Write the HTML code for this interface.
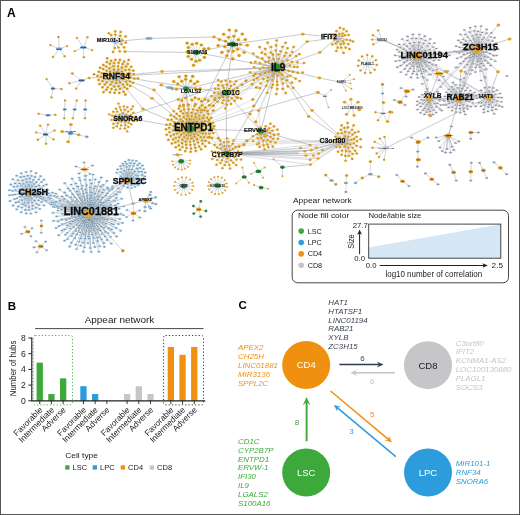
<!DOCTYPE html>
<html><head><meta charset="utf-8"><title>Figure</title>
<style>
html,body{margin:0;padding:0;background:#fff;}
body{width:520px;height:515px;overflow:hidden;position:relative;font-family:"Liberation Sans",sans-serif;}
svg{position:absolute;left:0;top:0;display:block;will-change:transform;opacity:0.999;}
#frame{position:absolute;left:0;top:0;width:518px;height:513px;border:1px solid #555;pointer-events:none;}
</style></head><body>
<svg width="520" height="515" viewBox="0 0 520 515" font-family="Liberation Sans, sans-serif">
<rect x="0" y="0" width="520" height="515" fill="#fff"/>
<g id="network">
<g fill="none" stroke="#79838D" stroke-linecap="round">
<path d="M115.2 41.6L149 38.4M149 38.4L214 37M214 37L232.7 44.2M125 51.6L196.4 52.5M196.4 52.5L232.7 44.2M196.4 52.5L276.7 67.6M116.1 76.2L162 71.5M162 71.5L276.7 67.6M123 117.4L276.7 67.6M116.1 76.2L276.7 67.6M116.1 76.2L154 90M154 90L189.8 128.8M116.1 76.2L152 98.3M152 98.3L189.8 128.8M161.2 85L169.5 87.6M169.5 87.6L186 88.8M116.1 76.2L226.2 92.8M123 117.4L189.8 128.8M116.1 76.2L143 109M143 109L189.8 128.8M232.7 44.2L189.8 128.8M232.7 44.2L226.2 92.8M232.7 44.2L276.7 67.6M232.7 44.2L302.8 34.2M302.8 34.2L337.4 37.6M276.7 67.6L189.8 128.8M276.7 67.6L226.2 92.8M276.7 67.6L226.6 153.6M276.7 67.6L260.9 131M276.7 67.6L186 88.8M276.7 67.6L307.1 41.7M307.1 41.7L337.4 37.6M276.7 67.6L319.9 52.4M319.9 52.4L337.4 37.6M276.7 67.6L319.3 78M319.3 78L341.3 82.3M276.7 67.6L308.7 116.4M308.7 116.4L345 141M276.7 67.6L312 110.4M312 110.4L345 141M226.2 92.8L189.8 128.8M186 88.8L189.8 128.8M226.2 92.8L260.9 131M189.8 128.8L226.6 153.6M189.8 128.8L260.9 131M226.2 92.8L226.6 153.6M324.8 95.8L317.8 92.4M317.8 92.4L189.8 128.8M260.9 131L310.1 144.9M282.4 167.2L310.5 164.6M416.7 56.2L476.8 49.2M416.7 56.2L459 98.6M416.7 56.2L429.3 98.2M476.8 49.2L459 98.6M476.8 49.2L488.8 96.9M459 98.6L429.3 98.2M459 98.6L488.8 96.9M476.8 49.2L429.3 98.2M416.7 56.2L488.8 96.9M438.7 73.5L416.7 56.2M438.7 73.5L459 98.6M438.7 73.5L429.3 98.2M461 70.9L476.8 49.2M461 70.9L459 98.6M446.5 71.7L438.7 73.5M498 71.8L476.8 49.2M498 71.8L488.8 96.9M488.8 96.9L386.3 147.7M459 98.6L448.3 135.8M416.7 56.2L385 40.6M385 40.6L381.9 40.2M429.3 98.2L430.4 115.8M476.8 49.2L498.4 25M476.8 49.2L509.6 39M89.1 78L116.1 76.2M133.1 203.6L127.1 180.9M133.1 203.6L145.7 200.5M133.1 203.6L88.6 213.6M88.6 213.6L127.1 180.9M29.5 192.6L88.6 213.6M381.9 40.2L400 47" stroke-width="0.5" opacity="0.85"/>
<path d="M226.6 153.6L310.1 144.9M226.6 153.6L316.4 147.7M226.6 153.6L304.8 151.3M226.6 153.6L311.2 150.2M226.6 153.6L318.6 153.4M226.6 153.6L305.9 155.5M226.6 153.6L313.3 155.5M226.6 153.6L310.1 159.7M226.6 153.6L310.5 164.6M226.6 153.6L322.5 150M226.6 153.6L300.5 148M226.6 153.6L318 158.5" stroke-width="0.5" opacity="0.55"/>
<path d="M310.1 144.9L345 141M316.4 147.7L345 141M304.8 151.3L345 141M311.2 150.2L345 141M318.6 153.4L345 141M305.9 155.5L345 141M313.3 155.5L345 141M310.1 159.7L345 141M310.5 164.6L345 141M322.5 150L345 141M300.5 148L345 141M318 158.5L345 141" stroke-width="0.4" opacity="0.7"/>
<path d="M214 141.5L345 141M216 144L345 141M219 146.5L345 141M212 139L345 141" stroke-width="0.3" opacity="0.7"/>
<path d="M173 154.7L182 154.7" stroke-width="1.6" opacity="0.5"/>
<path d="M243 154.2L298 152.8" stroke-width="2.2" opacity="0.3"/>
<path d="M416.7 56.2L446 53.4M446 53.4L476.8 49.2M416.7 56.2L454.4 51.5M454.4 51.5L476.8 49.2M416.7 56.2L447 53.6M447 53.6L476.8 49.2M416.7 56.2L441.1 53.5M441.1 53.5L476.8 49.2M416.7 56.2L449.4 55.3M449.4 55.3L476.8 49.2M416.7 56.2L439.2 51.6M439.2 51.6L476.8 49.2M416.7 56.2L430.5 74.4M430.5 74.4L459 98.6M416.7 56.2L443.5 76.6M443.5 76.6L459 98.6M416.7 56.2L440.7 86.8M440.7 86.8L459 98.6M416.7 56.2L439 80.2M439 80.2L459 98.6M416.7 56.2L436.9 69.6M436.9 69.6L459 98.6M416.7 56.2L441.3 74.7M441.3 74.7L459 98.6M476.8 49.2L472 70.2M472 70.2L459 98.6M476.8 49.2L470.7 67.1M470.7 67.1L459 98.6M476.8 49.2L465 71.9M465 71.9L459 98.6M476.8 49.2L466.5 73.7M466.5 73.7L459 98.6M476.8 49.2L466.4 73.3M466.4 73.3L459 98.6M476.8 49.2L470.2 74M470.2 74L459 98.6M476.8 49.2L460.6 79.6M460.6 79.6L459 98.6M476.8 49.2L464.1 78.2M464.1 78.2L459 98.6M476.8 49.2L484.8 69.7M484.8 69.7L488.8 96.9M476.8 49.2L486.2 69M486.2 69L488.8 96.9M476.8 49.2L484.7 76.6M484.7 76.6L488.8 96.9M476.8 49.2L485.1 77.7M485.1 77.7L488.8 96.9M476.8 49.2L481.1 80.5M481.1 80.5L488.8 96.9M459 98.6L448.6 101.4M448.6 101.4L429.3 98.2M459 98.6L440.5 98.7M440.5 98.7L429.3 98.2M459 98.6L439.9 99.4M439.9 99.4L429.3 98.2M459 98.6L470.2 99.3M470.2 99.3L488.8 96.9M459 98.6L476.3 95.3M476.3 95.3L488.8 96.9M459 98.6L470.1 96.3M470.1 96.3L488.8 96.9M416.7 56.2L422.3 83.8M422.3 83.8L429.3 98.2M416.7 56.2L424 71.7M424 71.7L429.3 98.2M416.7 56.2L425.7 70.9M425.7 70.9L429.3 98.2M416.7 56.2L427.2 80M427.2 80L429.3 98.2M416.7 56.2L423.7 77.8M423.7 77.8L429.3 98.2M476.8 49.2L455.8 67.5M455.8 67.5L429.3 98.2M476.8 49.2L457.3 67.3M457.3 67.3L429.3 98.2M416.7 56.2L444.8 71.2M444.8 71.2L488.8 96.9M416.7 56.2L447.7 71M447.7 71L488.8 96.9" stroke-width="0.25" opacity="0.6"/>
<path d="M189.8 128.8L195.5 104.2M186 88.8L195.5 104.2M189.8 128.8L183.5 105M186 88.8L183.5 105M189.8 128.8L181.8 100.5M186 88.8L181.8 100.5M189.8 128.8L179.8 105.9M186 88.8L179.8 105.9M189.8 128.8L191.9 100M186 88.8L191.9 100M189.8 128.8L188.3 104.8M186 88.8L188.3 104.8M189.8 128.8L185.6 97.9M186 88.8L185.6 97.9M189.8 128.8L178.3 99.4M186 88.8L178.3 99.4M189.8 128.8L195.1 97.8M186 88.8L195.1 97.8M189.8 128.8L202 105.4M226.2 92.8L202 105.4M189.8 128.8L209.5 105.3M226.2 92.8L209.5 105.3M189.8 128.8L213.2 105.8M226.2 92.8L213.2 105.8M189.8 128.8L213.2 110.6M226.2 92.8L213.2 110.6M189.8 128.8L201.7 109.9M226.2 92.8L201.7 109.9M189.8 128.8L208.3 100.8M226.2 92.8L208.3 100.8M189.8 128.8L214.7 99.8M226.2 92.8L214.7 99.8M189.8 128.8L201.5 101.2M226.2 92.8L201.5 101.2M189.8 128.8L205.3 107.6M226.2 92.8L205.3 107.6M189.8 128.8L204.8 99.4M226.2 92.8L204.8 99.4M189.8 128.8L207.4 111.1M226.2 92.8L207.4 111.1M189.8 128.8L198.7 98.9M226.2 92.8L198.7 98.9M276.7 67.6L246 80.8M226.2 92.8L246 80.8M276.7 67.6L253.7 75.6M226.2 92.8L253.7 75.6M276.7 67.6L241.9 84.8M226.2 92.8L241.9 84.8M276.7 67.6L252.1 84.1M226.2 92.8L252.1 84.1M276.7 67.6L256.4 87.4M226.2 92.8L256.4 87.4M276.7 67.6L237.6 97.9M189.8 128.8L237.6 97.9M276.7 67.6L253.8 106M189.8 128.8L253.8 106M276.7 67.6L252.9 99.4M189.8 128.8L252.9 99.4M276.7 67.6L258.6 110.6M260.9 131L258.6 110.6M276.7 67.6L255.8 121.8M260.9 131L255.8 121.8M276.7 67.6L249.9 113.9M260.9 131L249.9 113.9M189.8 128.8L218.4 138.3M226.6 153.6L218.4 138.3M189.8 128.8L214 126.1M226.6 153.6L214 126.1M189.8 128.8L209.4 137.3M226.6 153.6L209.4 137.3M189.8 128.8L209.1 119.8M226.6 153.6L209.1 119.8M260.9 131L243.9 144.8M226.6 153.6L243.9 144.8M260.9 131L246.9 140.8M226.6 153.6L246.9 140.8M260.9 131L239 146.6M226.6 153.6L239 146.6M29.5 192.6L55.9 193.6M88.6 213.6L55.9 193.6M29.5 192.6L53.6 204.1M88.6 213.6L53.6 204.1M29.5 192.6L51.3 204.4M88.6 213.6L51.3 204.4M29.5 192.6L51.4 202.6M88.6 213.6L51.4 202.6M29.5 192.6L48.6 197.4M88.6 213.6L48.6 197.4M29.5 192.6L53.7 202.4M88.6 213.6L53.7 202.4M29.5 192.6L52.6 192.6M88.6 213.6L52.6 192.6M29.5 192.6L53.4 206.7M88.6 213.6L53.4 206.7M29.5 192.6L50.5 195.5M88.6 213.6L50.5 195.5M29.5 192.6L54.3 195.9M88.6 213.6L54.3 195.9M29.5 192.6L48.6 193.3M88.6 213.6L48.6 193.3M29.5 192.6L54.4 207M88.6 213.6L54.4 207M29.5 192.6L56 202M88.6 213.6L56 202M29.5 192.6L57.1 206.4M88.6 213.6L57.1 206.4M29.5 192.6L50.5 198.5M88.6 213.6L50.5 198.5M29.5 192.6L58.2 208M88.6 213.6L58.2 208M127.1 180.9L116.3 194.2M88.6 213.6L116.3 194.2M127.1 180.9L112.5 187.2M88.6 213.6L112.5 187.2M127.1 180.9L112.3 189M88.6 213.6L112.3 189M127.1 180.9L116.2 194.5M88.6 213.6L116.2 194.5M127.1 180.9L116.2 197.8M88.6 213.6L116.2 197.8M127.1 180.9L108 188.7M88.6 213.6L108 188.7M127.1 180.9L109.3 190.8M88.6 213.6L109.3 190.8M127.1 180.9L119.9 192.1M88.6 213.6L119.9 192.1M127.1 180.9L118.4 188.4M88.6 213.6L118.4 188.4" stroke-width="0.3" opacity="0.75"/>
<path d="M116.1 76.2L119.9 78.2M116.1 76.2L116.6 79.9M116.1 76.2L113 79.1M116.1 76.2L111.6 76.1M116.1 76.2L113.6 72.6M116.1 76.2L117.3 72.1M116.1 76.2L120.3 74.9M116.1 76.2L116.1 83.1M116.1 76.2L112 82M116.1 76.2L109.2 79.2M116.1 76.2L108.2 75.1M116.1 76.2L110.2 71.4M116.1 76.2L114 69.8M116.1 76.2L118.4 69.4M116.1 76.2L121.9 71.4M116.1 76.2L123.8 74.9M116.1 76.2L123.6 78.9M116.1 76.2L120.2 82.3M116.1 76.2L109.5 68.3M116.1 76.2L113.5 66.2M116.1 76.2L118 66.3M116.1 76.2L121.9 67.6M116.1 76.2L125.4 70M116.1 76.2L127.3 73.9M116.1 76.2L127.6 78M116.1 76.2L126.1 81.7M116.1 76.2L123 84.5M116.1 76.2L118.6 86.2M116.1 76.2L114.3 86.5M116.1 76.2L110.4 84.6M116.1 76.2L106.6 82.4M116.1 76.2L105.6 78.7M116.1 76.2L105.1 74.7M116.1 76.2L106.7 70.7M116.1 76.2L127.2 84.4M116.1 76.2L124.4 87.3M116.1 76.2L120.1 88.7M116.1 76.2L115.9 89.8M116.1 76.2L111.5 89.1M116.1 76.2L107.7 87.4M116.1 76.2L104.7 84.5M116.1 76.2L102.4 81.1M116.1 76.2L101.1 77.1M116.1 76.2L101.7 73.3M116.1 76.2L103.2 69.1M116.1 76.2L106.2 66.5M116.1 76.2L109.8 63.8M116.1 76.2L114 63.1M116.1 76.2L118.5 62.8M116.1 76.2L122.7 63.9M116.1 76.2L126.1 66.4M116.1 76.2L129.3 69.7M116.1 76.2L130 73.5M116.1 76.2L130.4 77.3M116.1 76.2L130.1 81.5M116.1 76.2L110 92.3M116.1 76.2L106.3 89.7M116.1 76.2L102.5 87.2M116.1 76.2L99.6 83.9M116.1 76.2L98.6 79.9M116.1 76.2L97.6 75.9M116.1 76.2L98.8 71.8M116.1 76.2L100.1 67.8M116.1 76.2L103.3 64.9M116.1 76.2L106.8 62.1M116.1 76.2L111.2 60.8M116.1 76.2L115.4 59.7M116.1 76.2L119.9 59.9M116.1 76.2L124.1 61.5M116.1 76.2L127.8 63.9M116.1 76.2L131.2 66.8M116.1 76.2L133.3 70.5M116.1 76.2L133.8 74.3M116.1 76.2L134.4 78.5M116.1 76.2L133 82.7M116.1 76.2L130.2 85.9M116.1 76.2L127.2 88.8M116.1 76.2L123.6 91.7M116.1 76.2L119.3 92.9M116.1 76.2L114.5 92.7M116.1 76.2L137.9 78.4M116.1 76.2L125.3 94.6M116.1 76.2L103.5 92.1M116.1 76.2L94 74.2M116.1 76.2L107.2 58.2M116.1 76.2L128.7 60M115.2 41.6L111.2 35M115.2 41.6L115.4 34.8M115.2 41.6L120.3 35.9M115.2 41.6L122.3 40.4M115.2 41.6L121.5 44.1M115.2 41.6L118.5 47.5M115.2 41.6L114.8 48.1M115.2 41.6L108.8 33.2M115.2 41.6L115.2 31.4M115.2 41.6L120.7 31.9M115.2 41.6L125.7 36.4M115.2 41.6L125.8 42.6M115.2 41.6L124.1 47.4M115.2 41.6L119.8 51.4M115.2 41.6L113.1 51.9M123 117.4L125.3 121.9M123 117.4L121.2 121.4M123 117.4L118.7 118.5M123 117.4L119.7 114.8M123 117.4L123 113.2M123 117.4L126.3 114.7M123 117.4L127.3 118.5M123 117.4L130.5 119.5M123 117.4L128.7 122.8M123 117.4L125.3 125.1M123 117.4L121.1 125.4M123 117.4L117.6 123.2M123 117.4L115.6 119.8M123 117.4L115.4 115.5M123 117.4L117 111.6M123 117.4L120.9 109.9M123 117.4L125 109.7M123 117.4L128.2 111.5M123 117.4L130.4 115.2M123 117.4L133.7 120.9M123 117.4L131.3 124.3M123 117.4L128.4 127M123 117.4L124.7 128.5M123 117.4L120.2 128.6M123 117.4L116.9 126.4M123 117.4L113.4 123.8M123 117.4L111.6 119.9M123 117.4L112.1 115.6M123 117.4L113.2 111.8M123 117.4L116 108.7M123 117.4L119.8 107.1M123 117.4L123.8 106.5M123 117.4L127.4 107.2M123 117.4L131.3 109.2M123 117.4L133.3 112.8M123 117.4L134 117.2M123 117.4L127.2 131.4M123 117.4L113.3 127.8M123 117.4L109.3 114.4M123 117.4L118.5 103.6M123 117.4L133 106.4M123 117.4L136.7 120.6M28.5 192.6L29.5 196.5M28.5 192.6L26.5 197M28.5 192.6L24.3 194M28.5 192.6L25.4 190.9M28.5 192.6L27.4 188.4M28.5 192.6L30.4 188.1M28.5 192.6L32 191.2M28.5 192.6L31.7 194.6M28.5 192.6L34.3 196.1M28.5 192.6L31.7 198.6M28.5 192.6L28.7 200.1M28.5 192.6L25.2 198.8M28.5 192.6L22.1 196.2M28.5 192.6L21.7 192.3M28.5 192.6L22.7 188.7M28.5 192.6L25.5 186.2M28.5 192.6L29 185M28.5 192.6L32 186.1M28.5 192.6L34.2 189.4M28.5 192.6L35.9 192.6M28.5 192.6L19.2 193.3M28.5 192.6L19.8 189.8M28.5 192.6L21.1 185.8M28.5 192.6L23.4 183.9M28.5 192.6L26.9 182.1M28.5 192.6L30.3 182.2M28.5 192.6L33.9 183.9M28.5 192.6L35.9 186.5M28.5 192.6L37.3 190.2M28.5 192.6L38 193.9M28.5 192.6L36.9 197.1M28.5 192.6L34.5 200.5M28.5 192.6L32.1 202.6M28.5 192.6L28.2 202.8M28.5 192.6L24.2 202.9M28.5 192.6L21.9 200.2M28.5 192.6L19.9 196.7M28.5 192.6L29 206.9M28.5 192.6L25.5 205.5M28.5 192.6L22.6 204.2M28.5 192.6L18.6 201.9M28.5 192.6L16.6 198.4M28.5 192.6L15.2 194.4M28.5 192.6L15.4 189.9M28.5 192.6L17.3 186.1M28.5 192.6L19.5 183.4M28.5 192.6L22.5 180.4M28.5 192.6L26.1 179.1M28.5 192.6L29.5 178.3M28.5 192.6L33.3 179.9M28.5 192.6L36.2 182.2M28.5 192.6L39 185.5M28.5 192.6L41.3 188.4M28.5 192.6L40.9 193M28.5 192.6L40.4 196.5M28.5 192.6L38.5 200.3M28.5 192.6L36.8 203.8M28.5 192.6L32.7 205.7M28.5 192.6L18.3 206.5M28.5 192.6L16 202.5M28.5 192.6L14.5 199M28.5 192.6L12.4 195M28.5 192.6L12.5 190.8M28.5 192.6L13.8 186.8M28.5 192.6L15.1 183.4M28.5 192.6L17.9 180.2M28.5 192.6L20.6 177M28.5 192.6L24.1 176.4M28.5 192.6L27.9 175.7M28.5 192.6L31.6 175.9M28.5 192.6L35 177M28.5 192.6L38.8 179.3M28.5 192.6L41.6 182M28.5 192.6L43.5 185.8M28.5 192.6L44.8 190.1M28.5 192.6L44.2 193.8M28.5 192.6L43.5 197.8M28.5 192.6L41.7 201.9M28.5 192.6L39.1 204.9M28.5 192.6L36.2 207.7M28.5 192.6L32.5 208.8M28.5 192.6L28.8 209.9M28.5 192.6L25.2 210M28.5 192.6L21.7 207.6M28.5 192.6L45.9 200.6M28.5 192.6L43.9 205.3M28.5 192.6L39.7 208.9M28.5 192.6L36.1 212.3M28.5 192.6L30.8 213.6M28.5 192.6L26.2 213.4M28.5 192.6L21.3 212.2M28.5 192.6L16.7 209.3M28.5 192.6L13 205.5M28.5 192.6L10.1 201M28.5 192.6L9.6 195.2M28.5 192.6L9.4 190.2M28.5 192.6L10.8 184.5M28.5 192.6L12.8 179.3M28.5 192.6L16.7 175.7M28.5 192.6L21.3 173.3M28.5 192.6L26.1 171.9M28.5 192.6L31 171.1M28.5 192.6L36 173M28.5 192.6L40.6 176.2M28.5 192.6L43.9 179.7M28.5 192.6L46.4 184.5M28.5 192.6L47.6 190M28.5 192.6L47.2 195.2M127.1 180.9L130.7 175.9M127.1 180.9L129.6 172.9M127.1 180.9L132.6 173.2M127.1 180.9L131.9 169.4M127.1 180.9L134.6 171.5M127.1 180.9L136.1 175M127.1 180.9L134 178.2M127.1 180.9L130.1 178.2M127.1 180.9L127.3 176M127.1 180.9L126.7 172.9M127.1 180.9L128.8 169.4M127.1 180.9L123.2 174.1M127.1 180.9L124.3 170.7M127.1 180.9L126.6 166.9M127.1 180.9L129.7 165.8M127.1 180.9L133.6 165.8M127.1 180.9L137.2 168.7M127.1 180.9L138.9 171.7M127.1 180.9L137.9 175.8M127.1 180.9L136.2 178.4M127.1 180.9L133.4 180.2M127.1 180.9L130.2 181M127.1 180.9L123.4 177.5M127.1 180.9L140.4 178.9M127.1 180.9L137.9 181.5M127.1 180.9L134.9 183.9M127.1 180.9L131.4 185.1M127.1 180.9L127.6 184.1M127.1 180.9L124.5 182.3M127.1 180.9L121.7 179.3M127.1 180.9L120.8 176.2M127.1 180.9L120.5 172.2M127.1 180.9L121.3 168.8M127.1 180.9L123.6 165.6M127.1 180.9L126.7 164M127.1 180.9L130.5 163M127.1 180.9L134.1 163.4M127.1 180.9L137.8 165M127.1 180.9L140 168M127.1 180.9L141.7 171.7M127.1 180.9L142.2 175M127.1 180.9L116.7 172.8M127.1 180.9L117.7 169.4M127.1 180.9L120.5 166.2M127.1 180.9L122.8 163.7M127.1 180.9L125.4 161.7M127.1 180.9L128.9 160M127.1 180.9L132.5 160.4M127.1 180.9L136.3 160.9M127.1 180.9L139.4 163.3M127.1 180.9L142.3 165.5M127.1 180.9L143.5 169.1M127.1 180.9L145.1 172.5M127.1 180.9L144.8 176.4M127.1 180.9L143.5 179.9M127.1 180.9L140.9 183.2M127.1 180.9L138.1 185.1M127.1 180.9L135 186.7M127.1 180.9L131.5 188.1M127.1 180.9L127.6 187.5M127.1 180.9L123.7 186M127.1 180.9L121.2 183.3M145.7 200.5L150 194.9M145.7 200.5L151.5 198.3M145.7 200.5L152.6 203.2M145.7 200.5L149.5 206.9M145.7 200.5L145 207.1M145.7 200.5L150.8 192M145.7 200.5L155.5 197.4M145.7 200.5L155.8 204.1M145.7 200.5L150.7 208.5M145.7 200.5L144.8 211.2M189.8 128.8L187.8 132.5M189.8 128.8L185.4 129.7M189.8 128.8L186.4 125.9M189.8 128.8L190 124.5M189.8 128.8L193.5 126.3M189.8 128.8L193.9 129.8M189.8 128.8L191.3 132.5M189.8 128.8L195.9 131.6M189.8 128.8L194.2 134.7M189.8 128.8L190.3 135.6M189.8 128.8L186.4 135.3M189.8 128.8L183.9 132.9M189.8 128.8L182.7 129.6M189.8 128.8L183.5 126.2M189.8 128.8L185.5 123.2M189.8 128.8L189.1 122.3M189.8 128.8L192.9 122.8M189.8 128.8L195.7 125M189.8 128.8L197.1 128.2M189.8 128.8L198.1 135.1M189.8 128.8L194.6 136.9M189.8 128.8L191.5 138.5M189.8 128.8L187.7 138.6M189.8 128.8L184.3 137.1M189.8 128.8L181.1 134.7M189.8 128.8L179.9 131.2M189.8 128.8L179.7 127.7M189.8 128.8L180.5 124.4M189.8 128.8L182.8 121.2M189.8 128.8L186.6 119.4M189.8 128.8L189.9 119.2M189.8 128.8L193.7 119.6M189.8 128.8L197 121.6M189.8 128.8L199.3 124.5M189.8 128.8L200 128M189.8 128.8L199.7 131.7M189.8 128.8L191.7 116.1M189.8 128.8L195.5 117.3M189.8 128.8L199.4 118.9M189.8 128.8L201.7 122.1M189.8 128.8L203.4 125.9M189.8 128.8L203.4 129.8M189.8 128.8L202.4 133.4M189.8 128.8L200.7 137.2M189.8 128.8L197.3 139.3M189.8 128.8L193.9 140.9M189.8 128.8L190.1 141.6M189.8 128.8L185.6 141.6M189.8 128.8L182.3 139.8M189.8 128.8L179.3 137.2M189.8 128.8L177.1 133.6M189.8 128.8L176.2 129.9M189.8 128.8L176 126M189.8 128.8L178.2 122.6M189.8 128.8L180.7 119.5M189.8 128.8L183.7 117.2M189.8 128.8L187.7 115.5M189.8 128.8L195.4 113.7M189.8 128.8L199.4 115.7M189.8 128.8L202.8 118M189.8 128.8L204.9 121.3M189.8 128.8L206.6 125.5M189.8 128.8L206.5 129.3M189.8 128.8L205.8 133.4M189.8 128.8L204.2 137.1M189.8 128.8L202.1 140.4M189.8 128.8L198 142.4M189.8 128.8L194.6 144.5M189.8 128.8L190.3 144.8M189.8 128.8L186.1 144.7M189.8 128.8L182 143.3M189.8 128.8L178.2 141.1M189.8 128.8L175.8 137.9M189.8 128.8L173.8 134.5M189.8 128.8L173 130.3M189.8 128.8L173.6 126.1M189.8 128.8L174.3 122.4M189.8 128.8L176.3 118.4M189.8 128.8L179.7 115.9M189.8 128.8L183.2 113.4M189.8 128.8L187.1 112.9M189.8 128.8L191.6 112.8M189.8 128.8L200.9 112.1M189.8 128.8L203.8 115.4M189.8 128.8L207.1 117.8M189.8 128.8L208.3 121.9M189.8 128.8L209.6 125.8M189.8 128.8L210.2 129.7M189.8 128.8L209.4 133.7M189.8 128.8L207.8 137.5M189.8 128.8L205.3 140.9M189.8 128.8L202.6 143.8M189.8 128.8L199.2 146.5M189.8 128.8L195.3 147.7M189.8 128.8L191 148.5M189.8 128.8L186.6 148.1M189.8 128.8L182.5 147.1M189.8 128.8L178.9 145.5M189.8 128.8L175.4 142.4M189.8 128.8L173.2 139.4M189.8 128.8L170.8 136M189.8 128.8L169.5 132.1M189.8 128.8L169.2 127.8M189.8 128.8L170.2 124M189.8 128.8L171.5 119.6M189.8 128.8L174.3 116.7M189.8 128.8L176.8 113.8M189.8 128.8L180.7 111.2M189.8 128.8L184.1 109.4M189.8 128.8L188.7 109.1M189.8 128.8L193.1 109.4M189.8 128.8L197.2 110.3M189.8 128.8L201.1 149.3M189.8 128.8L195.8 150.9M189.8 128.8L190.6 151.8M189.8 128.8L185.2 151.1M189.8 128.8L180 149.8M189.8 128.8L175.8 147.2M189.8 128.8L171.9 143.5M189.8 128.8L168.4 139.7M189.8 128.8L166.7 134.7M189.8 128.8L166 129.3M189.8 128.8L166.5 124.7M189.8 128.8L167.9 119.7M189.8 128.8L170.8 115.2M189.8 128.8L173.8 111.1M189.8 128.8L178.9 108.4M189.8 128.8L183.5 106.4M189.8 128.8L188.9 105.3M189.8 128.8L194.5 105.7M189.8 128.8L199.3 107.8M189.8 128.8L204.4 110.3M189.8 128.8L208.2 113.7M189.8 128.8L211.2 117.8M189.8 128.8L212.9 122.9M189.8 128.8L213.2 128.3M189.8 128.8L213.2 133M189.8 128.8L212 138M189.8 128.8L209.1 142.7M189.8 128.8L205.3 146.2M276.7 67.6L276.4 62.9M276.7 67.6L279.7 64.7M276.7 67.6L282.2 68.2M276.7 67.6L279.3 72.4M276.7 67.6L275.1 71.3M276.7 67.6L273.3 69M276.7 67.6L272.5 65.9M276.7 67.6L268.5 61.4M276.7 67.6L273.4 59.2M276.7 67.6L278.6 59.1M276.7 67.6L282.6 61.6M276.7 67.6L284.8 65.8M276.7 67.6L284.8 70.1M276.7 67.6L281.9 74.7M276.7 67.6L277.7 75.7M276.7 67.6L272.6 75.7M276.7 67.6L269.4 71.8M276.7 67.6L268.3 67.5M276.7 67.6L288.7 71.1M276.7 67.6L287.5 76.5M276.7 67.6L282.3 79M276.7 67.6L277.1 81.6M276.7 67.6L272.3 80M276.7 67.6L267.9 77.4M276.7 67.6L264.9 72.9M276.7 67.6L263.3 67.5M276.7 67.6L265.6 62.1M276.7 67.6L269.2 57.6M276.7 67.6L273 54.7M276.7 67.6L278.4 54.5M276.7 67.6L284.6 55.9M276.7 67.6L287.6 60.3M276.7 67.6L289.8 65.5M276.7 67.6L267.4 80.9M276.7 67.6L263.4 79M276.7 67.6L260 74.3M276.7 67.6L259.9 69M276.7 67.6L259.8 63.1M276.7 67.6L262.2 58.4M276.7 67.6L265.3 54.2M276.7 67.6L270.8 52.6M276.7 67.6L275.7 50.5M276.7 67.6L280.6 51.3M276.7 67.6L286.2 52.8M276.7 67.6L290.1 55.6M276.7 67.6L291.9 61.8M276.7 67.6L294.3 66.8M276.7 67.6L292.8 71.9M276.7 67.6L290.3 75.8M276.7 67.6L286.9 80.4M276.7 67.6L283 83.4M276.7 67.6L277.4 84.8M276.7 67.6L272.8 84.8M276.7 67.6L257.4 57.1M276.7 67.6L261.8 52.7M276.7 67.6L265.2 48.9M276.7 67.6L271.1 47M276.7 67.6L276 45.4M276.7 67.6L282.4 46.9M276.7 67.6L287.5 48.2M276.7 67.6L292.3 52M276.7 67.6L296.1 56.1M276.7 67.6L297.5 62.3M276.7 67.6L297.5 67M276.7 67.6L297.7 72.8M276.7 67.6L295.6 78.6M276.7 67.6L291.9 82.7M276.7 67.6L287.8 86.4M276.7 67.6L282.7 88.9M276.7 67.6L277.3 89M276.7 67.6L271.6 87.6M276.7 67.6L266.1 86M276.7 67.6L260.7 83.3M276.7 67.6L257.1 78.4M276.7 67.6L255.4 73.9M276.7 67.6L254.1 67.3M276.7 67.6L255.4 61.9M276.7 67.6L299.3 54.2M276.7 67.6L304 63M276.7 67.6L302.7 72.6M276.7 67.6L299.6 81.1M276.7 67.6L293.3 87.9M276.7 67.6L285.7 93.1M276.7 67.6L276.3 94M276.7 67.6L267.3 92.8M276.7 67.6L259.7 88.1M276.7 67.6L253.9 80.1M276.7 67.6L250.1 72.4M276.7 67.6L250.8 62.7M276.7 67.6L253.2 53.5M276.7 67.6L259.6 47.2M276.7 67.6L267.6 42.7M276.7 67.6L276.6 40.5M276.7 67.6L285.6 42.8M276.7 67.6L293.7 47M226.2 92.8L229.3 88.8M226.2 92.8L230.9 93M226.2 92.8L227.8 97.2M226.2 92.8L223 97.1M226.2 92.8L221.7 92.6M226.2 92.8L223.6 87.8M226.2 92.8L227 84.7M226.2 92.8L230.9 85.9M226.2 92.8L233.7 90M226.2 92.8L233.9 94.6M226.2 92.8L231.8 98.2M226.2 92.8L228.2 100.5M226.2 92.8L223.6 100.2M226.2 92.8L219.4 97.7M226.2 92.8L218.4 93.4M226.2 92.8L218.6 88.7M226.2 92.8L222.6 85.6M226.2 92.8L215.2 88.7M226.2 92.8L218.2 85M226.2 92.8L221.4 81.6M226.2 92.8L225.8 80.8M226.2 92.8L230.2 81.4M226.2 92.8L234.3 84.3M226.2 92.8L237.4 88M226.2 92.8L238.3 92.1M226.2 92.8L236.6 97.2M226.2 92.8L234.7 100.8M226.2 92.8L231 104M226.2 92.8L226.9 104.8M226.2 92.8L222.3 103M226.2 92.8L217.3 101.8M226.2 92.8L215 98.1M226.2 92.8L214.3 92.9M226.2 92.8L211.5 96M226.2 92.8L218.1 80M226.2 92.8L236 81.3M226.2 92.8L241 98.7M226.2 92.8L225.4 108.5M186 88.8L176.4 89.2M186 88.8L177.8 84M186 88.8L181.8 81.2M186 88.8L185.7 79.2M186 88.8L190.7 81.1M186 88.8L194.5 83.8M186 88.8L195.3 88.8M186 88.8L172.2 88.7M186 88.8L173.8 81.5M186 88.8L179.1 76.7M186 88.8L185.9 76.1M186 88.8L192.7 76.4M186 88.8L197.5 81.7M186 88.8L200.1 88.7M196.4 52.5L199.7 60.2M196.4 52.5L196.1 61.3M196.4 52.5L191.5 59.3M196.4 52.5L188.2 56.5M196.4 52.5L187.4 51.9M196.4 52.5L188.3 47.6M196.4 52.5L192.2 44.3M196.4 52.5L196.7 43.3M196.4 52.5L201.4 45M196.4 52.5L204.1 48.9M196.4 52.5L205.4 53.4M196.4 52.5L204.4 57.4M196.4 52.5L193.5 65.3M196.4 52.5L187.1 43.1M196.4 52.5L208.7 48.6M232.7 44.2L233.2 51.2M232.7 44.2L228.3 51.1M232.7 44.2L224.9 46.8M232.7 44.2L225.5 41.2M232.7 44.2L228.6 37.3M232.7 44.2L233.9 36.2M232.7 44.2L238.4 39.7M232.7 44.2L240.4 44.5M232.7 44.2L237.6 49.3M232.7 44.2L219.4 39.6M232.7 44.2L223.6 34.2M232.7 44.2L229.3 30.1M232.7 44.2L236 30.7M232.7 44.2L242.3 34M232.7 44.2L245.3 39.6M232.7 44.2L247.2 45.3M232.7 44.2L244.1 52.5M232.7 44.2L239.1 55.6M232.7 44.2L232.8 58.9M232.7 44.2L226.9 55.8M232.7 44.2L221.9 52.4M232.7 44.2L218.1 45.6M226.6 153.6L225.2 149.3M226.6 153.6L229.6 150.4M226.6 153.6L230.6 154.9M226.6 153.6L227.6 158.3M226.6 153.6L223.6 156.4M226.6 153.6L222.3 152.4M226.6 153.6L219.4 157M226.6 153.6L218.5 152.1M226.6 153.6L220.8 148.4M226.6 153.6L224.4 146M226.6 153.6L228.7 145.9M226.6 153.6L232.7 148.8M226.6 153.6L234.1 152.5M226.6 153.6L234.2 157.1M226.6 153.6L230.9 160.4M226.6 153.6L226.4 161.9M226.6 153.6L222 160.3M226.6 153.6L215 151.8M226.6 153.6L217.2 147.6M226.6 153.6L220.2 144.6M226.6 153.6L224 142.2M226.6 153.6L228.5 141.7M226.6 153.6L232.9 143.8M226.6 153.6L235.4 147.1M226.6 153.6L238 151.2M226.6 153.6L238.1 155.5M226.6 153.6L236.5 159.8M226.6 153.6L233.4 162.8M226.6 153.6L229.3 164.9M226.6 153.6L224.9 165M226.6 153.6L220.5 163.1M226.6 153.6L217.3 160.1M226.6 153.6L215.5 156.5M226.6 153.6L220.2 140.5M226.6 153.6L227 138.3M226.6 153.6L233.6 140.6M226.6 153.6L239 145.7M226.6 153.6L241.8 152.3M226.6 153.6L241.1 159.6M226.6 153.6L236.1 165.1M226.6 153.6L230.1 168.5M226.6 153.6L222.4 168.2M226.6 153.6L216.5 164.8M226.6 153.6L212.2 159M226.6 153.6L211.9 151.4M226.6 153.6L214.6 144.9M260.9 131L266.7 135.7M260.9 131L264.6 136.5M260.9 131L264.7 134.5M260.9 131L267.4 130.4M260.9 131L269.9 132.7M260.9 131L270.5 137M260.9 131L267.7 140.2M260.9 131L263.1 140.6M260.9 131L261.1 138.1M260.9 131L260 134.1M260.9 131L265.6 126.3M260.9 131L269.2 128.2M260.9 131L272.4 130.7M260.9 131L274 134.9M260.9 131L273.2 138.8M260.9 131L270.8 141.8M260.9 131L267.4 144.6M260.9 131L263.6 145.4M260.9 131L258.7 143.2M260.9 131L257.6 138.3M260.9 131L257.4 134.3M260.9 131L257.6 129.9M260.9 131L260.4 127.6M260.9 131L270.5 123.7M260.9 131L273.9 126.4M260.9 131L277.5 129.6M260.9 131L278.4 134.2M260.9 131L278 138.8M260.9 131L275.5 142.6M260.9 131L272.8 146.6M260.9 131L268.3 147.1M260.9 131L264.5 149.4M260.9 131L259.6 146.9M260.9 131L257.1 144.2M260.9 131L253.1 141M260.9 131L252.9 136.3M337.4 37.6L342.4 36.3M337.4 37.6L343.1 41.3M337.4 37.6L345 35.3M337.4 37.6L346.6 39.7M337.4 37.6L343.8 43.5M337.4 37.6L340.8 44.3M337.4 37.6L337.4 41.8M337.4 37.6L339.3 34.1M337.4 37.6L342.6 33.5M337.4 37.6L340 27.8M337.4 37.6L343.6 29.1M337.4 37.6L346.6 31.3M337.4 37.6L348.5 34.9M337.4 37.6L350.2 40.4M337.4 37.6L348.3 44.1M337.4 37.6L345.6 47.7M337.4 37.6L341.2 47.6M337.4 37.6L337.9 47.8M337.4 37.6L335.7 43.5M337.4 37.6L334.5 39.7M337.4 37.6L334.5 34.4M337.4 37.6L336.5 31.1M337.4 37.6L353 41.5M337.4 37.6L349.5 49.1M337.4 37.6L343.5 52.9M337.4 37.6L336.3 51M337.4 37.6L332.4 44.5M337.4 37.6L331.4 36.5M345 141L347.4 139.5M345 141L347.2 143.4M345 141L342.1 139.3M345 141L344.9 136.4M345 141L348.3 136.7M345 141L351.5 139.7M345 141L350.3 144.4M345 141L348.4 147.7M345 141L344.6 146.6M345 141L342.1 144.1M345 141L346.2 151.1M345 141L342 150.8M345 141L339.9 146.9M345 141L338 142M345 141L339.1 137.7M345 141L341.6 133.2M345 141L345 131.9M345 141L349.2 132.6M345 141L352.4 134.6M345 141L354 138.9M345 141L353.8 143.2M345 141L352.7 147.8M345 141L349.7 151.6M345 141L345.4 155.9M345 141L341.6 154.8M345 141L338 151.8M345 141L336.4 147M345 141L335.9 142.5M345 141L335.6 136.8M345 141L338 133.4M345 141L340.8 129.8M345 141L344.5 127.9M345 141L348 127.4M345 141L352.1 129.8M345 141L354.8 132.6M345 141L356.6 136.8M345 141L357 141.2M345 141L356.5 145.8M345 141L355.1 150.7M345 141L352.6 154M345 141L348.7 155.8M345 141L341.6 125.4M345 141L347.6 122.9M345 141L353.6 125.4M345 141L358.4 131.6M345 141L360.7 139.3M345 141L360.7 147.1M345 141L356.7 153.5M345 141L352.2 158.9M345 141L345.6 160.7M81.6 80.4L72.4 73.5M81.6 80.4L89.1 78M70.5 133.2L86.8 136.7M382.5 84.4L383 113.3M400 102.6L407 91.2M390.2 112L387.6 121.5M325.7 175L335.8 184.3M346.6 175.5L345.9 191.9M355.5 183L362.3 178M362.3 178L370.4 174.2M370.4 174.2L378.7 176.7M370.4 174.2L370.4 161.6" stroke-width="0.35" opacity="0.8"/>
<path d="M88.6 213.6L90.1 217.4M88.6 213.6L87 217.5M88.6 213.6L85.3 215.6M88.6 213.6L84.2 212.5M88.6 213.6L85.9 208.5M88.6 213.6L90.3 209M88.6 213.6L92.6 211.6M88.6 213.6L92.2 215.3M88.6 213.6L92.9 206.6M88.6 213.6L95.3 210M88.6 213.6L95.8 213.3M88.6 213.6L94.9 216.8M88.6 213.6L92.4 219.6M88.6 213.6L89.3 222.3M88.6 213.6L86.4 220.6M88.6 213.6L83.4 218.9M88.6 213.6L81 215.2M88.6 213.6L82.3 212.5M88.6 213.6L83.5 208.6M88.6 213.6L85.9 206.3M88.6 213.6L89.6 206.7M88.6 213.6L86.7 224.3M88.6 213.6L82.5 223.7M88.6 213.6L80.7 219.6M88.6 213.6L79 216.6M88.6 213.6L79 211.9M88.6 213.6L79.5 208.7M88.6 213.6L82.6 205.6M88.6 213.6L85.4 203.7M88.6 213.6L88.4 202.7M88.6 213.6L92.5 202.4M88.6 213.6L95.2 206.7M88.6 213.6L97.6 209.2M88.6 213.6L98.8 212.8M88.6 213.6L97.5 216.8M88.6 213.6L96.4 221M88.6 213.6L94.5 223.5M88.6 213.6L90.5 224.6M88.6 213.6L100.6 215.4M88.6 213.6L100.4 219.7M88.6 213.6L97.6 223.2M88.6 213.6L94.8 226.9M88.6 213.6L91.7 228.4M88.6 213.6L87.7 228M88.6 213.6L83.9 226.8M88.6 213.6L79.6 225.5M88.6 213.6L78.4 220.6M88.6 213.6L75.5 217.5M88.6 213.6L75.8 213.7M88.6 213.6L76.5 209.1M88.6 213.6L78.6 205.4M88.6 213.6L80.8 203.1M88.6 213.6L84.5 200.8M88.6 213.6L87.5 198.6M88.6 213.6L91.5 200.3M88.6 213.6L95 202.1M88.6 213.6L98.2 204.8M88.6 213.6L100.5 207.7M88.6 213.6L101.7 212.2M88.6 213.6L72.7 221.4M88.6 213.6L71.8 216.9M88.6 213.6L72.3 212.6M88.6 213.6L73.2 209.3M88.6 213.6L75 204.8M88.6 213.6L76.3 201.1M88.6 213.6L79.9 198M88.6 213.6L83.5 196.2M88.6 213.6L87.5 195.1M88.6 213.6L91.3 195.6M88.6 213.6L95 197.8M88.6 213.6L98 199.5M88.6 213.6L101.4 202.5M88.6 213.6L103.8 205.6M88.6 213.6L105.8 209.7M88.6 213.6L106 214.3M88.6 213.6L104.6 219.4M88.6 213.6L102.5 222.9M88.6 213.6L101.1 226.6M88.6 213.6L97.6 229.7M88.6 213.6L93.9 230M88.6 213.6L90.2 230.9M88.6 213.6L86.3 230.9M88.6 213.6L82.4 229.1M88.6 213.6L78.9 227.9M88.6 213.6L76.5 224.9M88.6 213.6L91.6 192.4M88.6 213.6L95 193.5M88.6 213.6L98.6 196.5M88.6 213.6L102.6 197.5M88.6 213.6L105.5 202.1M88.6 213.6L107.4 206.3M88.6 213.6L108 211.1M88.6 213.6L108.5 215.5M88.6 213.6L107 219.6M88.6 213.6L105.8 223.7M88.6 213.6L103.8 227.7M88.6 213.6L100.1 230.5M88.6 213.6L95.9 233.2M88.6 213.6L92.3 234.6M88.6 213.6L88.3 236.3M88.6 213.6L83.7 234.2M88.6 213.6L80.2 232.3M88.6 213.6L75.8 230.9M88.6 213.6L73.6 227M88.6 213.6L70.2 223.5M88.6 213.6L70.1 218.6M88.6 213.6L68.3 214.3M88.6 213.6L68.2 209.7M88.6 213.6L70.1 204.6M88.6 213.6L72.3 201.1M88.6 213.6L74.5 197.2M88.6 213.6L78.3 194.5M88.6 213.6L83.3 193.4M88.6 213.6L86.7 192.6M88.6 213.6L102.6 192.4M88.6 213.6L105.9 195.6M88.6 213.6L108.6 200.4M88.6 213.6L110.7 205M88.6 213.6L111.1 209.2M88.6 213.6L111.9 213.7M88.6 213.6L112.1 219.3M88.6 213.6L111.6 223.6M88.6 213.6L108.9 228.2M88.6 213.6L105.6 232M88.6 213.6L102.1 234.1M88.6 213.6L98.2 237.6M88.6 213.6L93.6 238M88.6 213.6L89.1 238.5M88.6 213.6L85.2 238.7M88.6 213.6L80.7 238.4M88.6 213.6L76.9 234.4M88.6 213.6L73.1 233.6M88.6 213.6L70.4 228.6M88.6 213.6L67.1 225.4M88.6 213.6L66.3 220M88.6 213.6L64.6 215.3M88.6 213.6L65 211.2M88.6 213.6L66.4 205.8M88.6 213.6L68.2 202M88.6 213.6L70.7 197.2M88.6 213.6L72.6 194.2M88.6 213.6L76.9 191.5M88.6 213.6L81.5 188.7M88.6 213.6L85.3 189.6M88.6 213.6L90.2 187.3M88.6 213.6L93.9 188.4M88.6 213.6L99 191M88.6 213.6L103.8 189.6M88.6 213.6L107.2 193.4M88.6 213.6L110.6 196.8M88.6 213.6L114.3 200.6M88.6 213.6L115.3 205.4M88.6 213.6L115.7 210.2M88.6 213.6L115.6 215.4M88.6 213.6L114.9 220.3M88.6 213.6L113.4 224.4M88.6 213.6L111.7 229.5M88.6 213.6L108 233.1M88.6 213.6L105.1 236.4M88.6 213.6L101.6 239.6M88.6 213.6L97.7 241M88.6 213.6L93.2 242.9M88.6 213.6L87.9 243.2M88.6 213.6L83.5 242.7M88.6 213.6L79 241.6M88.6 213.6L74.8 238.2M88.6 213.6L71.6 235.9M88.6 213.6L67.2 232.9M88.6 213.6L64.4 229.3M88.6 213.6L62.3 224.1M88.6 213.6L61.6 219.5M88.6 213.6L62.3 213.8M88.6 213.6L61.4 209.7M88.6 213.6L61.9 204.8M88.6 213.6L64.2 199M88.6 213.6L66.5 195.5M88.6 213.6L70 190.7M88.6 213.6L73.4 188.6M88.6 213.6L77.9 186.5M88.6 213.6L82.2 185.8M88.6 213.6L86.4 185.2M88.6 213.6L91.5 183.4M88.6 213.6L95.6 186.3M88.6 213.6L100.8 186.5M88.6 213.6L62 230.5M88.6 213.6L59 226M88.6 213.6L58.1 221.4M88.6 213.6L56.7 216.4M88.6 213.6L57.9 210.6M88.6 213.6L57.4 205.8M88.6 213.6L59.9 200.7M88.6 213.6L62.1 196.4M88.6 213.6L64.7 192.5M88.6 213.6L68.1 188.5M88.6 213.6L71 184.6M88.6 213.6L75.8 183.4M88.6 213.6L80.1 180.3M88.6 213.6L84.9 179.6M88.6 213.6L90 179.9M88.6 213.6L95.2 179.4M88.6 213.6L98.9 182M88.6 213.6L103 184.9M88.6 213.6L107.3 187.4M88.6 213.6L111 189.7M88.6 213.6L115.1 194M88.6 213.6L116.3 198.6M88.6 213.6L118 203.7M88.6 213.6L119.1 208.7M88.6 213.6L121 213.8M88.6 213.6L119.8 219M88.6 213.6L118.4 224M88.6 213.6L116 228M88.6 213.6L113.9 232.9M88.6 213.6L110.4 236.8M88.6 213.6L107.1 240M88.6 213.6L103.9 243M88.6 213.6L99.7 246.2M88.6 213.6L94.8 247M88.6 213.6L90.2 248M88.6 213.6L84.5 247.3M88.6 213.6L80.7 245.7M88.6 213.6L75.7 244.7M88.6 213.6L71.2 242.8M88.6 213.6L67.7 239.1M88.6 213.6L65.4 234.8M88.6 213.6L120.6 230.7M88.6 213.6L116.6 236.5M88.6 213.6L111.4 243.6M88.6 213.6L104.4 246.8M88.6 213.6L98.9 251.7M88.6 213.6L91.2 251.9M88.6 213.6L83.4 251.7M88.6 213.6L76.7 249.1M88.6 213.6L69.7 246.5M88.6 213.6L64.6 240.7M88.6 213.6L58.7 235.2M88.6 213.6L56 228.1M88.6 213.6L53.5 221M88.6 213.6L52.9 212.8M88.6 213.6L55 204.7M88.6 213.6L56.6 196.9M88.6 213.6L59.6 189.6M88.6 213.6L64.8 183.2M88.6 213.6L72.1 178.7M88.6 213.6L79.3 177.8M88.6 213.6L86.1 175.6M88.6 213.6L93 174.6M88.6 213.6L101.3 177.4M88.6 213.6L107 181M88.6 213.6L112.8 186.3M88.6 213.6L118 191.8M88.6 213.6L121.6 198.7M88.6 213.6L123.7 206.3M88.6 213.6L123.5 215.1M88.6 213.6L122.4 222.9" stroke-width="0.42" opacity="0.95"/>
<path d="M416.7 56.2L419.7 53.5M416.7 56.2L421.3 56.7M416.7 56.2L418.4 60.8M416.7 56.2L414.7 60.7M416.7 56.2L412.4 57.1M416.7 56.2L413.7 53.4M416.7 56.2L416.6 52M416.7 56.2L418.5 49.3M416.7 56.2L422.1 51.2M416.7 56.2L424.1 55M416.7 56.2L423.3 58.8M416.7 56.2L420.6 62M416.7 56.2L416.7 63.8M416.7 56.2L413.1 62.7M416.7 56.2L410.8 59.3M416.7 56.2L409.4 55.5M416.7 56.2L411.2 51.3M416.7 56.2L414.1 49M416.7 56.2L406.9 60.2M416.7 56.2L405.9 56.2M416.7 56.2L406.4 51.8M416.7 56.2L409.8 48.8M416.7 56.2L413.4 45.9M416.7 56.2L418.5 45.1M416.7 56.2L421.7 47.1M416.7 56.2L425.4 50.7M416.7 56.2L427.8 54.3M416.7 56.2L427.9 58.7M416.7 56.2L425 62.4M416.7 56.2L422 66M416.7 56.2L417.7 66.7M416.7 56.2L412.7 66.2M416.7 56.2L409.6 63.8M416.7 56.2L418.8 70.8M416.7 56.2L414 71.4M416.7 56.2L410.1 68.5M416.7 56.2L407 65.4M416.7 56.2L404.1 62.2M416.7 56.2L402.8 58.4M416.7 56.2L402.4 53.9M416.7 56.2L403.6 49.2M416.7 56.2L406.9 46.2M416.7 56.2L410 43.3M416.7 56.2L414.4 42.6M416.7 56.2L419.1 42.4M416.7 56.2L423.6 43.3M416.7 56.2L427.4 46M416.7 56.2L429.4 49.6M416.7 56.2L431.4 54.3M416.7 56.2L430.5 58.5M416.7 56.2L429.4 62.4M416.7 56.2L426.6 66.1M416.7 56.2L422.9 69.2M416.7 56.2L416.9 74.4M416.7 56.2L412.6 73.6M416.7 56.2L408.2 71.2M416.7 56.2L404.7 68.9M416.7 56.2L400.7 65.7M416.7 56.2L399.7 60.6M416.7 56.2L399.7 56.8M416.7 56.2L399.1 52M416.7 56.2L400.4 47.5M416.7 56.2L404 44.3M416.7 56.2L407.1 40.5M416.7 56.2L411.8 38.5M416.7 56.2L416.1 38.4M416.7 56.2L421.2 38.7M416.7 56.2L425.6 40.5M416.7 56.2L429.4 43.4M416.7 56.2L433 47M416.7 56.2L434.5 51.3M416.7 56.2L434 56.1M416.7 56.2L433.9 60.6M416.7 56.2L432.4 64.8M416.7 56.2L429.5 68.9M416.7 56.2L425.6 71.4M416.7 56.2L421.7 73.6M416.7 56.2L419.4 34.5M416.7 56.2L424.8 36.2M416.7 56.2L430.1 39.1M416.7 56.2L434.3 43M416.7 56.2L436.2 48.6M416.7 56.2L438.7 54.4M416.7 56.2L439 60M416.7 56.2L436 65.1M416.7 56.2L433.2 70.6M416.7 56.2L429 74.6M416.7 56.2L422.8 76.9M416.7 56.2L417.5 77.8M416.7 56.2L411 77.4M416.7 56.2L406.2 74.6M416.7 56.2L400.9 72.1M416.7 56.2L397.4 67.2M416.7 56.2L395.7 61.1M416.7 56.2L395.2 55.4M416.7 56.2L397 49.6M416.7 56.2L399.1 44.4M416.7 56.2L402.2 39.1M416.7 56.2L407.5 36.3M416.7 56.2L412.9 34.4M476.8 49.2L479.3 51.9M476.8 49.2L476.9 53.5M476.8 49.2L473.1 52.1M476.8 49.2L473.4 47.8M476.8 49.2L475.2 44.3M476.8 49.2L478.7 45M476.8 49.2L480.5 48.4M476.8 49.2L480.2 55.8M476.8 49.2L476.9 56.6M476.8 49.2L472.9 56.4M476.8 49.2L470.2 52.9M476.8 49.2L470 47.7M476.8 49.2L471.5 44.3M476.8 49.2L475.3 42.1M476.8 49.2L478.8 42.2M476.8 49.2L482.1 44.2M476.8 49.2L483.6 48.2M476.8 49.2L483.7 52.6M476.8 49.2L472.6 60M476.8 49.2L469.5 57.4M476.8 49.2L467.5 53.1M476.8 49.2L466.7 48.6M476.8 49.2L467.8 44M476.8 49.2L470.3 40.5M476.8 49.2L474 38.9M476.8 49.2L478.3 37.5M476.8 49.2L482.3 39.3M476.8 49.2L485.3 43.5M476.8 49.2L487 47.5M476.8 49.2L486.4 51.9M476.8 49.2L484.8 56.6M476.8 49.2L481.1 58.9M476.8 49.2L477.6 61.4M476.8 49.2L463.4 45M476.8 49.2L465.9 41.1M476.8 49.2L467.8 37.1M476.8 49.2L472.5 35.8M476.8 49.2L476.6 34.7M476.8 49.2L480.4 34.8M476.8 49.2L483.7 37.8M476.8 49.2L488 40.1M476.8 49.2L489.9 43.8M476.8 49.2L490.5 48.6M476.8 49.2L490 53.5M476.8 49.2L487.8 57.2M476.8 49.2L484.9 60.7M476.8 49.2L481.3 63.4M476.8 49.2L477.4 65M476.8 49.2L473.3 63.8M476.8 49.2L469.4 61M476.8 49.2L465.8 58.4M476.8 49.2L463.9 54.4M476.8 49.2L462.5 49.9M476.8 49.2L492.5 41.1M476.8 49.2L493.4 45.6M476.8 49.2L494.4 50.4M476.8 49.2L493.5 55.7M476.8 49.2L491 59.3M476.8 49.2L487.9 63.2M476.8 49.2L483.8 65.5M476.8 49.2L479.9 67.1M476.8 49.2L475.8 67.4M476.8 49.2L471.4 66.9M476.8 49.2L467.2 64.7M476.8 49.2L463.5 61.3M476.8 49.2L461 57M476.8 49.2L459.2 52.9M476.8 49.2L459.6 47.3M476.8 49.2L460.9 42.7M476.8 49.2L463.1 39.3M476.8 49.2L465.3 34.5M476.8 49.2L469.5 32M476.8 49.2L474 30.8M476.8 49.2L478 31.4M476.8 49.2L482.1 32.4M476.8 49.2L486.6 33.2M476.8 49.2L490.7 37.1M476.8 49.2L458.4 40.4M476.8 49.2L460.5 34.5M476.8 49.2L464.4 30M476.8 49.2L470.1 27.7M476.8 49.2L475.3 26.3M476.8 49.2L481.1 26.1M476.8 49.2L486.7 29.4M476.8 49.2L491.4 32.9M476.8 49.2L494.5 37.7M476.8 49.2L496.4 43.2M476.8 49.2L498.1 49.2M476.8 49.2L496.6 55.5M476.8 49.2L495.2 61M476.8 49.2L490.8 65.4M476.8 49.2L486.3 69.4M476.8 49.2L480.6 71M476.8 49.2L475.3 72M476.8 49.2L469.9 70M476.8 49.2L464.6 67.1M476.8 49.2L460.4 63.5M476.8 49.2L457.2 58.3M476.8 49.2L456.6 51.9M476.8 49.2L456.2 46.2M459 98.6L454.7 97.9M459 98.6L457.5 94.9M459 98.6L461.2 95.5M459 98.6L463.2 99.7M459 98.6L460.5 102.8M459 98.6L456.1 101.3M459 98.6L463.6 93.8M459 98.6L466.3 96.9M459 98.6L466.2 101.2M459 98.6L463.3 104.9M459 98.6L459.8 105.5M459 98.6L455.5 105M459 98.6L452.4 102.6M459 98.6L452.3 98.2M459 98.6L452.8 94.1M459 98.6L456.2 91.8M459 98.6L460.3 91.7M459 98.6L469.2 101.6M459 98.6L467.3 105.9M459 98.6L463.9 108.1M459 98.6L460 108.7M459 98.6L456 108.6M459 98.6L452.1 107M459 98.6L449.2 103.6M459 98.6L449 99.2M459 98.6L449.3 95.5M459 98.6L451.2 91.8M459 98.6L453.7 89.2M459 98.6L457.9 87.9M459 98.6L462 88.6M459 98.6L465.6 90.4M459 98.6L468.8 93.5M459 98.6L469.3 97.8M459 98.6L467.5 109M459 98.6L464 111.3M459 98.6L460.3 112.6M459 98.6L456 112M459 98.6L452 110.6M459 98.6L448.7 107.5M459 98.6L446.1 104.9M459 98.6L444.5 101.1M459 98.6L444.8 96.4M459 98.6L446.5 92.3M459 98.6L448.7 89.3M459 98.6L451.9 86.9M459 98.6L455.8 84.8M459 98.6L460.2 85.1M459 98.6L464.2 85.7M459 98.6L467.4 87.8M459 98.6L470.5 90.6M459 98.6L472.7 94.7M459 98.6L473.3 98.8M459 98.6L472.8 102.8M459 98.6L470.7 106.6M459 98.6L474.5 92.5M459 98.6L465.3 114.5M459 98.6L443.4 104.7M459 98.6L453 82.7M429.3 98.2L430.5 105M429.3 98.2L426.8 104.8M429.3 98.2L428.8 102.6M429.3 98.2L432.3 100.5M429.3 98.2L434.5 103.5M429.3 98.2L431.7 107.5M429.3 98.2L428.4 109.7M429.3 98.2L424.7 108.2M429.3 98.2L423.2 103.8M429.3 98.2L424.2 100.1M429.3 98.2L436.3 98.7M429.3 98.2L437.3 103.4M429.3 98.2L436.5 106.9M429.3 98.2L433.5 110.1M429.3 98.2L430.1 111.6M429.3 98.2L426.6 112.1M429.3 98.2L423.2 110.2M429.3 98.2L420.8 106.5M429.3 98.2L419.8 103M429.3 98.2L421.8 99.6M429.3 98.2L424.6 97.1M429.3 98.2L428.3 94.6M429.3 98.2L432.7 96.6M429.3 98.2L422.3 94.7M429.3 98.2L425.8 91.8M429.3 98.2L430.4 92.5M429.3 98.2L434 94.4M429.3 98.2L438.4 96.7M429.3 98.2L439.4 100.7M429.3 98.2L440.8 105.1M429.3 98.2L440 109.1M429.3 98.2L436.1 112.6M429.3 98.2L432.9 114.5M429.3 98.2L429 114.8M429.3 98.2L424.5 114.4M429.3 98.2L420.6 112.8M429.3 98.2L417.5 109.5M429.3 98.2L417.2 105.1M429.3 98.2L417.2 101.3M429.3 98.2L419.1 96.9M429.3 98.2L427.1 88.8M429.3 98.2L437.5 91.7M429.3 98.2L443.6 100.2M429.3 98.2L441.8 110.6M488.8 96.9L490.1 100.7M488.8 96.9L494.1 99.5M488.8 96.9L492.6 102.2M488.8 96.9L489 104.6M488.8 96.9L485.8 102.6M488.8 96.9L484.3 98.7M488.8 96.9L486 94.9M488.8 96.9L489.3 94.3M488.8 96.9L493.6 95.9M488.8 96.9L493.2 91.7M488.8 96.9L495.4 94.5M488.8 96.9L498.4 97.5M488.8 96.9L497.3 101.1M488.8 96.9L495.8 105.2M488.8 96.9L492.4 107.4M488.8 96.9L488.3 106.9M488.8 96.9L484.3 105.1M488.8 96.9L481.5 102.8M488.8 96.9L480.6 98.1M488.8 96.9L482.8 94.6M488.8 96.9L485.3 92.3M488.8 96.9L488.9 91.1M488.8 96.9L489.5 87.1M488.8 96.9L493.2 87.9M488.8 96.9L496.9 90.2M488.8 96.9L500 93.5M488.8 96.9L501.7 97.7M488.8 96.9L501.3 101.8M488.8 96.9L499.2 105.9M488.8 96.9L496 109.4M488.8 96.9L491.9 110.4M488.8 96.9L487.9 111.4M488.8 96.9L483.7 109.3M488.8 96.9L481 106.2M488.8 96.9L478.7 102.7M488.8 96.9L476.9 98.2M488.8 96.9L479 94.4M488.8 96.9L481.1 90.4M488.8 96.9L484.8 87.7M488.8 96.9L502.1 106.8M488.8 96.9L494.1 113.8M488.8 96.9L483.9 112.3M488.8 96.9L475.6 106.2M488.8 96.9L474.8 95.9" stroke-width="0.4" opacity="0.9"/>
<path d="M59.2 48.8L58.5 37M59.2 48.8L50.4 45.1M59.2 48.8L67 46.1M59.2 48.8L53.1 56.9M59.2 48.8L64.6 56.3M83.4 47.4L76.9 37.9M83.4 47.4L87.5 37.2M83.4 47.4L92.1 50.1M83.4 47.4L83.9 57.2M83.4 47.4L74.8 51.1M81.6 80.4L69.4 83.2M81.6 80.4L76.2 88.5M53 88.5L46.6 79.1M53 88.5L61.3 89M53 88.5L51.5 97.4M64.7 109.4L65 100.5M64.7 109.4L64.3 118.2M74.7 109.4L76.7 100.5M74.7 109.4L72.8 118.2M85.2 109.4L85.5 100.5M85.2 109.4L84.9 118.2M48 115.3L38.6 113.7M48 115.3L55.4 114.8M45.6 134.4L40.2 125.7M45.6 134.4L48 124.6M45.6 134.4L54.5 130.5M45.6 134.4L36.3 132.4M45.6 134.4L37.9 139.7M45.6 134.4L46.1 143.7M45.6 134.4L53.4 139.3M70.5 133.2L70.9 124.6M70.5 133.2L62.2 131.6M70.5 133.2L78.7 134.7M70.5 133.2L68.1 141.7M27.8 231.8L24.9 227M27.8 231.8L32 228.3M27.8 231.8L21.7 233.8M27.8 231.8L31 236.3M41.4 226L41.2 220.6M41.4 226L41.2 232.8M40.8 246.4L35.9 241.2M40.8 246.4L45.6 241.6M40.8 246.4L34 247.4M40.8 246.4L46.6 250.3M40.8 246.4L36.9 252.2M84.6 169.3L76 166.5M84.6 169.3L92.5 165.5M84.6 169.3L79 173.5M84.6 169.3L90 174M84.6 169.3L84 162.5M84.6 169.3L85 176M133.5 213.3L127 210M133.5 213.3L139.5 210.5M133.5 213.3L126.5 217M133.5 213.3L140 217.5M133.5 213.3L133 220.5M133.5 213.3L133.1 203.6M88.6 213.6L122.8 250.7M181.2 161.2L190.2 160.5M181.2 161.2L189.8 163.8M181.2 161.2L188 166.8M181.2 161.2L185.1 168.8M181.2 161.2L181.7 169.7M181.2 161.2L178.1 169.2M181.2 161.2L175.1 167.4M181.2 161.2L173 164.7M181.2 161.2L172.2 161.3M181.2 161.2L178 155.2M183.7 186.1L193.3 186.1M183.7 186.1L192.3 190M183.7 186.1L189.6 193.2M183.7 186.1L185.7 194.9M183.7 186.1L181.4 194.8M183.7 186.1L177.5 193M183.7 186.1L174.9 189.8M183.7 186.1L174.1 185.8M183.7 186.1L175.2 181.9M183.7 186.1L178.1 178.8M183.7 186.1L182 177.2M183.7 186.1L186.3 177.4M183.7 186.1L190.1 179.4M183.7 186.1L192.6 182.7M217.5 185.5L226.8 187M217.5 185.5L225.3 190.4M217.5 185.5L222.5 193M217.5 185.5L218.8 194.2M217.5 185.5L214.9 194M217.5 185.5L211.5 192.2M217.5 185.5L209.1 189.4M217.5 185.5L208.1 185.8M217.5 185.5L208.8 182.2M217.5 185.5L211 179.2M217.5 185.5L214.3 177.2M217.5 185.5L218.2 176.7M217.5 185.5L221.9 177.7M217.5 185.5L224.9 180.1M217.5 185.5L226.6 183.4M198.7 209.4L193.4 206M198.7 209.4L200.8 201.3M198.7 209.4L205.9 210.9M198.7 209.4L200.6 216.6M198.7 209.4L193.8 213.6M244.2 177L242.5 167.5M244.2 177L236.2 183.4M244.2 177L248.9 182.7M258.4 171.3L254.1 162.8M258.4 171.3L264.7 167.5M258.4 171.3L263.2 177.7M258.4 171.3L251 173.8M261.1 187.6L254.1 185M261.1 187.6L267.9 188.7M282.4 167.2L273.5 159.1M282.4 167.2L282.4 176.2M341.3 82.3L349.8 74.8M341.3 82.3L354.1 79.1M341.3 82.3L350.5 83.4M341.3 82.3L351.3 88.7M341.3 82.3L346 90.6M324.8 95.8L331 89.8M324.8 95.8L328.5 107.3M352 107.3L344.5 102.2M352 107.3L350.9 99.4M352 107.3L358 102.2M352 107.3L346.6 114.4M352 107.3L354.1 115.4M352 107.3L359.4 110M367.4 64.1L376.8 64.9M367.4 64.1L374.8 69.8M367.4 64.1L370.5 72.8M367.4 64.1L365.1 73M367.4 64.1L360.5 70.4M367.4 64.1L358.1 65.7M367.4 64.1L358.7 60.5M367.4 64.1L362.1 56.5M367.4 64.1L367.2 54.9M367.4 64.1L372.4 56.3M367.4 64.1L375.9 60.2M381.9 40.2L378.2 30.4M381.9 40.2L372.9 35.3M381.9 40.2L372.3 39.6M381.9 40.2L373.3 44.3M383 113.3L375.5 112.2M383 113.3L392.1 112.2M383 113.3L378 120.3M383 113.3L387.2 121.2M407 91.2L401 88M407 91.2L413 89.5M407 91.2L406 96.5M400 102L394.5 100M400 102L405 105M386.3 147.7L379.9 138.6M386.3 147.7L374.6 141.7M386.3 147.7L372.5 147.7M386.3 147.7L376.7 153.4M386.3 147.7L384.1 159.7M386.3 147.7L379 157M386.3 147.7L384.5 137M448.3 135.8L436.3 137.5M448.3 135.8L438.8 141M448.3 135.8L440 147.5M448.3 135.8L442.3 151M448.3 135.8L445.5 152.5M448.3 135.8L447 148.8M448.3 135.8L450.5 152.5M448.3 135.8L453.8 150M448.3 135.8L455.5 143M448.3 135.8L458.8 141.3M448.3 135.8L452 146.5M448.3 135.8L451.3 126.3M470.8 132.5L478.4 132.5M470.8 132.5L470.8 138.8M418.3 142L411.5 137.6M418.3 142L427.9 137.6M418.3 142L417.8 151.5M418.3 159.8L417.8 151.5M418.3 159.8L417.3 166.6M402.6 181.3L396.8 175M402.6 181.3L409 186M431.7 179.2L425.4 173.4M431.7 179.2L438 184.3M453.6 172.4L449.8 164.8M453.6 172.4L456.2 180.5M470.8 171.7L471.3 162.8M470.8 171.7L470.8 180.5M483.4 170.4L479.6 162.8M483.4 170.4L486.7 178M500.4 167.9L494 162.3M500.4 167.9L506.7 174.2" stroke-width="0.4" opacity="0.85"/>
</g>
<g fill="#C48E1B" stroke="#F3CF74" stroke-width="1.15" paint-order="stroke">
<ellipse cx="119.9" cy="78.2" rx="1.15" ry=".98"/>
<ellipse cx="116.6" cy="79.9" rx="1.15" ry=".98"/>
<ellipse cx="113" cy="79.1" rx="1.15" ry=".98"/>
<ellipse cx="111.6" cy="76.1" rx="1.15" ry=".98"/>
<ellipse cx="113.6" cy="72.6" rx="1.15" ry=".98"/>
<ellipse cx="117.3" cy="72.1" rx="1.15" ry=".98"/>
<ellipse cx="120.3" cy="74.9" rx="1.15" ry=".98"/>
<ellipse cx="116.1" cy="83.1" rx="1.15" ry=".98"/>
<ellipse cx="112" cy="82" rx="1.15" ry=".98"/>
<ellipse cx="109.2" cy="79.2" rx="1.15" ry=".98"/>
<ellipse cx="108.2" cy="75.1" rx="1.15" ry=".98"/>
<ellipse cx="110.2" cy="71.4" rx="1.15" ry=".98"/>
<ellipse cx="114" cy="69.8" rx="1.15" ry=".98"/>
<ellipse cx="118.4" cy="69.4" rx="1.15" ry=".98"/>
<ellipse cx="121.9" cy="71.4" rx="1.15" ry=".98"/>
<ellipse cx="123.8" cy="74.9" rx="1.15" ry=".98"/>
<ellipse cx="123.6" cy="78.9" rx="1.15" ry=".98"/>
<ellipse cx="120.2" cy="82.3" rx="1.15" ry=".98"/>
<ellipse cx="109.5" cy="68.3" rx="1.15" ry=".98"/>
<ellipse cx="113.5" cy="66.2" rx="1.15" ry=".98"/>
<ellipse cx="118" cy="66.3" rx="1.15" ry=".98"/>
<ellipse cx="121.9" cy="67.6" rx="1.15" ry=".98"/>
<ellipse cx="125.4" cy="70" rx="1.15" ry=".98"/>
<ellipse cx="127.3" cy="73.9" rx="1.15" ry=".98"/>
<ellipse cx="127.6" cy="78" rx="1.15" ry=".98"/>
<ellipse cx="126.1" cy="81.7" rx="1.15" ry=".98"/>
<ellipse cx="123" cy="84.5" rx="1.15" ry=".98"/>
<ellipse cx="118.6" cy="86.2" rx="1.15" ry=".98"/>
<ellipse cx="114.3" cy="86.5" rx="1.15" ry=".98"/>
<ellipse cx="110.4" cy="84.6" rx="1.15" ry=".98"/>
<ellipse cx="106.6" cy="82.4" rx="1.15" ry=".98"/>
<ellipse cx="105.6" cy="78.7" rx="1.15" ry=".98"/>
<ellipse cx="105.1" cy="74.7" rx="1.15" ry=".98"/>
<ellipse cx="106.7" cy="70.7" rx="1.15" ry=".98"/>
<ellipse cx="127.2" cy="84.4" rx="1.15" ry=".98"/>
<ellipse cx="124.4" cy="87.3" rx="1.15" ry=".98"/>
<ellipse cx="120.1" cy="88.7" rx="1.15" ry=".98"/>
<ellipse cx="115.9" cy="89.8" rx="1.15" ry=".98"/>
<ellipse cx="111.5" cy="89.1" rx="1.15" ry=".98"/>
<ellipse cx="107.7" cy="87.4" rx="1.15" ry=".98"/>
<ellipse cx="104.7" cy="84.5" rx="1.15" ry=".98"/>
<ellipse cx="102.4" cy="81.1" rx="1.15" ry=".98"/>
<ellipse cx="101.1" cy="77.1" rx="1.15" ry=".98"/>
<ellipse cx="101.7" cy="73.3" rx="1.15" ry=".98"/>
<ellipse cx="103.2" cy="69.1" rx="1.15" ry=".98"/>
<ellipse cx="106.2" cy="66.5" rx="1.15" ry=".98"/>
<ellipse cx="109.8" cy="63.8" rx="1.15" ry=".98"/>
<ellipse cx="114" cy="63.1" rx="1.15" ry=".98"/>
<ellipse cx="118.5" cy="62.8" rx="1.15" ry=".98"/>
<ellipse cx="122.7" cy="63.9" rx="1.15" ry=".98"/>
<ellipse cx="126.1" cy="66.4" rx="1.15" ry=".98"/>
<ellipse cx="129.3" cy="69.7" rx="1.15" ry=".98"/>
<ellipse cx="130" cy="73.5" rx="1.15" ry=".98"/>
<ellipse cx="130.4" cy="77.3" rx="1.15" ry=".98"/>
<ellipse cx="130.1" cy="81.5" rx="1.15" ry=".98"/>
<ellipse cx="110" cy="92.3" rx="1.15" ry=".98"/>
<ellipse cx="106.3" cy="89.7" rx="1.15" ry=".98"/>
<ellipse cx="102.5" cy="87.2" rx="1.15" ry=".98"/>
<ellipse cx="99.6" cy="83.9" rx="1.15" ry=".98"/>
<ellipse cx="98.6" cy="79.9" rx="1.15" ry=".98"/>
<ellipse cx="97.6" cy="75.9" rx="1.15" ry=".98"/>
<ellipse cx="98.8" cy="71.8" rx="1.15" ry=".98"/>
<ellipse cx="100.1" cy="67.8" rx="1.15" ry=".98"/>
<ellipse cx="103.3" cy="64.9" rx="1.15" ry=".98"/>
<ellipse cx="106.8" cy="62.1" rx="1.15" ry=".98"/>
<ellipse cx="111.2" cy="60.8" rx="1.15" ry=".98"/>
<ellipse cx="115.4" cy="59.7" rx="1.15" ry=".98"/>
<ellipse cx="119.9" cy="59.9" rx="1.15" ry=".98"/>
<ellipse cx="124.1" cy="61.5" rx="1.15" ry=".98"/>
<ellipse cx="127.8" cy="63.9" rx="1.15" ry=".98"/>
<ellipse cx="131.2" cy="66.8" rx="1.15" ry=".98"/>
<ellipse cx="133.3" cy="70.5" rx="1.15" ry=".98"/>
<ellipse cx="133.8" cy="74.3" rx="1.15" ry=".98"/>
<ellipse cx="134.4" cy="78.5" rx="1.15" ry=".98"/>
<ellipse cx="133" cy="82.7" rx="1.15" ry=".98"/>
<ellipse cx="130.2" cy="85.9" rx="1.15" ry=".98"/>
<ellipse cx="127.2" cy="88.8" rx="1.15" ry=".98"/>
<ellipse cx="123.6" cy="91.7" rx="1.15" ry=".98"/>
<ellipse cx="119.3" cy="92.9" rx="1.15" ry=".98"/>
<ellipse cx="114.5" cy="92.7" rx="1.15" ry=".98"/>
<ellipse cx="137.9" cy="78.4" rx="1.15" ry=".98"/>
<ellipse cx="125.3" cy="94.6" rx="1.15" ry=".98"/>
<ellipse cx="103.5" cy="92.1" rx="1.15" ry=".98"/>
<ellipse cx="94" cy="74.2" rx="1.15" ry=".98"/>
<ellipse cx="107.2" cy="58.2" rx="1.15" ry=".98"/>
<ellipse cx="128.7" cy="60" rx="1.15" ry=".98"/>
</g>
<g fill="#9CC8EA">
<ellipse cx="116.1" cy="76.2" rx="4.2" ry="3.4"/>
</g>
<g fill="#D3961D" stroke="#F5D27A" stroke-width="0.9" paint-order="stroke">
<ellipse cx="111.2" cy="35" rx="1.25" ry="1.05"/>
<ellipse cx="115.4" cy="34.8" rx="1.25" ry="1.05"/>
<ellipse cx="120.3" cy="35.9" rx="1.25" ry="1.05"/>
<ellipse cx="122.3" cy="40.4" rx="1.25" ry="1.05"/>
<ellipse cx="121.5" cy="44.1" rx="1.25" ry="1.05"/>
<ellipse cx="118.5" cy="47.5" rx="1.25" ry="1.05"/>
<ellipse cx="114.8" cy="48.1" rx="1.25" ry="1.05"/>
<ellipse cx="108.8" cy="33.2" rx="1.25" ry="1.05"/>
<ellipse cx="115.2" cy="31.4" rx="1.25" ry="1.05"/>
<ellipse cx="120.7" cy="31.9" rx="1.25" ry="1.05"/>
<ellipse cx="125.7" cy="36.4" rx="1.25" ry="1.05"/>
<ellipse cx="125.8" cy="42.6" rx="1.25" ry="1.05"/>
<ellipse cx="124.1" cy="47.4" rx="1.25" ry="1.05"/>
<ellipse cx="119.8" cy="51.4" rx="1.25" ry="1.05"/>
<ellipse cx="113.1" cy="51.9" rx="1.25" ry="1.05"/>
</g>
<g fill="#9CC8EA">
<ellipse cx="115.2" cy="41.6" rx="3" ry="2.4"/>
</g>
<g fill="#D3961D" stroke="#F5D27A" stroke-width="0.9" paint-order="stroke">
<ellipse cx="125.3" cy="121.9" rx="1.15" ry=".95"/>
<ellipse cx="121.2" cy="121.4" rx="1.15" ry=".95"/>
<ellipse cx="118.7" cy="118.5" rx="1.15" ry=".95"/>
<ellipse cx="119.7" cy="114.8" rx="1.15" ry=".95"/>
<ellipse cx="123" cy="113.2" rx="1.15" ry=".95"/>
<ellipse cx="126.3" cy="114.7" rx="1.15" ry=".95"/>
<ellipse cx="127.3" cy="118.5" rx="1.15" ry=".95"/>
<ellipse cx="130.5" cy="119.5" rx="1.15" ry=".95"/>
<ellipse cx="128.7" cy="122.8" rx="1.15" ry=".95"/>
<ellipse cx="125.3" cy="125.1" rx="1.15" ry=".95"/>
<ellipse cx="121.1" cy="125.4" rx="1.15" ry=".95"/>
<ellipse cx="117.6" cy="123.2" rx="1.15" ry=".95"/>
<ellipse cx="115.6" cy="119.8" rx="1.15" ry=".95"/>
<ellipse cx="115.4" cy="115.5" rx="1.15" ry=".95"/>
<ellipse cx="117" cy="111.6" rx="1.15" ry=".95"/>
<ellipse cx="120.9" cy="109.9" rx="1.15" ry=".95"/>
<ellipse cx="125" cy="109.7" rx="1.15" ry=".95"/>
<ellipse cx="128.2" cy="111.5" rx="1.15" ry=".95"/>
<ellipse cx="130.4" cy="115.2" rx="1.15" ry=".95"/>
<ellipse cx="133.7" cy="120.9" rx="1.15" ry=".95"/>
<ellipse cx="131.3" cy="124.3" rx="1.15" ry=".95"/>
<ellipse cx="128.4" cy="127" rx="1.15" ry=".95"/>
<ellipse cx="124.7" cy="128.5" rx="1.15" ry=".95"/>
<ellipse cx="120.2" cy="128.6" rx="1.15" ry=".95"/>
<ellipse cx="116.9" cy="126.4" rx="1.15" ry=".95"/>
<ellipse cx="113.4" cy="123.8" rx="1.15" ry=".95"/>
<ellipse cx="111.6" cy="119.9" rx="1.15" ry=".95"/>
<ellipse cx="112.1" cy="115.6" rx="1.15" ry=".95"/>
<ellipse cx="113.2" cy="111.8" rx="1.15" ry=".95"/>
<ellipse cx="116" cy="108.7" rx="1.15" ry=".95"/>
<ellipse cx="119.8" cy="107.1" rx="1.15" ry=".95"/>
<ellipse cx="123.8" cy="106.5" rx="1.15" ry=".95"/>
<ellipse cx="127.4" cy="107.2" rx="1.15" ry=".95"/>
<ellipse cx="131.3" cy="109.2" rx="1.15" ry=".95"/>
<ellipse cx="133.3" cy="112.8" rx="1.15" ry=".95"/>
<ellipse cx="134" cy="117.2" rx="1.15" ry=".95"/>
<ellipse cx="127.2" cy="131.4" rx="1.15" ry=".95"/>
<ellipse cx="113.3" cy="127.8" rx="1.15" ry=".95"/>
<ellipse cx="109.3" cy="114.4" rx="1.15" ry=".95"/>
<ellipse cx="118.5" cy="103.6" rx="1.15" ry=".95"/>
<ellipse cx="133" cy="106.4" rx="1.15" ry=".95"/>
<ellipse cx="136.7" cy="120.6" rx="1.15" ry=".95"/>
</g>
<g fill="#9CC8EA">
<ellipse cx="123" cy="117.4" rx="3.4" ry="2.8"/>
</g>
<g fill="#7397B4" stroke="#C0DCF0" stroke-width="1.1" paint-order="stroke">
<ellipse cx="29.5" cy="196.5" rx="1.2" ry=".65"/>
<ellipse cx="26.5" cy="197" rx="1.2" ry=".65"/>
<ellipse cx="24.3" cy="194" rx="1.2" ry=".65"/>
<ellipse cx="25.4" cy="190.9" rx="1.2" ry=".65"/>
<ellipse cx="27.4" cy="188.4" rx="1.2" ry=".65"/>
<ellipse cx="30.4" cy="188.1" rx="1.2" ry=".65"/>
<ellipse cx="32" cy="191.2" rx="1.2" ry=".65"/>
<ellipse cx="31.7" cy="194.6" rx="1.2" ry=".65"/>
<ellipse cx="34.3" cy="196.1" rx="1.2" ry=".65"/>
<ellipse cx="31.7" cy="198.6" rx="1.2" ry=".65"/>
<ellipse cx="28.7" cy="200.1" rx="1.2" ry=".65"/>
<ellipse cx="25.2" cy="198.8" rx="1.2" ry=".65"/>
<ellipse cx="22.1" cy="196.2" rx="1.2" ry=".65"/>
<ellipse cx="21.7" cy="192.3" rx="1.2" ry=".65"/>
<ellipse cx="22.7" cy="188.7" rx="1.2" ry=".65"/>
<ellipse cx="25.5" cy="186.2" rx="1.2" ry=".65"/>
<ellipse cx="29" cy="185" rx="1.2" ry=".65"/>
<ellipse cx="32" cy="186.1" rx="1.2" ry=".65"/>
<ellipse cx="34.2" cy="189.4" rx="1.2" ry=".65"/>
<ellipse cx="35.9" cy="192.6" rx="1.2" ry=".65"/>
<ellipse cx="19.2" cy="193.3" rx="1.2" ry=".65"/>
<ellipse cx="19.8" cy="189.8" rx="1.2" ry=".65"/>
<ellipse cx="21.1" cy="185.8" rx="1.2" ry=".65"/>
<ellipse cx="23.4" cy="183.9" rx="1.2" ry=".65"/>
<ellipse cx="26.9" cy="182.1" rx="1.2" ry=".65"/>
<ellipse cx="30.3" cy="182.2" rx="1.2" ry=".65"/>
<ellipse cx="33.9" cy="183.9" rx="1.2" ry=".65"/>
<ellipse cx="35.9" cy="186.5" rx="1.2" ry=".65"/>
<ellipse cx="37.3" cy="190.2" rx="1.2" ry=".65"/>
<ellipse cx="38" cy="193.9" rx="1.2" ry=".65"/>
<ellipse cx="36.9" cy="197.1" rx="1.2" ry=".65"/>
<ellipse cx="34.5" cy="200.5" rx="1.2" ry=".65"/>
<ellipse cx="32.1" cy="202.6" rx="1.2" ry=".65"/>
<ellipse cx="28.2" cy="202.8" rx="1.2" ry=".65"/>
<ellipse cx="24.2" cy="202.9" rx="1.2" ry=".65"/>
<ellipse cx="21.9" cy="200.2" rx="1.2" ry=".65"/>
<ellipse cx="19.9" cy="196.7" rx="1.2" ry=".65"/>
<ellipse cx="29" cy="206.9" rx="1.2" ry=".65"/>
<ellipse cx="25.5" cy="205.5" rx="1.2" ry=".65"/>
<ellipse cx="22.6" cy="204.2" rx="1.2" ry=".65"/>
<ellipse cx="18.6" cy="201.9" rx="1.2" ry=".65"/>
<ellipse cx="16.6" cy="198.4" rx="1.2" ry=".65"/>
<ellipse cx="15.2" cy="194.4" rx="1.2" ry=".65"/>
<ellipse cx="15.4" cy="189.9" rx="1.2" ry=".65"/>
<ellipse cx="17.3" cy="186.1" rx="1.2" ry=".65"/>
<ellipse cx="19.5" cy="183.4" rx="1.2" ry=".65"/>
<ellipse cx="22.5" cy="180.4" rx="1.2" ry=".65"/>
<ellipse cx="26.1" cy="179.1" rx="1.2" ry=".65"/>
<ellipse cx="29.5" cy="178.3" rx="1.2" ry=".65"/>
<ellipse cx="33.3" cy="179.9" rx="1.2" ry=".65"/>
<ellipse cx="36.2" cy="182.2" rx="1.2" ry=".65"/>
<ellipse cx="39" cy="185.5" rx="1.2" ry=".65"/>
<ellipse cx="41.3" cy="188.4" rx="1.2" ry=".65"/>
<ellipse cx="40.9" cy="193" rx="1.2" ry=".65"/>
<ellipse cx="40.4" cy="196.5" rx="1.2" ry=".65"/>
<ellipse cx="38.5" cy="200.3" rx="1.2" ry=".65"/>
<ellipse cx="36.8" cy="203.8" rx="1.2" ry=".65"/>
<ellipse cx="32.7" cy="205.7" rx="1.2" ry=".65"/>
<ellipse cx="18.3" cy="206.5" rx="1.2" ry=".65"/>
<ellipse cx="16" cy="202.5" rx="1.2" ry=".65"/>
<ellipse cx="14.5" cy="199" rx="1.2" ry=".65"/>
<ellipse cx="12.4" cy="195" rx="1.2" ry=".65"/>
<ellipse cx="12.5" cy="190.8" rx="1.2" ry=".65"/>
<ellipse cx="13.8" cy="186.8" rx="1.2" ry=".65"/>
<ellipse cx="15.1" cy="183.4" rx="1.2" ry=".65"/>
<ellipse cx="17.9" cy="180.2" rx="1.2" ry=".65"/>
<ellipse cx="20.6" cy="177" rx="1.2" ry=".65"/>
<ellipse cx="24.1" cy="176.4" rx="1.2" ry=".65"/>
<ellipse cx="27.9" cy="175.7" rx="1.2" ry=".65"/>
<ellipse cx="31.6" cy="175.9" rx="1.2" ry=".65"/>
<ellipse cx="35" cy="177" rx="1.2" ry=".65"/>
<ellipse cx="38.8" cy="179.3" rx="1.2" ry=".65"/>
<ellipse cx="41.6" cy="182" rx="1.2" ry=".65"/>
<ellipse cx="43.5" cy="185.8" rx="1.2" ry=".65"/>
<ellipse cx="44.8" cy="190.1" rx="1.2" ry=".65"/>
<ellipse cx="44.2" cy="193.8" rx="1.2" ry=".65"/>
<ellipse cx="43.5" cy="197.8" rx="1.2" ry=".65"/>
<ellipse cx="41.7" cy="201.9" rx="1.2" ry=".65"/>
<ellipse cx="39.1" cy="204.9" rx="1.2" ry=".65"/>
<ellipse cx="36.2" cy="207.7" rx="1.2" ry=".65"/>
<ellipse cx="32.5" cy="208.8" rx="1.2" ry=".65"/>
<ellipse cx="28.8" cy="209.9" rx="1.2" ry=".65"/>
<ellipse cx="25.2" cy="210" rx="1.2" ry=".65"/>
<ellipse cx="21.7" cy="207.6" rx="1.2" ry=".65"/>
<ellipse cx="45.9" cy="200.6" rx="1.2" ry=".65"/>
<ellipse cx="43.9" cy="205.3" rx="1.2" ry=".65"/>
<ellipse cx="39.7" cy="208.9" rx="1.2" ry=".65"/>
<ellipse cx="36.1" cy="212.3" rx="1.2" ry=".65"/>
<ellipse cx="30.8" cy="213.6" rx="1.2" ry=".65"/>
<ellipse cx="26.2" cy="213.4" rx="1.2" ry=".65"/>
<ellipse cx="21.3" cy="212.2" rx="1.2" ry=".65"/>
<ellipse cx="16.7" cy="209.3" rx="1.2" ry=".65"/>
<ellipse cx="13" cy="205.5" rx="1.2" ry=".65"/>
<ellipse cx="10.1" cy="201" rx="1.2" ry=".65"/>
<ellipse cx="9.6" cy="195.2" rx="1.2" ry=".65"/>
<ellipse cx="9.4" cy="190.2" rx="1.2" ry=".65"/>
<ellipse cx="10.8" cy="184.5" rx="1.2" ry=".65"/>
<ellipse cx="12.8" cy="179.3" rx="1.2" ry=".65"/>
<ellipse cx="16.7" cy="175.7" rx="1.2" ry=".65"/>
<ellipse cx="21.3" cy="173.3" rx="1.2" ry=".65"/>
<ellipse cx="26.1" cy="171.9" rx="1.2" ry=".65"/>
<ellipse cx="31" cy="171.1" rx="1.2" ry=".65"/>
<ellipse cx="36" cy="173" rx="1.2" ry=".65"/>
<ellipse cx="40.6" cy="176.2" rx="1.2" ry=".65"/>
<ellipse cx="43.9" cy="179.7" rx="1.2" ry=".65"/>
<ellipse cx="46.4" cy="184.5" rx="1.2" ry=".65"/>
<ellipse cx="47.6" cy="190" rx="1.2" ry=".65"/>
<ellipse cx="47.2" cy="195.2" rx="1.2" ry=".65"/>
</g>
<g fill="#E8A322">
<ellipse cx="28.5" cy="192.6" rx="3.6" ry="3"/>
</g>
<g fill="#7397B4" stroke="#C0DCF0" stroke-width="1.1" paint-order="stroke">
<ellipse cx="90.1" cy="217.4" rx="1.2" ry=".65"/>
<ellipse cx="87" cy="217.5" rx="1.2" ry=".65"/>
<ellipse cx="85.3" cy="215.6" rx="1.2" ry=".65"/>
<ellipse cx="84.2" cy="212.5" rx="1.2" ry=".65"/>
<ellipse cx="85.9" cy="208.5" rx="1.2" ry=".65"/>
<ellipse cx="90.3" cy="209" rx="1.2" ry=".65"/>
<ellipse cx="92.6" cy="211.6" rx="1.2" ry=".65"/>
<ellipse cx="92.2" cy="215.3" rx="1.2" ry=".65"/>
<ellipse cx="92.9" cy="206.6" rx="1.2" ry=".65"/>
<ellipse cx="95.3" cy="210" rx="1.2" ry=".65"/>
<ellipse cx="95.8" cy="213.3" rx="1.2" ry=".65"/>
<ellipse cx="94.9" cy="216.8" rx="1.2" ry=".65"/>
<ellipse cx="92.4" cy="219.6" rx="1.2" ry=".65"/>
<ellipse cx="89.3" cy="222.3" rx="1.2" ry=".65"/>
<ellipse cx="86.4" cy="220.6" rx="1.2" ry=".65"/>
<ellipse cx="83.4" cy="218.9" rx="1.2" ry=".65"/>
<ellipse cx="81" cy="215.2" rx="1.2" ry=".65"/>
<ellipse cx="82.3" cy="212.5" rx="1.2" ry=".65"/>
<ellipse cx="83.5" cy="208.6" rx="1.2" ry=".65"/>
<ellipse cx="85.9" cy="206.3" rx="1.2" ry=".65"/>
<ellipse cx="89.6" cy="206.7" rx="1.2" ry=".65"/>
<ellipse cx="86.7" cy="224.3" rx="1.2" ry=".65"/>
<ellipse cx="82.5" cy="223.7" rx="1.2" ry=".65"/>
<ellipse cx="80.7" cy="219.6" rx="1.2" ry=".65"/>
<ellipse cx="79" cy="216.6" rx="1.2" ry=".65"/>
<ellipse cx="79" cy="211.9" rx="1.2" ry=".65"/>
<ellipse cx="79.5" cy="208.7" rx="1.2" ry=".65"/>
<ellipse cx="82.6" cy="205.6" rx="1.2" ry=".65"/>
<ellipse cx="85.4" cy="203.7" rx="1.2" ry=".65"/>
<ellipse cx="88.4" cy="202.7" rx="1.2" ry=".65"/>
<ellipse cx="92.5" cy="202.4" rx="1.2" ry=".65"/>
<ellipse cx="95.2" cy="206.7" rx="1.2" ry=".65"/>
<ellipse cx="97.6" cy="209.2" rx="1.2" ry=".65"/>
<ellipse cx="98.8" cy="212.8" rx="1.2" ry=".65"/>
<ellipse cx="97.5" cy="216.8" rx="1.2" ry=".65"/>
<ellipse cx="96.4" cy="221" rx="1.2" ry=".65"/>
<ellipse cx="94.5" cy="223.5" rx="1.2" ry=".65"/>
<ellipse cx="90.5" cy="224.6" rx="1.2" ry=".65"/>
<ellipse cx="100.6" cy="215.4" rx="1.2" ry=".65"/>
<ellipse cx="100.4" cy="219.7" rx="1.2" ry=".65"/>
<ellipse cx="97.6" cy="223.2" rx="1.2" ry=".65"/>
<ellipse cx="94.8" cy="226.9" rx="1.2" ry=".65"/>
<ellipse cx="91.7" cy="228.4" rx="1.2" ry=".65"/>
<ellipse cx="87.7" cy="228" rx="1.2" ry=".65"/>
<ellipse cx="83.9" cy="226.8" rx="1.2" ry=".65"/>
<ellipse cx="79.6" cy="225.5" rx="1.2" ry=".65"/>
<ellipse cx="78.4" cy="220.6" rx="1.2" ry=".65"/>
<ellipse cx="75.5" cy="217.5" rx="1.2" ry=".65"/>
<ellipse cx="75.8" cy="213.7" rx="1.2" ry=".65"/>
<ellipse cx="76.5" cy="209.1" rx="1.2" ry=".65"/>
<ellipse cx="78.6" cy="205.4" rx="1.2" ry=".65"/>
<ellipse cx="80.8" cy="203.1" rx="1.2" ry=".65"/>
<ellipse cx="84.5" cy="200.8" rx="1.2" ry=".65"/>
<ellipse cx="87.5" cy="198.6" rx="1.2" ry=".65"/>
<ellipse cx="91.5" cy="200.3" rx="1.2" ry=".65"/>
<ellipse cx="95" cy="202.1" rx="1.2" ry=".65"/>
<ellipse cx="98.2" cy="204.8" rx="1.2" ry=".65"/>
<ellipse cx="100.5" cy="207.7" rx="1.2" ry=".65"/>
<ellipse cx="101.7" cy="212.2" rx="1.2" ry=".65"/>
<ellipse cx="72.7" cy="221.4" rx="1.2" ry=".65"/>
<ellipse cx="71.8" cy="216.9" rx="1.2" ry=".65"/>
<ellipse cx="72.3" cy="212.6" rx="1.2" ry=".65"/>
<ellipse cx="73.2" cy="209.3" rx="1.2" ry=".65"/>
<ellipse cx="75" cy="204.8" rx="1.2" ry=".65"/>
<ellipse cx="76.3" cy="201.1" rx="1.2" ry=".65"/>
<ellipse cx="79.9" cy="198" rx="1.2" ry=".65"/>
<ellipse cx="83.5" cy="196.2" rx="1.2" ry=".65"/>
<ellipse cx="87.5" cy="195.1" rx="1.2" ry=".65"/>
<ellipse cx="91.3" cy="195.6" rx="1.2" ry=".65"/>
<ellipse cx="95" cy="197.8" rx="1.2" ry=".65"/>
<ellipse cx="98" cy="199.5" rx="1.2" ry=".65"/>
<ellipse cx="101.4" cy="202.5" rx="1.2" ry=".65"/>
<ellipse cx="103.8" cy="205.6" rx="1.2" ry=".65"/>
<ellipse cx="105.8" cy="209.7" rx="1.2" ry=".65"/>
<ellipse cx="106" cy="214.3" rx="1.2" ry=".65"/>
<ellipse cx="104.6" cy="219.4" rx="1.2" ry=".65"/>
<ellipse cx="102.5" cy="222.9" rx="1.2" ry=".65"/>
<ellipse cx="101.1" cy="226.6" rx="1.2" ry=".65"/>
<ellipse cx="97.6" cy="229.7" rx="1.2" ry=".65"/>
<ellipse cx="93.9" cy="230" rx="1.2" ry=".65"/>
<ellipse cx="90.2" cy="230.9" rx="1.2" ry=".65"/>
<ellipse cx="86.3" cy="230.9" rx="1.2" ry=".65"/>
<ellipse cx="82.4" cy="229.1" rx="1.2" ry=".65"/>
<ellipse cx="78.9" cy="227.9" rx="1.2" ry=".65"/>
<ellipse cx="76.5" cy="224.9" rx="1.2" ry=".65"/>
<ellipse cx="91.6" cy="192.4" rx="1.2" ry=".65"/>
<ellipse cx="95" cy="193.5" rx="1.2" ry=".65"/>
<ellipse cx="98.6" cy="196.5" rx="1.2" ry=".65"/>
<ellipse cx="102.6" cy="197.5" rx="1.2" ry=".65"/>
<ellipse cx="105.5" cy="202.1" rx="1.2" ry=".65"/>
<ellipse cx="107.4" cy="206.3" rx="1.2" ry=".65"/>
<ellipse cx="108" cy="211.1" rx="1.2" ry=".65"/>
<ellipse cx="108.5" cy="215.5" rx="1.2" ry=".65"/>
<ellipse cx="107" cy="219.6" rx="1.2" ry=".65"/>
<ellipse cx="105.8" cy="223.7" rx="1.2" ry=".65"/>
<ellipse cx="103.8" cy="227.7" rx="1.2" ry=".65"/>
<ellipse cx="100.1" cy="230.5" rx="1.2" ry=".65"/>
<ellipse cx="95.9" cy="233.2" rx="1.2" ry=".65"/>
<ellipse cx="92.3" cy="234.6" rx="1.2" ry=".65"/>
<ellipse cx="88.3" cy="236.3" rx="1.2" ry=".65"/>
<ellipse cx="83.7" cy="234.2" rx="1.2" ry=".65"/>
<ellipse cx="80.2" cy="232.3" rx="1.2" ry=".65"/>
<ellipse cx="75.8" cy="230.9" rx="1.2" ry=".65"/>
<ellipse cx="73.6" cy="227" rx="1.2" ry=".65"/>
<ellipse cx="70.2" cy="223.5" rx="1.2" ry=".65"/>
<ellipse cx="70.1" cy="218.6" rx="1.2" ry=".65"/>
<ellipse cx="68.3" cy="214.3" rx="1.2" ry=".65"/>
<ellipse cx="68.2" cy="209.7" rx="1.2" ry=".65"/>
<ellipse cx="70.1" cy="204.6" rx="1.2" ry=".65"/>
<ellipse cx="72.3" cy="201.1" rx="1.2" ry=".65"/>
<ellipse cx="74.5" cy="197.2" rx="1.2" ry=".65"/>
<ellipse cx="78.3" cy="194.5" rx="1.2" ry=".65"/>
<ellipse cx="83.3" cy="193.4" rx="1.2" ry=".65"/>
<ellipse cx="86.7" cy="192.6" rx="1.2" ry=".65"/>
<ellipse cx="102.6" cy="192.4" rx="1.2" ry=".65"/>
<ellipse cx="105.9" cy="195.6" rx="1.2" ry=".65"/>
<ellipse cx="108.6" cy="200.4" rx="1.2" ry=".65"/>
<ellipse cx="110.7" cy="205" rx="1.2" ry=".65"/>
<ellipse cx="111.1" cy="209.2" rx="1.2" ry=".65"/>
<ellipse cx="111.9" cy="213.7" rx="1.2" ry=".65"/>
<ellipse cx="112.1" cy="219.3" rx="1.2" ry=".65"/>
<ellipse cx="111.6" cy="223.6" rx="1.2" ry=".65"/>
<ellipse cx="108.9" cy="228.2" rx="1.2" ry=".65"/>
<ellipse cx="105.6" cy="232" rx="1.2" ry=".65"/>
<ellipse cx="102.1" cy="234.1" rx="1.2" ry=".65"/>
<ellipse cx="98.2" cy="237.6" rx="1.2" ry=".65"/>
<ellipse cx="93.6" cy="238" rx="1.2" ry=".65"/>
<ellipse cx="89.1" cy="238.5" rx="1.2" ry=".65"/>
<ellipse cx="85.2" cy="238.7" rx="1.2" ry=".65"/>
<ellipse cx="80.7" cy="238.4" rx="1.2" ry=".65"/>
<ellipse cx="76.9" cy="234.4" rx="1.2" ry=".65"/>
<ellipse cx="73.1" cy="233.6" rx="1.2" ry=".65"/>
<ellipse cx="70.4" cy="228.6" rx="1.2" ry=".65"/>
<ellipse cx="67.1" cy="225.4" rx="1.2" ry=".65"/>
<ellipse cx="66.3" cy="220" rx="1.2" ry=".65"/>
<ellipse cx="64.6" cy="215.3" rx="1.2" ry=".65"/>
<ellipse cx="65" cy="211.2" rx="1.2" ry=".65"/>
<ellipse cx="66.4" cy="205.8" rx="1.2" ry=".65"/>
<ellipse cx="68.2" cy="202" rx="1.2" ry=".65"/>
<ellipse cx="70.7" cy="197.2" rx="1.2" ry=".65"/>
<ellipse cx="72.6" cy="194.2" rx="1.2" ry=".65"/>
<ellipse cx="76.9" cy="191.5" rx="1.2" ry=".65"/>
<ellipse cx="81.5" cy="188.7" rx="1.2" ry=".65"/>
<ellipse cx="85.3" cy="189.6" rx="1.2" ry=".65"/>
<ellipse cx="90.2" cy="187.3" rx="1.2" ry=".65"/>
<ellipse cx="93.9" cy="188.4" rx="1.2" ry=".65"/>
<ellipse cx="99" cy="191" rx="1.2" ry=".65"/>
<ellipse cx="103.8" cy="189.6" rx="1.2" ry=".65"/>
<ellipse cx="107.2" cy="193.4" rx="1.2" ry=".65"/>
<ellipse cx="110.6" cy="196.8" rx="1.2" ry=".65"/>
<ellipse cx="114.3" cy="200.6" rx="1.2" ry=".65"/>
<ellipse cx="115.3" cy="205.4" rx="1.2" ry=".65"/>
<ellipse cx="115.7" cy="210.2" rx="1.2" ry=".65"/>
<ellipse cx="115.6" cy="215.4" rx="1.2" ry=".65"/>
<ellipse cx="114.9" cy="220.3" rx="1.2" ry=".65"/>
<ellipse cx="113.4" cy="224.4" rx="1.2" ry=".65"/>
<ellipse cx="111.7" cy="229.5" rx="1.2" ry=".65"/>
<ellipse cx="108" cy="233.1" rx="1.2" ry=".65"/>
<ellipse cx="105.1" cy="236.4" rx="1.2" ry=".65"/>
<ellipse cx="101.6" cy="239.6" rx="1.2" ry=".65"/>
<ellipse cx="97.7" cy="241" rx="1.2" ry=".65"/>
<ellipse cx="93.2" cy="242.9" rx="1.2" ry=".65"/>
<ellipse cx="87.9" cy="243.2" rx="1.2" ry=".65"/>
<ellipse cx="83.5" cy="242.7" rx="1.2" ry=".65"/>
<ellipse cx="79" cy="241.6" rx="1.2" ry=".65"/>
<ellipse cx="74.8" cy="238.2" rx="1.2" ry=".65"/>
<ellipse cx="71.6" cy="235.9" rx="1.2" ry=".65"/>
<ellipse cx="67.2" cy="232.9" rx="1.2" ry=".65"/>
<ellipse cx="64.4" cy="229.3" rx="1.2" ry=".65"/>
<ellipse cx="62.3" cy="224.1" rx="1.2" ry=".65"/>
<ellipse cx="61.6" cy="219.5" rx="1.2" ry=".65"/>
<ellipse cx="62.3" cy="213.8" rx="1.2" ry=".65"/>
<ellipse cx="61.4" cy="209.7" rx="1.2" ry=".65"/>
<ellipse cx="61.9" cy="204.8" rx="1.2" ry=".65"/>
<ellipse cx="64.2" cy="199" rx="1.2" ry=".65"/>
<ellipse cx="66.5" cy="195.5" rx="1.2" ry=".65"/>
<ellipse cx="70" cy="190.7" rx="1.2" ry=".65"/>
<ellipse cx="73.4" cy="188.6" rx="1.2" ry=".65"/>
<ellipse cx="77.9" cy="186.5" rx="1.2" ry=".65"/>
<ellipse cx="82.2" cy="185.8" rx="1.2" ry=".65"/>
<ellipse cx="86.4" cy="185.2" rx="1.2" ry=".65"/>
<ellipse cx="91.5" cy="183.4" rx="1.2" ry=".65"/>
<ellipse cx="95.6" cy="186.3" rx="1.2" ry=".65"/>
<ellipse cx="100.8" cy="186.5" rx="1.2" ry=".65"/>
<ellipse cx="62" cy="230.5" rx="1.2" ry=".65"/>
<ellipse cx="59" cy="226" rx="1.2" ry=".65"/>
<ellipse cx="58.1" cy="221.4" rx="1.2" ry=".65"/>
<ellipse cx="56.7" cy="216.4" rx="1.2" ry=".65"/>
<ellipse cx="57.9" cy="210.6" rx="1.2" ry=".65"/>
<ellipse cx="57.4" cy="205.8" rx="1.2" ry=".65"/>
<ellipse cx="59.9" cy="200.7" rx="1.2" ry=".65"/>
<ellipse cx="62.1" cy="196.4" rx="1.2" ry=".65"/>
<ellipse cx="64.7" cy="192.5" rx="1.2" ry=".65"/>
<ellipse cx="68.1" cy="188.5" rx="1.2" ry=".65"/>
<ellipse cx="71" cy="184.6" rx="1.2" ry=".65"/>
<ellipse cx="75.8" cy="183.4" rx="1.2" ry=".65"/>
<ellipse cx="80.1" cy="180.3" rx="1.2" ry=".65"/>
<ellipse cx="84.9" cy="179.6" rx="1.2" ry=".65"/>
<ellipse cx="90" cy="179.9" rx="1.2" ry=".65"/>
<ellipse cx="95.2" cy="179.4" rx="1.2" ry=".65"/>
<ellipse cx="98.9" cy="182" rx="1.2" ry=".65"/>
<ellipse cx="103" cy="184.9" rx="1.2" ry=".65"/>
<ellipse cx="107.3" cy="187.4" rx="1.2" ry=".65"/>
<ellipse cx="111" cy="189.7" rx="1.2" ry=".65"/>
<ellipse cx="115.1" cy="194" rx="1.2" ry=".65"/>
<ellipse cx="116.3" cy="198.6" rx="1.2" ry=".65"/>
<ellipse cx="118" cy="203.7" rx="1.2" ry=".65"/>
<ellipse cx="119.1" cy="208.7" rx="1.2" ry=".65"/>
<ellipse cx="121" cy="213.8" rx="1.2" ry=".65"/>
<ellipse cx="119.8" cy="219" rx="1.2" ry=".65"/>
<ellipse cx="118.4" cy="224" rx="1.2" ry=".65"/>
<ellipse cx="116" cy="228" rx="1.2" ry=".65"/>
<ellipse cx="113.9" cy="232.9" rx="1.2" ry=".65"/>
<ellipse cx="110.4" cy="236.8" rx="1.2" ry=".65"/>
<ellipse cx="107.1" cy="240" rx="1.2" ry=".65"/>
<ellipse cx="103.9" cy="243" rx="1.2" ry=".65"/>
<ellipse cx="99.7" cy="246.2" rx="1.2" ry=".65"/>
<ellipse cx="94.8" cy="247" rx="1.2" ry=".65"/>
<ellipse cx="90.2" cy="248" rx="1.2" ry=".65"/>
<ellipse cx="84.5" cy="247.3" rx="1.2" ry=".65"/>
<ellipse cx="80.7" cy="245.7" rx="1.2" ry=".65"/>
<ellipse cx="75.7" cy="244.7" rx="1.2" ry=".65"/>
<ellipse cx="71.2" cy="242.8" rx="1.2" ry=".65"/>
<ellipse cx="67.7" cy="239.1" rx="1.2" ry=".65"/>
<ellipse cx="65.4" cy="234.8" rx="1.2" ry=".65"/>
<ellipse cx="120.6" cy="230.7" rx="1.2" ry=".65"/>
<ellipse cx="116.6" cy="236.5" rx="1.2" ry=".65"/>
<ellipse cx="111.4" cy="243.6" rx="1.2" ry=".65"/>
<ellipse cx="104.4" cy="246.8" rx="1.2" ry=".65"/>
<ellipse cx="98.9" cy="251.7" rx="1.2" ry=".65"/>
<ellipse cx="91.2" cy="251.9" rx="1.2" ry=".65"/>
<ellipse cx="83.4" cy="251.7" rx="1.2" ry=".65"/>
<ellipse cx="76.7" cy="249.1" rx="1.2" ry=".65"/>
<ellipse cx="69.7" cy="246.5" rx="1.2" ry=".65"/>
<ellipse cx="64.6" cy="240.7" rx="1.2" ry=".65"/>
<ellipse cx="58.7" cy="235.2" rx="1.2" ry=".65"/>
<ellipse cx="56" cy="228.1" rx="1.2" ry=".65"/>
<ellipse cx="53.5" cy="221" rx="1.2" ry=".65"/>
<ellipse cx="52.9" cy="212.8" rx="1.2" ry=".65"/>
<ellipse cx="55" cy="204.7" rx="1.2" ry=".65"/>
<ellipse cx="56.6" cy="196.9" rx="1.2" ry=".65"/>
<ellipse cx="59.6" cy="189.6" rx="1.2" ry=".65"/>
<ellipse cx="64.8" cy="183.2" rx="1.2" ry=".65"/>
<ellipse cx="72.1" cy="178.7" rx="1.2" ry=".65"/>
<ellipse cx="79.3" cy="177.8" rx="1.2" ry=".65"/>
<ellipse cx="86.1" cy="175.6" rx="1.2" ry=".65"/>
<ellipse cx="93" cy="174.6" rx="1.2" ry=".65"/>
<ellipse cx="101.3" cy="177.4" rx="1.2" ry=".65"/>
<ellipse cx="107" cy="181" rx="1.2" ry=".65"/>
<ellipse cx="112.8" cy="186.3" rx="1.2" ry=".65"/>
<ellipse cx="118" cy="191.8" rx="1.2" ry=".65"/>
<ellipse cx="121.6" cy="198.7" rx="1.2" ry=".65"/>
<ellipse cx="123.7" cy="206.3" rx="1.2" ry=".65"/>
<ellipse cx="123.5" cy="215.1" rx="1.2" ry=".65"/>
<ellipse cx="122.4" cy="222.9" rx="1.2" ry=".65"/>
</g>
<g fill="#E8A322">
<ellipse cx="88.6" cy="213.6" rx="4.6" ry="3.8"/>
</g>
<g fill="#7397B4" stroke="#C0DCF0" stroke-width="1.1" paint-order="stroke">
<ellipse cx="130.7" cy="175.9" rx="1.2" ry=".65"/>
<ellipse cx="129.6" cy="172.9" rx="1.2" ry=".65"/>
<ellipse cx="132.6" cy="173.2" rx="1.2" ry=".65"/>
<ellipse cx="131.9" cy="169.4" rx="1.2" ry=".65"/>
<ellipse cx="134.6" cy="171.5" rx="1.2" ry=".65"/>
<ellipse cx="136.1" cy="175" rx="1.2" ry=".65"/>
<ellipse cx="134" cy="178.2" rx="1.2" ry=".65"/>
<ellipse cx="130.1" cy="178.2" rx="1.2" ry=".65"/>
<ellipse cx="127.3" cy="176" rx="1.2" ry=".65"/>
<ellipse cx="126.7" cy="172.9" rx="1.2" ry=".65"/>
<ellipse cx="128.8" cy="169.4" rx="1.2" ry=".65"/>
<ellipse cx="123.2" cy="174.1" rx="1.2" ry=".65"/>
<ellipse cx="124.3" cy="170.7" rx="1.2" ry=".65"/>
<ellipse cx="126.6" cy="166.9" rx="1.2" ry=".65"/>
<ellipse cx="129.7" cy="165.8" rx="1.2" ry=".65"/>
<ellipse cx="133.6" cy="165.8" rx="1.2" ry=".65"/>
<ellipse cx="137.2" cy="168.7" rx="1.2" ry=".65"/>
<ellipse cx="138.9" cy="171.7" rx="1.2" ry=".65"/>
<ellipse cx="137.9" cy="175.8" rx="1.2" ry=".65"/>
<ellipse cx="136.2" cy="178.4" rx="1.2" ry=".65"/>
<ellipse cx="133.4" cy="180.2" rx="1.2" ry=".65"/>
<ellipse cx="130.2" cy="181" rx="1.2" ry=".65"/>
<ellipse cx="123.4" cy="177.5" rx="1.2" ry=".65"/>
<ellipse cx="140.4" cy="178.9" rx="1.2" ry=".65"/>
<ellipse cx="137.9" cy="181.5" rx="1.2" ry=".65"/>
<ellipse cx="134.9" cy="183.9" rx="1.2" ry=".65"/>
<ellipse cx="131.4" cy="185.1" rx="1.2" ry=".65"/>
<ellipse cx="127.6" cy="184.1" rx="1.2" ry=".65"/>
<ellipse cx="124.5" cy="182.3" rx="1.2" ry=".65"/>
<ellipse cx="121.7" cy="179.3" rx="1.2" ry=".65"/>
<ellipse cx="120.8" cy="176.2" rx="1.2" ry=".65"/>
<ellipse cx="120.5" cy="172.2" rx="1.2" ry=".65"/>
<ellipse cx="121.3" cy="168.8" rx="1.2" ry=".65"/>
<ellipse cx="123.6" cy="165.6" rx="1.2" ry=".65"/>
<ellipse cx="126.7" cy="164" rx="1.2" ry=".65"/>
<ellipse cx="130.5" cy="163" rx="1.2" ry=".65"/>
<ellipse cx="134.1" cy="163.4" rx="1.2" ry=".65"/>
<ellipse cx="137.8" cy="165" rx="1.2" ry=".65"/>
<ellipse cx="140" cy="168" rx="1.2" ry=".65"/>
<ellipse cx="141.7" cy="171.7" rx="1.2" ry=".65"/>
<ellipse cx="142.2" cy="175" rx="1.2" ry=".65"/>
<ellipse cx="116.7" cy="172.8" rx="1.2" ry=".65"/>
<ellipse cx="117.7" cy="169.4" rx="1.2" ry=".65"/>
<ellipse cx="120.5" cy="166.2" rx="1.2" ry=".65"/>
<ellipse cx="122.8" cy="163.7" rx="1.2" ry=".65"/>
<ellipse cx="125.4" cy="161.7" rx="1.2" ry=".65"/>
<ellipse cx="128.9" cy="160" rx="1.2" ry=".65"/>
<ellipse cx="132.5" cy="160.4" rx="1.2" ry=".65"/>
<ellipse cx="136.3" cy="160.9" rx="1.2" ry=".65"/>
<ellipse cx="139.4" cy="163.3" rx="1.2" ry=".65"/>
<ellipse cx="142.3" cy="165.5" rx="1.2" ry=".65"/>
<ellipse cx="143.5" cy="169.1" rx="1.2" ry=".65"/>
<ellipse cx="145.1" cy="172.5" rx="1.2" ry=".65"/>
<ellipse cx="144.8" cy="176.4" rx="1.2" ry=".65"/>
<ellipse cx="143.5" cy="179.9" rx="1.2" ry=".65"/>
<ellipse cx="140.9" cy="183.2" rx="1.2" ry=".65"/>
<ellipse cx="138.1" cy="185.1" rx="1.2" ry=".65"/>
<ellipse cx="135" cy="186.7" rx="1.2" ry=".65"/>
<ellipse cx="131.5" cy="188.1" rx="1.2" ry=".65"/>
<ellipse cx="127.6" cy="187.5" rx="1.2" ry=".65"/>
<ellipse cx="123.7" cy="186" rx="1.2" ry=".65"/>
<ellipse cx="121.2" cy="183.3" rx="1.2" ry=".65"/>
</g>
<g fill="#E8A322">
<ellipse cx="127.1" cy="180.9" rx="3.4" ry="2.8"/>
</g>
<g fill="#7397B4" stroke="#C0DCF0" stroke-width="1.1" paint-order="stroke">
<ellipse cx="150" cy="194.9" rx="1.35" ry=".8"/>
<ellipse cx="151.5" cy="198.3" rx="1.35" ry=".8"/>
<ellipse cx="152.6" cy="203.2" rx="1.35" ry=".8"/>
<ellipse cx="149.5" cy="206.9" rx="1.35" ry=".8"/>
<ellipse cx="145" cy="207.1" rx="1.35" ry=".8"/>
<ellipse cx="150.8" cy="192" rx="1.35" ry=".8"/>
<ellipse cx="155.5" cy="197.4" rx="1.35" ry=".8"/>
<ellipse cx="155.8" cy="204.1" rx="1.35" ry=".8"/>
<ellipse cx="150.7" cy="208.5" rx="1.35" ry=".8"/>
<ellipse cx="144.8" cy="211.2" rx="1.35" ry=".8"/>
</g>
<g fill="#E8A322">
<ellipse cx="145.7" cy="200.5" rx="2.8" ry="2.2"/>
</g>
<g fill="#C48E1B" stroke="#F3CF74" stroke-width="1.15" paint-order="stroke">
<ellipse cx="187.8" cy="132.5" rx="1.12" ry=".95"/>
<ellipse cx="185.4" cy="129.7" rx="1.12" ry=".95"/>
<ellipse cx="186.4" cy="125.9" rx="1.12" ry=".95"/>
<ellipse cx="190" cy="124.5" rx="1.12" ry=".95"/>
<ellipse cx="193.5" cy="126.3" rx="1.12" ry=".95"/>
<ellipse cx="193.9" cy="129.8" rx="1.12" ry=".95"/>
<ellipse cx="191.3" cy="132.5" rx="1.12" ry=".95"/>
<ellipse cx="195.9" cy="131.6" rx="1.12" ry=".95"/>
<ellipse cx="194.2" cy="134.7" rx="1.12" ry=".95"/>
<ellipse cx="190.3" cy="135.6" rx="1.12" ry=".95"/>
<ellipse cx="186.4" cy="135.3" rx="1.12" ry=".95"/>
<ellipse cx="183.9" cy="132.9" rx="1.12" ry=".95"/>
<ellipse cx="182.7" cy="129.6" rx="1.12" ry=".95"/>
<ellipse cx="183.5" cy="126.2" rx="1.12" ry=".95"/>
<ellipse cx="185.5" cy="123.2" rx="1.12" ry=".95"/>
<ellipse cx="189.1" cy="122.3" rx="1.12" ry=".95"/>
<ellipse cx="192.9" cy="122.8" rx="1.12" ry=".95"/>
<ellipse cx="195.7" cy="125" rx="1.12" ry=".95"/>
<ellipse cx="197.1" cy="128.2" rx="1.12" ry=".95"/>
<ellipse cx="198.1" cy="135.1" rx="1.12" ry=".95"/>
<ellipse cx="194.6" cy="136.9" rx="1.12" ry=".95"/>
<ellipse cx="191.5" cy="138.5" rx="1.12" ry=".95"/>
<ellipse cx="187.7" cy="138.6" rx="1.12" ry=".95"/>
<ellipse cx="184.3" cy="137.1" rx="1.12" ry=".95"/>
<ellipse cx="181.1" cy="134.7" rx="1.12" ry=".95"/>
<ellipse cx="179.9" cy="131.2" rx="1.12" ry=".95"/>
<ellipse cx="179.7" cy="127.7" rx="1.12" ry=".95"/>
<ellipse cx="180.5" cy="124.4" rx="1.12" ry=".95"/>
<ellipse cx="182.8" cy="121.2" rx="1.12" ry=".95"/>
<ellipse cx="186.6" cy="119.4" rx="1.12" ry=".95"/>
<ellipse cx="189.9" cy="119.2" rx="1.12" ry=".95"/>
<ellipse cx="193.7" cy="119.6" rx="1.12" ry=".95"/>
<ellipse cx="197" cy="121.6" rx="1.12" ry=".95"/>
<ellipse cx="199.3" cy="124.5" rx="1.12" ry=".95"/>
<ellipse cx="200" cy="128" rx="1.12" ry=".95"/>
<ellipse cx="199.7" cy="131.7" rx="1.12" ry=".95"/>
<ellipse cx="191.7" cy="116.1" rx="1.12" ry=".95"/>
<ellipse cx="195.5" cy="117.3" rx="1.12" ry=".95"/>
<ellipse cx="199.4" cy="118.9" rx="1.12" ry=".95"/>
<ellipse cx="201.7" cy="122.1" rx="1.12" ry=".95"/>
<ellipse cx="203.4" cy="125.9" rx="1.12" ry=".95"/>
<ellipse cx="203.4" cy="129.8" rx="1.12" ry=".95"/>
<ellipse cx="202.4" cy="133.4" rx="1.12" ry=".95"/>
<ellipse cx="200.7" cy="137.2" rx="1.12" ry=".95"/>
<ellipse cx="197.3" cy="139.3" rx="1.12" ry=".95"/>
<ellipse cx="193.9" cy="140.9" rx="1.12" ry=".95"/>
<ellipse cx="190.1" cy="141.6" rx="1.12" ry=".95"/>
<ellipse cx="185.6" cy="141.6" rx="1.12" ry=".95"/>
<ellipse cx="182.3" cy="139.8" rx="1.12" ry=".95"/>
<ellipse cx="179.3" cy="137.2" rx="1.12" ry=".95"/>
<ellipse cx="177.1" cy="133.6" rx="1.12" ry=".95"/>
<ellipse cx="176.2" cy="129.9" rx="1.12" ry=".95"/>
<ellipse cx="176" cy="126" rx="1.12" ry=".95"/>
<ellipse cx="178.2" cy="122.6" rx="1.12" ry=".95"/>
<ellipse cx="180.7" cy="119.5" rx="1.12" ry=".95"/>
<ellipse cx="183.7" cy="117.2" rx="1.12" ry=".95"/>
<ellipse cx="187.7" cy="115.5" rx="1.12" ry=".95"/>
<ellipse cx="195.4" cy="113.7" rx="1.12" ry=".95"/>
<ellipse cx="199.4" cy="115.7" rx="1.12" ry=".95"/>
<ellipse cx="202.8" cy="118" rx="1.12" ry=".95"/>
<ellipse cx="204.9" cy="121.3" rx="1.12" ry=".95"/>
<ellipse cx="206.6" cy="125.5" rx="1.12" ry=".95"/>
<ellipse cx="206.5" cy="129.3" rx="1.12" ry=".95"/>
<ellipse cx="205.8" cy="133.4" rx="1.12" ry=".95"/>
<ellipse cx="204.2" cy="137.1" rx="1.12" ry=".95"/>
<ellipse cx="202.1" cy="140.4" rx="1.12" ry=".95"/>
<ellipse cx="198" cy="142.4" rx="1.12" ry=".95"/>
<ellipse cx="194.6" cy="144.5" rx="1.12" ry=".95"/>
<ellipse cx="190.3" cy="144.8" rx="1.12" ry=".95"/>
<ellipse cx="186.1" cy="144.7" rx="1.12" ry=".95"/>
<ellipse cx="182" cy="143.3" rx="1.12" ry=".95"/>
<ellipse cx="178.2" cy="141.1" rx="1.12" ry=".95"/>
<ellipse cx="175.8" cy="137.9" rx="1.12" ry=".95"/>
<ellipse cx="173.8" cy="134.5" rx="1.12" ry=".95"/>
<ellipse cx="173" cy="130.3" rx="1.12" ry=".95"/>
<ellipse cx="173.6" cy="126.1" rx="1.12" ry=".95"/>
<ellipse cx="174.3" cy="122.4" rx="1.12" ry=".95"/>
<ellipse cx="176.3" cy="118.4" rx="1.12" ry=".95"/>
<ellipse cx="179.7" cy="115.9" rx="1.12" ry=".95"/>
<ellipse cx="183.2" cy="113.4" rx="1.12" ry=".95"/>
<ellipse cx="187.1" cy="112.9" rx="1.12" ry=".95"/>
<ellipse cx="191.6" cy="112.8" rx="1.12" ry=".95"/>
<ellipse cx="200.9" cy="112.1" rx="1.12" ry=".95"/>
<ellipse cx="203.8" cy="115.4" rx="1.12" ry=".95"/>
<ellipse cx="207.1" cy="117.8" rx="1.12" ry=".95"/>
<ellipse cx="208.3" cy="121.9" rx="1.12" ry=".95"/>
<ellipse cx="209.6" cy="125.8" rx="1.12" ry=".95"/>
<ellipse cx="210.2" cy="129.7" rx="1.12" ry=".95"/>
<ellipse cx="209.4" cy="133.7" rx="1.12" ry=".95"/>
<ellipse cx="207.8" cy="137.5" rx="1.12" ry=".95"/>
<ellipse cx="205.3" cy="140.9" rx="1.12" ry=".95"/>
<ellipse cx="202.6" cy="143.8" rx="1.12" ry=".95"/>
<ellipse cx="199.2" cy="146.5" rx="1.12" ry=".95"/>
<ellipse cx="195.3" cy="147.7" rx="1.12" ry=".95"/>
<ellipse cx="191" cy="148.5" rx="1.12" ry=".95"/>
<ellipse cx="186.6" cy="148.1" rx="1.12" ry=".95"/>
<ellipse cx="182.5" cy="147.1" rx="1.12" ry=".95"/>
<ellipse cx="178.9" cy="145.5" rx="1.12" ry=".95"/>
<ellipse cx="175.4" cy="142.4" rx="1.12" ry=".95"/>
<ellipse cx="173.2" cy="139.4" rx="1.12" ry=".95"/>
<ellipse cx="170.8" cy="136" rx="1.12" ry=".95"/>
<ellipse cx="169.5" cy="132.1" rx="1.12" ry=".95"/>
<ellipse cx="169.2" cy="127.8" rx="1.12" ry=".95"/>
<ellipse cx="170.2" cy="124" rx="1.12" ry=".95"/>
<ellipse cx="171.5" cy="119.6" rx="1.12" ry=".95"/>
<ellipse cx="174.3" cy="116.7" rx="1.12" ry=".95"/>
<ellipse cx="176.8" cy="113.8" rx="1.12" ry=".95"/>
<ellipse cx="180.7" cy="111.2" rx="1.12" ry=".95"/>
<ellipse cx="184.1" cy="109.4" rx="1.12" ry=".95"/>
<ellipse cx="188.7" cy="109.1" rx="1.12" ry=".95"/>
<ellipse cx="193.1" cy="109.4" rx="1.12" ry=".95"/>
<ellipse cx="197.2" cy="110.3" rx="1.12" ry=".95"/>
<ellipse cx="201.1" cy="149.3" rx="1.12" ry=".95"/>
<ellipse cx="195.8" cy="150.9" rx="1.12" ry=".95"/>
<ellipse cx="190.6" cy="151.8" rx="1.12" ry=".95"/>
<ellipse cx="185.2" cy="151.1" rx="1.12" ry=".95"/>
<ellipse cx="180" cy="149.8" rx="1.12" ry=".95"/>
<ellipse cx="175.8" cy="147.2" rx="1.12" ry=".95"/>
<ellipse cx="171.9" cy="143.5" rx="1.12" ry=".95"/>
<ellipse cx="168.4" cy="139.7" rx="1.12" ry=".95"/>
<ellipse cx="166.7" cy="134.7" rx="1.12" ry=".95"/>
<ellipse cx="166" cy="129.3" rx="1.12" ry=".95"/>
<ellipse cx="166.5" cy="124.7" rx="1.12" ry=".95"/>
<ellipse cx="167.9" cy="119.7" rx="1.12" ry=".95"/>
<ellipse cx="170.8" cy="115.2" rx="1.12" ry=".95"/>
<ellipse cx="173.8" cy="111.1" rx="1.12" ry=".95"/>
<ellipse cx="178.9" cy="108.4" rx="1.12" ry=".95"/>
<ellipse cx="183.5" cy="106.4" rx="1.12" ry=".95"/>
<ellipse cx="188.9" cy="105.3" rx="1.12" ry=".95"/>
<ellipse cx="194.5" cy="105.7" rx="1.12" ry=".95"/>
<ellipse cx="199.3" cy="107.8" rx="1.12" ry=".95"/>
<ellipse cx="204.4" cy="110.3" rx="1.12" ry=".95"/>
<ellipse cx="208.2" cy="113.7" rx="1.12" ry=".95"/>
<ellipse cx="211.2" cy="117.8" rx="1.12" ry=".95"/>
<ellipse cx="212.9" cy="122.9" rx="1.12" ry=".95"/>
<ellipse cx="213.2" cy="128.3" rx="1.12" ry=".95"/>
<ellipse cx="213.2" cy="133" rx="1.12" ry=".95"/>
<ellipse cx="212" cy="138" rx="1.12" ry=".95"/>
<ellipse cx="209.1" cy="142.7" rx="1.12" ry=".95"/>
<ellipse cx="205.3" cy="146.2" rx="1.12" ry=".95"/>
</g>
<g fill="#2A8A3A">
<ellipse cx="189.8" cy="128.8" rx="4.6" ry="3.8"/>
</g>
<g fill="#D3961D" stroke="#F5D27A" stroke-width="0.9" paint-order="stroke">
<ellipse cx="276.4" cy="62.9" rx="1.3" ry="1.08"/>
<ellipse cx="279.7" cy="64.7" rx="1.3" ry="1.08"/>
<ellipse cx="282.2" cy="68.2" rx="1.3" ry="1.08"/>
<ellipse cx="279.3" cy="72.4" rx="1.3" ry="1.08"/>
<ellipse cx="275.1" cy="71.3" rx="1.3" ry="1.08"/>
<ellipse cx="273.3" cy="69" rx="1.3" ry="1.08"/>
<ellipse cx="272.5" cy="65.9" rx="1.3" ry="1.08"/>
<ellipse cx="268.5" cy="61.4" rx="1.3" ry="1.08"/>
<ellipse cx="273.4" cy="59.2" rx="1.3" ry="1.08"/>
<ellipse cx="278.6" cy="59.1" rx="1.3" ry="1.08"/>
<ellipse cx="282.6" cy="61.6" rx="1.3" ry="1.08"/>
<ellipse cx="284.8" cy="65.8" rx="1.3" ry="1.08"/>
<ellipse cx="284.8" cy="70.1" rx="1.3" ry="1.08"/>
<ellipse cx="281.9" cy="74.7" rx="1.3" ry="1.08"/>
<ellipse cx="277.7" cy="75.7" rx="1.3" ry="1.08"/>
<ellipse cx="272.6" cy="75.7" rx="1.3" ry="1.08"/>
<ellipse cx="269.4" cy="71.8" rx="1.3" ry="1.08"/>
<ellipse cx="268.3" cy="67.5" rx="1.3" ry="1.08"/>
<ellipse cx="288.7" cy="71.1" rx="1.3" ry="1.08"/>
<ellipse cx="287.5" cy="76.5" rx="1.3" ry="1.08"/>
<ellipse cx="282.3" cy="79" rx="1.3" ry="1.08"/>
<ellipse cx="277.1" cy="81.6" rx="1.3" ry="1.08"/>
<ellipse cx="272.3" cy="80" rx="1.3" ry="1.08"/>
<ellipse cx="267.9" cy="77.4" rx="1.3" ry="1.08"/>
<ellipse cx="264.9" cy="72.9" rx="1.3" ry="1.08"/>
<ellipse cx="263.3" cy="67.5" rx="1.3" ry="1.08"/>
<ellipse cx="265.6" cy="62.1" rx="1.3" ry="1.08"/>
<ellipse cx="269.2" cy="57.6" rx="1.3" ry="1.08"/>
<ellipse cx="273" cy="54.7" rx="1.3" ry="1.08"/>
<ellipse cx="278.4" cy="54.5" rx="1.3" ry="1.08"/>
<ellipse cx="284.6" cy="55.9" rx="1.3" ry="1.08"/>
<ellipse cx="287.6" cy="60.3" rx="1.3" ry="1.08"/>
<ellipse cx="289.8" cy="65.5" rx="1.3" ry="1.08"/>
<ellipse cx="267.4" cy="80.9" rx="1.3" ry="1.08"/>
<ellipse cx="263.4" cy="79" rx="1.3" ry="1.08"/>
<ellipse cx="260" cy="74.3" rx="1.3" ry="1.08"/>
<ellipse cx="259.9" cy="69" rx="1.3" ry="1.08"/>
<ellipse cx="259.8" cy="63.1" rx="1.3" ry="1.08"/>
<ellipse cx="262.2" cy="58.4" rx="1.3" ry="1.08"/>
<ellipse cx="265.3" cy="54.2" rx="1.3" ry="1.08"/>
<ellipse cx="270.8" cy="52.6" rx="1.3" ry="1.08"/>
<ellipse cx="275.7" cy="50.5" rx="1.3" ry="1.08"/>
<ellipse cx="280.6" cy="51.3" rx="1.3" ry="1.08"/>
<ellipse cx="286.2" cy="52.8" rx="1.3" ry="1.08"/>
<ellipse cx="290.1" cy="55.6" rx="1.3" ry="1.08"/>
<ellipse cx="291.9" cy="61.8" rx="1.3" ry="1.08"/>
<ellipse cx="294.3" cy="66.8" rx="1.3" ry="1.08"/>
<ellipse cx="292.8" cy="71.9" rx="1.3" ry="1.08"/>
<ellipse cx="290.3" cy="75.8" rx="1.3" ry="1.08"/>
<ellipse cx="286.9" cy="80.4" rx="1.3" ry="1.08"/>
<ellipse cx="283" cy="83.4" rx="1.3" ry="1.08"/>
<ellipse cx="277.4" cy="84.8" rx="1.3" ry="1.08"/>
<ellipse cx="272.8" cy="84.8" rx="1.3" ry="1.08"/>
<ellipse cx="257.4" cy="57.1" rx="1.3" ry="1.08"/>
<ellipse cx="261.8" cy="52.7" rx="1.3" ry="1.08"/>
<ellipse cx="265.2" cy="48.9" rx="1.3" ry="1.08"/>
<ellipse cx="271.1" cy="47" rx="1.3" ry="1.08"/>
<ellipse cx="276" cy="45.4" rx="1.3" ry="1.08"/>
<ellipse cx="282.4" cy="46.9" rx="1.3" ry="1.08"/>
<ellipse cx="287.5" cy="48.2" rx="1.3" ry="1.08"/>
<ellipse cx="292.3" cy="52" rx="1.3" ry="1.08"/>
<ellipse cx="296.1" cy="56.1" rx="1.3" ry="1.08"/>
<ellipse cx="297.5" cy="62.3" rx="1.3" ry="1.08"/>
<ellipse cx="297.5" cy="67" rx="1.3" ry="1.08"/>
<ellipse cx="297.7" cy="72.8" rx="1.3" ry="1.08"/>
<ellipse cx="295.6" cy="78.6" rx="1.3" ry="1.08"/>
<ellipse cx="291.9" cy="82.7" rx="1.3" ry="1.08"/>
<ellipse cx="287.8" cy="86.4" rx="1.3" ry="1.08"/>
<ellipse cx="282.7" cy="88.9" rx="1.3" ry="1.08"/>
<ellipse cx="277.3" cy="89" rx="1.3" ry="1.08"/>
<ellipse cx="271.6" cy="87.6" rx="1.3" ry="1.08"/>
<ellipse cx="266.1" cy="86" rx="1.3" ry="1.08"/>
<ellipse cx="260.7" cy="83.3" rx="1.3" ry="1.08"/>
<ellipse cx="257.1" cy="78.4" rx="1.3" ry="1.08"/>
<ellipse cx="255.4" cy="73.9" rx="1.3" ry="1.08"/>
<ellipse cx="254.1" cy="67.3" rx="1.3" ry="1.08"/>
<ellipse cx="255.4" cy="61.9" rx="1.3" ry="1.08"/>
<ellipse cx="299.3" cy="54.2" rx="1.3" ry="1.08"/>
<ellipse cx="304" cy="63" rx="1.3" ry="1.08"/>
<ellipse cx="302.7" cy="72.6" rx="1.3" ry="1.08"/>
<ellipse cx="299.6" cy="81.1" rx="1.3" ry="1.08"/>
<ellipse cx="293.3" cy="87.9" rx="1.3" ry="1.08"/>
<ellipse cx="285.7" cy="93.1" rx="1.3" ry="1.08"/>
<ellipse cx="276.3" cy="94" rx="1.3" ry="1.08"/>
<ellipse cx="267.3" cy="92.8" rx="1.3" ry="1.08"/>
<ellipse cx="259.7" cy="88.1" rx="1.3" ry="1.08"/>
<ellipse cx="253.9" cy="80.1" rx="1.3" ry="1.08"/>
<ellipse cx="250.1" cy="72.4" rx="1.3" ry="1.08"/>
<ellipse cx="250.8" cy="62.7" rx="1.3" ry="1.08"/>
<ellipse cx="253.2" cy="53.5" rx="1.3" ry="1.08"/>
<ellipse cx="259.6" cy="47.2" rx="1.3" ry="1.08"/>
<ellipse cx="267.6" cy="42.7" rx="1.3" ry="1.08"/>
<ellipse cx="276.6" cy="40.5" rx="1.3" ry="1.08"/>
<ellipse cx="285.6" cy="42.8" rx="1.3" ry="1.08"/>
<ellipse cx="293.7" cy="47" rx="1.3" ry="1.08"/>
</g>
<g fill="#2A8A3A">
<ellipse cx="276.7" cy="67.6" rx="4.4" ry="4.2"/>
</g>
<g fill="#D3961D" stroke="#F5D27A" stroke-width="0.9" paint-order="stroke">
<ellipse cx="229.3" cy="88.8" rx="1.25" ry="1.05"/>
<ellipse cx="230.9" cy="93" rx="1.25" ry="1.05"/>
<ellipse cx="227.8" cy="97.2" rx="1.25" ry="1.05"/>
<ellipse cx="223" cy="97.1" rx="1.25" ry="1.05"/>
<ellipse cx="221.7" cy="92.6" rx="1.25" ry="1.05"/>
<ellipse cx="223.6" cy="87.8" rx="1.25" ry="1.05"/>
<ellipse cx="227" cy="84.7" rx="1.25" ry="1.05"/>
<ellipse cx="230.9" cy="85.9" rx="1.25" ry="1.05"/>
<ellipse cx="233.7" cy="90" rx="1.25" ry="1.05"/>
<ellipse cx="233.9" cy="94.6" rx="1.25" ry="1.05"/>
<ellipse cx="231.8" cy="98.2" rx="1.25" ry="1.05"/>
<ellipse cx="228.2" cy="100.5" rx="1.25" ry="1.05"/>
<ellipse cx="223.6" cy="100.2" rx="1.25" ry="1.05"/>
<ellipse cx="219.4" cy="97.7" rx="1.25" ry="1.05"/>
<ellipse cx="218.4" cy="93.4" rx="1.25" ry="1.05"/>
<ellipse cx="218.6" cy="88.7" rx="1.25" ry="1.05"/>
<ellipse cx="222.6" cy="85.6" rx="1.25" ry="1.05"/>
<ellipse cx="215.2" cy="88.7" rx="1.25" ry="1.05"/>
<ellipse cx="218.2" cy="85" rx="1.25" ry="1.05"/>
<ellipse cx="221.4" cy="81.6" rx="1.25" ry="1.05"/>
<ellipse cx="225.8" cy="80.8" rx="1.25" ry="1.05"/>
<ellipse cx="230.2" cy="81.4" rx="1.25" ry="1.05"/>
<ellipse cx="234.3" cy="84.3" rx="1.25" ry="1.05"/>
<ellipse cx="237.4" cy="88" rx="1.25" ry="1.05"/>
<ellipse cx="238.3" cy="92.1" rx="1.25" ry="1.05"/>
<ellipse cx="236.6" cy="97.2" rx="1.25" ry="1.05"/>
<ellipse cx="234.7" cy="100.8" rx="1.25" ry="1.05"/>
<ellipse cx="231" cy="104" rx="1.25" ry="1.05"/>
<ellipse cx="226.9" cy="104.8" rx="1.25" ry="1.05"/>
<ellipse cx="222.3" cy="103" rx="1.25" ry="1.05"/>
<ellipse cx="217.3" cy="101.8" rx="1.25" ry="1.05"/>
<ellipse cx="215" cy="98.1" rx="1.25" ry="1.05"/>
<ellipse cx="214.3" cy="92.9" rx="1.25" ry="1.05"/>
<ellipse cx="211.5" cy="96" rx="1.25" ry="1.05"/>
<ellipse cx="218.1" cy="80" rx="1.25" ry="1.05"/>
<ellipse cx="236" cy="81.3" rx="1.25" ry="1.05"/>
<ellipse cx="241" cy="98.7" rx="1.25" ry="1.05"/>
<ellipse cx="225.4" cy="108.5" rx="1.25" ry="1.05"/>
</g>
<g fill="#2A8A3A">
<ellipse cx="226.2" cy="92.8" rx="3.3" ry="2.7"/>
</g>
<g fill="#D3961D" stroke="#F5D27A" stroke-width="0.9" paint-order="stroke">
<ellipse cx="176.4" cy="89.2" rx="1.6" ry="1.3"/>
<ellipse cx="177.8" cy="84" rx="1.6" ry="1.3"/>
<ellipse cx="181.8" cy="81.2" rx="1.6" ry="1.3"/>
<ellipse cx="185.7" cy="79.2" rx="1.6" ry="1.3"/>
<ellipse cx="190.7" cy="81.1" rx="1.6" ry="1.3"/>
<ellipse cx="194.5" cy="83.8" rx="1.6" ry="1.3"/>
<ellipse cx="195.3" cy="88.8" rx="1.6" ry="1.3"/>
<ellipse cx="172.2" cy="88.7" rx="1.6" ry="1.3"/>
<ellipse cx="173.8" cy="81.5" rx="1.6" ry="1.3"/>
<ellipse cx="179.1" cy="76.7" rx="1.6" ry="1.3"/>
<ellipse cx="185.9" cy="76.1" rx="1.6" ry="1.3"/>
<ellipse cx="192.7" cy="76.4" rx="1.6" ry="1.3"/>
<ellipse cx="197.5" cy="81.7" rx="1.6" ry="1.3"/>
<ellipse cx="200.1" cy="88.7" rx="1.6" ry="1.3"/>
</g>
<g fill="#2A8A3A">
<ellipse cx="186" cy="88.8" rx="3" ry="2.4"/>
</g>
<g fill="#D3961D" stroke="#F5D27A" stroke-width="0.9" paint-order="stroke">
<ellipse cx="199.7" cy="60.2" rx="1.6" ry="1.3"/>
<ellipse cx="196.1" cy="61.3" rx="1.6" ry="1.3"/>
<ellipse cx="191.5" cy="59.3" rx="1.6" ry="1.3"/>
<ellipse cx="188.2" cy="56.5" rx="1.6" ry="1.3"/>
<ellipse cx="187.4" cy="51.9" rx="1.6" ry="1.3"/>
<ellipse cx="188.3" cy="47.6" rx="1.6" ry="1.3"/>
<ellipse cx="192.2" cy="44.3" rx="1.6" ry="1.3"/>
<ellipse cx="196.7" cy="43.3" rx="1.6" ry="1.3"/>
<ellipse cx="201.4" cy="45" rx="1.6" ry="1.3"/>
<ellipse cx="204.1" cy="48.9" rx="1.6" ry="1.3"/>
<ellipse cx="205.4" cy="53.4" rx="1.6" ry="1.3"/>
<ellipse cx="204.4" cy="57.4" rx="1.6" ry="1.3"/>
<ellipse cx="193.5" cy="65.3" rx="1.6" ry="1.3"/>
<ellipse cx="187.1" cy="43.1" rx="1.6" ry="1.3"/>
<ellipse cx="208.7" cy="48.6" rx="1.6" ry="1.3"/>
</g>
<g fill="#2A8A3A">
<ellipse cx="196.4" cy="52.5" rx="3" ry="2.4"/>
</g>
<g fill="#D3961D" stroke="#F5D27A" stroke-width="0.9" paint-order="stroke">
<ellipse cx="233.2" cy="51.2" rx="1.6" ry="1.3"/>
<ellipse cx="228.3" cy="51.1" rx="1.6" ry="1.3"/>
<ellipse cx="224.9" cy="46.8" rx="1.6" ry="1.3"/>
<ellipse cx="225.5" cy="41.2" rx="1.6" ry="1.3"/>
<ellipse cx="228.6" cy="37.3" rx="1.6" ry="1.3"/>
<ellipse cx="233.9" cy="36.2" rx="1.6" ry="1.3"/>
<ellipse cx="238.4" cy="39.7" rx="1.6" ry="1.3"/>
<ellipse cx="240.4" cy="44.5" rx="1.6" ry="1.3"/>
<ellipse cx="237.6" cy="49.3" rx="1.6" ry="1.3"/>
<ellipse cx="219.4" cy="39.6" rx="1.6" ry="1.3"/>
<ellipse cx="223.6" cy="34.2" rx="1.6" ry="1.3"/>
<ellipse cx="229.3" cy="30.1" rx="1.6" ry="1.3"/>
<ellipse cx="236" cy="30.7" rx="1.6" ry="1.3"/>
<ellipse cx="242.3" cy="34" rx="1.6" ry="1.3"/>
<ellipse cx="245.3" cy="39.6" rx="1.6" ry="1.3"/>
<ellipse cx="247.2" cy="45.3" rx="1.6" ry="1.3"/>
<ellipse cx="244.1" cy="52.5" rx="1.6" ry="1.3"/>
<ellipse cx="239.1" cy="55.6" rx="1.6" ry="1.3"/>
<ellipse cx="232.8" cy="58.9" rx="1.6" ry="1.3"/>
<ellipse cx="226.9" cy="55.8" rx="1.6" ry="1.3"/>
<ellipse cx="221.9" cy="52.4" rx="1.6" ry="1.3"/>
<ellipse cx="218.1" cy="45.6" rx="1.6" ry="1.3"/>
</g>
<g fill="#2A8A3A">
<ellipse cx="232.7" cy="44.2" rx="3.2" ry="2.6"/>
</g>
<g fill="#D3961D" stroke="#F5D27A" stroke-width="0.9" paint-order="stroke">
<ellipse cx="225.2" cy="149.3" rx="1.2" ry="1"/>
<ellipse cx="229.6" cy="150.4" rx="1.2" ry="1"/>
<ellipse cx="230.6" cy="154.9" rx="1.2" ry="1"/>
<ellipse cx="227.6" cy="158.3" rx="1.2" ry="1"/>
<ellipse cx="223.6" cy="156.4" rx="1.2" ry="1"/>
<ellipse cx="222.3" cy="152.4" rx="1.2" ry="1"/>
<ellipse cx="219.4" cy="157" rx="1.2" ry="1"/>
<ellipse cx="218.5" cy="152.1" rx="1.2" ry="1"/>
<ellipse cx="220.8" cy="148.4" rx="1.2" ry="1"/>
<ellipse cx="224.4" cy="146" rx="1.2" ry="1"/>
<ellipse cx="228.7" cy="145.9" rx="1.2" ry="1"/>
<ellipse cx="232.7" cy="148.8" rx="1.2" ry="1"/>
<ellipse cx="234.1" cy="152.5" rx="1.2" ry="1"/>
<ellipse cx="234.2" cy="157.1" rx="1.2" ry="1"/>
<ellipse cx="230.9" cy="160.4" rx="1.2" ry="1"/>
<ellipse cx="226.4" cy="161.9" rx="1.2" ry="1"/>
<ellipse cx="222" cy="160.3" rx="1.2" ry="1"/>
<ellipse cx="215" cy="151.8" rx="1.2" ry="1"/>
<ellipse cx="217.2" cy="147.6" rx="1.2" ry="1"/>
<ellipse cx="220.2" cy="144.6" rx="1.2" ry="1"/>
<ellipse cx="224" cy="142.2" rx="1.2" ry="1"/>
<ellipse cx="228.5" cy="141.7" rx="1.2" ry="1"/>
<ellipse cx="232.9" cy="143.8" rx="1.2" ry="1"/>
<ellipse cx="235.4" cy="147.1" rx="1.2" ry="1"/>
<ellipse cx="238" cy="151.2" rx="1.2" ry="1"/>
<ellipse cx="238.1" cy="155.5" rx="1.2" ry="1"/>
<ellipse cx="236.5" cy="159.8" rx="1.2" ry="1"/>
<ellipse cx="233.4" cy="162.8" rx="1.2" ry="1"/>
<ellipse cx="229.3" cy="164.9" rx="1.2" ry="1"/>
<ellipse cx="224.9" cy="165" rx="1.2" ry="1"/>
<ellipse cx="220.5" cy="163.1" rx="1.2" ry="1"/>
<ellipse cx="217.3" cy="160.1" rx="1.2" ry="1"/>
<ellipse cx="215.5" cy="156.5" rx="1.2" ry="1"/>
<ellipse cx="220.2" cy="140.5" rx="1.2" ry="1"/>
<ellipse cx="227" cy="138.3" rx="1.2" ry="1"/>
<ellipse cx="233.6" cy="140.6" rx="1.2" ry="1"/>
<ellipse cx="239" cy="145.7" rx="1.2" ry="1"/>
<ellipse cx="241.8" cy="152.3" rx="1.2" ry="1"/>
<ellipse cx="241.1" cy="159.6" rx="1.2" ry="1"/>
<ellipse cx="236.1" cy="165.1" rx="1.2" ry="1"/>
<ellipse cx="230.1" cy="168.5" rx="1.2" ry="1"/>
<ellipse cx="222.4" cy="168.2" rx="1.2" ry="1"/>
<ellipse cx="216.5" cy="164.8" rx="1.2" ry="1"/>
<ellipse cx="212.2" cy="159" rx="1.2" ry="1"/>
<ellipse cx="211.9" cy="151.4" rx="1.2" ry="1"/>
<ellipse cx="214.6" cy="144.9" rx="1.2" ry="1"/>
</g>
<g fill="#2A8A3A">
<ellipse cx="226.6" cy="153.6" rx="3.3" ry="2.7"/>
</g>
<g fill="#D3961D" stroke="#F5D27A" stroke-width="0.9" paint-order="stroke">
<ellipse cx="266.7" cy="135.7" rx="1.25" ry="1.05"/>
<ellipse cx="264.6" cy="136.5" rx="1.25" ry="1.05"/>
<ellipse cx="264.7" cy="134.5" rx="1.25" ry="1.05"/>
<ellipse cx="267.4" cy="130.4" rx="1.25" ry="1.05"/>
<ellipse cx="269.9" cy="132.7" rx="1.25" ry="1.05"/>
<ellipse cx="270.5" cy="137" rx="1.25" ry="1.05"/>
<ellipse cx="267.7" cy="140.2" rx="1.25" ry="1.05"/>
<ellipse cx="263.1" cy="140.6" rx="1.25" ry="1.05"/>
<ellipse cx="261.1" cy="138.1" rx="1.25" ry="1.05"/>
<ellipse cx="260" cy="134.1" rx="1.25" ry="1.05"/>
<ellipse cx="265.6" cy="126.3" rx="1.25" ry="1.05"/>
<ellipse cx="269.2" cy="128.2" rx="1.25" ry="1.05"/>
<ellipse cx="272.4" cy="130.7" rx="1.25" ry="1.05"/>
<ellipse cx="274" cy="134.9" rx="1.25" ry="1.05"/>
<ellipse cx="273.2" cy="138.8" rx="1.25" ry="1.05"/>
<ellipse cx="270.8" cy="141.8" rx="1.25" ry="1.05"/>
<ellipse cx="267.4" cy="144.6" rx="1.25" ry="1.05"/>
<ellipse cx="263.6" cy="145.4" rx="1.25" ry="1.05"/>
<ellipse cx="258.7" cy="143.2" rx="1.25" ry="1.05"/>
<ellipse cx="257.6" cy="138.3" rx="1.25" ry="1.05"/>
<ellipse cx="257.4" cy="134.3" rx="1.25" ry="1.05"/>
<ellipse cx="257.6" cy="129.9" rx="1.25" ry="1.05"/>
<ellipse cx="260.4" cy="127.6" rx="1.25" ry="1.05"/>
<ellipse cx="270.5" cy="123.7" rx="1.25" ry="1.05"/>
<ellipse cx="273.9" cy="126.4" rx="1.25" ry="1.05"/>
<ellipse cx="277.5" cy="129.6" rx="1.25" ry="1.05"/>
<ellipse cx="278.4" cy="134.2" rx="1.25" ry="1.05"/>
<ellipse cx="278" cy="138.8" rx="1.25" ry="1.05"/>
<ellipse cx="275.5" cy="142.6" rx="1.25" ry="1.05"/>
<ellipse cx="272.8" cy="146.6" rx="1.25" ry="1.05"/>
<ellipse cx="268.3" cy="147.1" rx="1.25" ry="1.05"/>
<ellipse cx="264.5" cy="149.4" rx="1.25" ry="1.05"/>
<ellipse cx="259.6" cy="146.9" rx="1.25" ry="1.05"/>
<ellipse cx="257.1" cy="144.2" rx="1.25" ry="1.05"/>
<ellipse cx="253.1" cy="141" rx="1.25" ry="1.05"/>
<ellipse cx="252.9" cy="136.3" rx="1.25" ry="1.05"/>
</g>
<g fill="#2A8A3A">
<ellipse cx="260.9" cy="131" rx="3.2" ry="2.6"/>
</g>
<g fill="#D3961D" stroke="#F5D27A" stroke-width="0.9" paint-order="stroke">
<ellipse cx="342.4" cy="36.3" rx="1.25" ry="1.05"/>
<ellipse cx="343.1" cy="41.3" rx="1.25" ry="1.05"/>
<ellipse cx="345" cy="35.3" rx="1.25" ry="1.05"/>
<ellipse cx="346.6" cy="39.7" rx="1.25" ry="1.05"/>
<ellipse cx="343.8" cy="43.5" rx="1.25" ry="1.05"/>
<ellipse cx="340.8" cy="44.3" rx="1.25" ry="1.05"/>
<ellipse cx="337.4" cy="41.8" rx="1.25" ry="1.05"/>
<ellipse cx="339.3" cy="34.1" rx="1.25" ry="1.05"/>
<ellipse cx="342.6" cy="33.5" rx="1.25" ry="1.05"/>
<ellipse cx="340" cy="27.8" rx="1.25" ry="1.05"/>
<ellipse cx="343.6" cy="29.1" rx="1.25" ry="1.05"/>
<ellipse cx="346.6" cy="31.3" rx="1.25" ry="1.05"/>
<ellipse cx="348.5" cy="34.9" rx="1.25" ry="1.05"/>
<ellipse cx="350.2" cy="40.4" rx="1.25" ry="1.05"/>
<ellipse cx="348.3" cy="44.1" rx="1.25" ry="1.05"/>
<ellipse cx="345.6" cy="47.7" rx="1.25" ry="1.05"/>
<ellipse cx="341.2" cy="47.6" rx="1.25" ry="1.05"/>
<ellipse cx="337.9" cy="47.8" rx="1.25" ry="1.05"/>
<ellipse cx="335.7" cy="43.5" rx="1.25" ry="1.05"/>
<ellipse cx="334.5" cy="39.7" rx="1.25" ry="1.05"/>
<ellipse cx="334.5" cy="34.4" rx="1.25" ry="1.05"/>
<ellipse cx="336.5" cy="31.1" rx="1.25" ry="1.05"/>
<ellipse cx="353" cy="41.5" rx="1.25" ry="1.05"/>
<ellipse cx="349.5" cy="49.1" rx="1.25" ry="1.05"/>
<ellipse cx="343.5" cy="52.9" rx="1.25" ry="1.05"/>
<ellipse cx="336.3" cy="51" rx="1.25" ry="1.05"/>
<ellipse cx="332.4" cy="44.5" rx="1.25" ry="1.05"/>
<ellipse cx="331.4" cy="36.5" rx="1.25" ry="1.05"/>
</g>
<g fill="#BFC3CC">
<ellipse cx="337.4" cy="37.6" rx="2.6" ry="2.1"/>
</g>
<g fill="#D3961D" stroke="#F5D27A" stroke-width="0.9" paint-order="stroke">
<ellipse cx="347.4" cy="139.5" rx="1.25" ry="1.05"/>
<ellipse cx="347.2" cy="143.4" rx="1.25" ry="1.05"/>
<ellipse cx="342.1" cy="139.3" rx="1.25" ry="1.05"/>
<ellipse cx="344.9" cy="136.4" rx="1.25" ry="1.05"/>
<ellipse cx="348.3" cy="136.7" rx="1.25" ry="1.05"/>
<ellipse cx="351.5" cy="139.7" rx="1.25" ry="1.05"/>
<ellipse cx="350.3" cy="144.4" rx="1.25" ry="1.05"/>
<ellipse cx="348.4" cy="147.7" rx="1.25" ry="1.05"/>
<ellipse cx="344.6" cy="146.6" rx="1.25" ry="1.05"/>
<ellipse cx="342.1" cy="144.1" rx="1.25" ry="1.05"/>
<ellipse cx="346.2" cy="151.1" rx="1.25" ry="1.05"/>
<ellipse cx="342" cy="150.8" rx="1.25" ry="1.05"/>
<ellipse cx="339.9" cy="146.9" rx="1.25" ry="1.05"/>
<ellipse cx="338" cy="142" rx="1.25" ry="1.05"/>
<ellipse cx="339.1" cy="137.7" rx="1.25" ry="1.05"/>
<ellipse cx="341.6" cy="133.2" rx="1.25" ry="1.05"/>
<ellipse cx="345" cy="131.9" rx="1.25" ry="1.05"/>
<ellipse cx="349.2" cy="132.6" rx="1.25" ry="1.05"/>
<ellipse cx="352.4" cy="134.6" rx="1.25" ry="1.05"/>
<ellipse cx="354" cy="138.9" rx="1.25" ry="1.05"/>
<ellipse cx="353.8" cy="143.2" rx="1.25" ry="1.05"/>
<ellipse cx="352.7" cy="147.8" rx="1.25" ry="1.05"/>
<ellipse cx="349.7" cy="151.6" rx="1.25" ry="1.05"/>
<ellipse cx="345.4" cy="155.9" rx="1.25" ry="1.05"/>
<ellipse cx="341.6" cy="154.8" rx="1.25" ry="1.05"/>
<ellipse cx="338" cy="151.8" rx="1.25" ry="1.05"/>
<ellipse cx="336.4" cy="147" rx="1.25" ry="1.05"/>
<ellipse cx="335.9" cy="142.5" rx="1.25" ry="1.05"/>
<ellipse cx="335.6" cy="136.8" rx="1.25" ry="1.05"/>
<ellipse cx="338" cy="133.4" rx="1.25" ry="1.05"/>
<ellipse cx="340.8" cy="129.8" rx="1.25" ry="1.05"/>
<ellipse cx="344.5" cy="127.9" rx="1.25" ry="1.05"/>
<ellipse cx="348" cy="127.4" rx="1.25" ry="1.05"/>
<ellipse cx="352.1" cy="129.8" rx="1.25" ry="1.05"/>
<ellipse cx="354.8" cy="132.6" rx="1.25" ry="1.05"/>
<ellipse cx="356.6" cy="136.8" rx="1.25" ry="1.05"/>
<ellipse cx="357" cy="141.2" rx="1.25" ry="1.05"/>
<ellipse cx="356.5" cy="145.8" rx="1.25" ry="1.05"/>
<ellipse cx="355.1" cy="150.7" rx="1.25" ry="1.05"/>
<ellipse cx="352.6" cy="154" rx="1.25" ry="1.05"/>
<ellipse cx="348.7" cy="155.8" rx="1.25" ry="1.05"/>
<ellipse cx="341.6" cy="125.4" rx="1.25" ry="1.05"/>
<ellipse cx="347.6" cy="122.9" rx="1.25" ry="1.05"/>
<ellipse cx="353.6" cy="125.4" rx="1.25" ry="1.05"/>
<ellipse cx="358.4" cy="131.6" rx="1.25" ry="1.05"/>
<ellipse cx="360.7" cy="139.3" rx="1.25" ry="1.05"/>
<ellipse cx="360.7" cy="147.1" rx="1.25" ry="1.05"/>
<ellipse cx="356.7" cy="153.5" rx="1.25" ry="1.05"/>
<ellipse cx="352.2" cy="158.9" rx="1.25" ry="1.05"/>
<ellipse cx="345.6" cy="160.7" rx="1.25" ry="1.05"/>
</g>
<g fill="#BFC3CC">
<ellipse cx="345" cy="141" rx="2.6" ry="2.1"/>
</g>
<g fill="#8D8D96" stroke="#D7D7DD" stroke-width="1.1" paint-order="stroke">
<ellipse cx="419.7" cy="53.5" rx="1.25" ry=".62"/>
<ellipse cx="421.3" cy="56.7" rx="1.25" ry=".62"/>
<ellipse cx="418.4" cy="60.8" rx="1.25" ry=".62"/>
<ellipse cx="414.7" cy="60.7" rx="1.25" ry=".62"/>
<ellipse cx="412.4" cy="57.1" rx="1.25" ry=".62"/>
<ellipse cx="413.7" cy="53.4" rx="1.25" ry=".62"/>
<ellipse cx="416.6" cy="52" rx="1.25" ry=".62"/>
<ellipse cx="418.5" cy="49.3" rx="1.25" ry=".62"/>
<ellipse cx="422.1" cy="51.2" rx="1.25" ry=".62"/>
<ellipse cx="424.1" cy="55" rx="1.25" ry=".62"/>
<ellipse cx="423.3" cy="58.8" rx="1.25" ry=".62"/>
<ellipse cx="420.6" cy="62" rx="1.25" ry=".62"/>
<ellipse cx="416.7" cy="63.8" rx="1.25" ry=".62"/>
<ellipse cx="413.1" cy="62.7" rx="1.25" ry=".62"/>
<ellipse cx="410.8" cy="59.3" rx="1.25" ry=".62"/>
<ellipse cx="409.4" cy="55.5" rx="1.25" ry=".62"/>
<ellipse cx="411.2" cy="51.3" rx="1.25" ry=".62"/>
<ellipse cx="414.1" cy="49" rx="1.25" ry=".62"/>
<ellipse cx="406.9" cy="60.2" rx="1.25" ry=".62"/>
<ellipse cx="405.9" cy="56.2" rx="1.25" ry=".62"/>
<ellipse cx="406.4" cy="51.8" rx="1.25" ry=".62"/>
<ellipse cx="409.8" cy="48.8" rx="1.25" ry=".62"/>
<ellipse cx="413.4" cy="45.9" rx="1.25" ry=".62"/>
<ellipse cx="418.5" cy="45.1" rx="1.25" ry=".62"/>
<ellipse cx="421.7" cy="47.1" rx="1.25" ry=".62"/>
<ellipse cx="425.4" cy="50.7" rx="1.25" ry=".62"/>
<ellipse cx="427.8" cy="54.3" rx="1.25" ry=".62"/>
<ellipse cx="427.9" cy="58.7" rx="1.25" ry=".62"/>
<ellipse cx="425" cy="62.4" rx="1.25" ry=".62"/>
<ellipse cx="422" cy="66" rx="1.25" ry=".62"/>
<ellipse cx="417.7" cy="66.7" rx="1.25" ry=".62"/>
<ellipse cx="412.7" cy="66.2" rx="1.25" ry=".62"/>
<ellipse cx="409.6" cy="63.8" rx="1.25" ry=".62"/>
<ellipse cx="418.8" cy="70.8" rx="1.25" ry=".62"/>
<ellipse cx="414" cy="71.4" rx="1.25" ry=".62"/>
<ellipse cx="410.1" cy="68.5" rx="1.25" ry=".62"/>
<ellipse cx="407" cy="65.4" rx="1.25" ry=".62"/>
<ellipse cx="404.1" cy="62.2" rx="1.25" ry=".62"/>
<ellipse cx="402.8" cy="58.4" rx="1.25" ry=".62"/>
<ellipse cx="402.4" cy="53.9" rx="1.25" ry=".62"/>
<ellipse cx="403.6" cy="49.2" rx="1.25" ry=".62"/>
<ellipse cx="406.9" cy="46.2" rx="1.25" ry=".62"/>
<ellipse cx="410" cy="43.3" rx="1.25" ry=".62"/>
<ellipse cx="414.4" cy="42.6" rx="1.25" ry=".62"/>
<ellipse cx="419.1" cy="42.4" rx="1.25" ry=".62"/>
<ellipse cx="423.6" cy="43.3" rx="1.25" ry=".62"/>
<ellipse cx="427.4" cy="46" rx="1.25" ry=".62"/>
<ellipse cx="429.4" cy="49.6" rx="1.25" ry=".62"/>
<ellipse cx="431.4" cy="54.3" rx="1.25" ry=".62"/>
<ellipse cx="430.5" cy="58.5" rx="1.25" ry=".62"/>
<ellipse cx="429.4" cy="62.4" rx="1.25" ry=".62"/>
<ellipse cx="426.6" cy="66.1" rx="1.25" ry=".62"/>
<ellipse cx="422.9" cy="69.2" rx="1.25" ry=".62"/>
<ellipse cx="416.9" cy="74.4" rx="1.25" ry=".62"/>
<ellipse cx="412.6" cy="73.6" rx="1.25" ry=".62"/>
<ellipse cx="408.2" cy="71.2" rx="1.25" ry=".62"/>
<ellipse cx="404.7" cy="68.9" rx="1.25" ry=".62"/>
<ellipse cx="400.7" cy="65.7" rx="1.25" ry=".62"/>
<ellipse cx="399.7" cy="60.6" rx="1.25" ry=".62"/>
<ellipse cx="399.7" cy="56.8" rx="1.25" ry=".62"/>
<ellipse cx="399.1" cy="52" rx="1.25" ry=".62"/>
<ellipse cx="400.4" cy="47.5" rx="1.25" ry=".62"/>
<ellipse cx="404" cy="44.3" rx="1.25" ry=".62"/>
<ellipse cx="407.1" cy="40.5" rx="1.25" ry=".62"/>
<ellipse cx="411.8" cy="38.5" rx="1.25" ry=".62"/>
<ellipse cx="416.1" cy="38.4" rx="1.25" ry=".62"/>
<ellipse cx="421.2" cy="38.7" rx="1.25" ry=".62"/>
<ellipse cx="425.6" cy="40.5" rx="1.25" ry=".62"/>
<ellipse cx="429.4" cy="43.4" rx="1.25" ry=".62"/>
<ellipse cx="433" cy="47" rx="1.25" ry=".62"/>
<ellipse cx="434.5" cy="51.3" rx="1.25" ry=".62"/>
<ellipse cx="434" cy="56.1" rx="1.25" ry=".62"/>
<ellipse cx="433.9" cy="60.6" rx="1.25" ry=".62"/>
<ellipse cx="432.4" cy="64.8" rx="1.25" ry=".62"/>
<ellipse cx="429.5" cy="68.9" rx="1.25" ry=".62"/>
<ellipse cx="425.6" cy="71.4" rx="1.25" ry=".62"/>
<ellipse cx="421.7" cy="73.6" rx="1.25" ry=".62"/>
<ellipse cx="419.4" cy="34.5" rx="1.25" ry=".62"/>
<ellipse cx="424.8" cy="36.2" rx="1.25" ry=".62"/>
<ellipse cx="430.1" cy="39.1" rx="1.25" ry=".62"/>
<ellipse cx="434.3" cy="43" rx="1.25" ry=".62"/>
<ellipse cx="436.2" cy="48.6" rx="1.25" ry=".62"/>
<ellipse cx="438.7" cy="54.4" rx="1.25" ry=".62"/>
<ellipse cx="439" cy="60" rx="1.25" ry=".62"/>
<ellipse cx="436" cy="65.1" rx="1.25" ry=".62"/>
<ellipse cx="433.2" cy="70.6" rx="1.25" ry=".62"/>
<ellipse cx="429" cy="74.6" rx="1.25" ry=".62"/>
<ellipse cx="422.8" cy="76.9" rx="1.25" ry=".62"/>
<ellipse cx="417.5" cy="77.8" rx="1.25" ry=".62"/>
<ellipse cx="411" cy="77.4" rx="1.25" ry=".62"/>
<ellipse cx="406.2" cy="74.6" rx="1.25" ry=".62"/>
<ellipse cx="400.9" cy="72.1" rx="1.25" ry=".62"/>
<ellipse cx="397.4" cy="67.2" rx="1.25" ry=".62"/>
<ellipse cx="395.7" cy="61.1" rx="1.25" ry=".62"/>
<ellipse cx="395.2" cy="55.4" rx="1.25" ry=".62"/>
<ellipse cx="397" cy="49.6" rx="1.25" ry=".62"/>
<ellipse cx="399.1" cy="44.4" rx="1.25" ry=".62"/>
<ellipse cx="402.2" cy="39.1" rx="1.25" ry=".62"/>
<ellipse cx="407.5" cy="36.3" rx="1.25" ry=".62"/>
<ellipse cx="412.9" cy="34.4" rx="1.25" ry=".62"/>
</g>
<g fill="#E8A322">
<ellipse cx="416.7" cy="56.2" rx="4.6" ry="3.9"/>
</g>
<g fill="#8D8D96" stroke="#D7D7DD" stroke-width="1.1" paint-order="stroke">
<ellipse cx="479.3" cy="51.9" rx="1.25" ry=".62"/>
<ellipse cx="476.9" cy="53.5" rx="1.25" ry=".62"/>
<ellipse cx="473.1" cy="52.1" rx="1.25" ry=".62"/>
<ellipse cx="473.4" cy="47.8" rx="1.25" ry=".62"/>
<ellipse cx="475.2" cy="44.3" rx="1.25" ry=".62"/>
<ellipse cx="478.7" cy="45" rx="1.25" ry=".62"/>
<ellipse cx="480.5" cy="48.4" rx="1.25" ry=".62"/>
<ellipse cx="480.2" cy="55.8" rx="1.25" ry=".62"/>
<ellipse cx="476.9" cy="56.6" rx="1.25" ry=".62"/>
<ellipse cx="472.9" cy="56.4" rx="1.25" ry=".62"/>
<ellipse cx="470.2" cy="52.9" rx="1.25" ry=".62"/>
<ellipse cx="470" cy="47.7" rx="1.25" ry=".62"/>
<ellipse cx="471.5" cy="44.3" rx="1.25" ry=".62"/>
<ellipse cx="475.3" cy="42.1" rx="1.25" ry=".62"/>
<ellipse cx="478.8" cy="42.2" rx="1.25" ry=".62"/>
<ellipse cx="482.1" cy="44.2" rx="1.25" ry=".62"/>
<ellipse cx="483.6" cy="48.2" rx="1.25" ry=".62"/>
<ellipse cx="483.7" cy="52.6" rx="1.25" ry=".62"/>
<ellipse cx="472.6" cy="60" rx="1.25" ry=".62"/>
<ellipse cx="469.5" cy="57.4" rx="1.25" ry=".62"/>
<ellipse cx="467.5" cy="53.1" rx="1.25" ry=".62"/>
<ellipse cx="466.7" cy="48.6" rx="1.25" ry=".62"/>
<ellipse cx="467.8" cy="44" rx="1.25" ry=".62"/>
<ellipse cx="470.3" cy="40.5" rx="1.25" ry=".62"/>
<ellipse cx="474" cy="38.9" rx="1.25" ry=".62"/>
<ellipse cx="478.3" cy="37.5" rx="1.25" ry=".62"/>
<ellipse cx="482.3" cy="39.3" rx="1.25" ry=".62"/>
<ellipse cx="485.3" cy="43.5" rx="1.25" ry=".62"/>
<ellipse cx="487" cy="47.5" rx="1.25" ry=".62"/>
<ellipse cx="486.4" cy="51.9" rx="1.25" ry=".62"/>
<ellipse cx="484.8" cy="56.6" rx="1.25" ry=".62"/>
<ellipse cx="481.1" cy="58.9" rx="1.25" ry=".62"/>
<ellipse cx="477.6" cy="61.4" rx="1.25" ry=".62"/>
<ellipse cx="463.4" cy="45" rx="1.25" ry=".62"/>
<ellipse cx="465.9" cy="41.1" rx="1.25" ry=".62"/>
<ellipse cx="467.8" cy="37.1" rx="1.25" ry=".62"/>
<ellipse cx="472.5" cy="35.8" rx="1.25" ry=".62"/>
<ellipse cx="476.6" cy="34.7" rx="1.25" ry=".62"/>
<ellipse cx="480.4" cy="34.8" rx="1.25" ry=".62"/>
<ellipse cx="483.7" cy="37.8" rx="1.25" ry=".62"/>
<ellipse cx="488" cy="40.1" rx="1.25" ry=".62"/>
<ellipse cx="489.9" cy="43.8" rx="1.25" ry=".62"/>
<ellipse cx="490.5" cy="48.6" rx="1.25" ry=".62"/>
<ellipse cx="490" cy="53.5" rx="1.25" ry=".62"/>
<ellipse cx="487.8" cy="57.2" rx="1.25" ry=".62"/>
<ellipse cx="484.9" cy="60.7" rx="1.25" ry=".62"/>
<ellipse cx="481.3" cy="63.4" rx="1.25" ry=".62"/>
<ellipse cx="477.4" cy="65" rx="1.25" ry=".62"/>
<ellipse cx="473.3" cy="63.8" rx="1.25" ry=".62"/>
<ellipse cx="469.4" cy="61" rx="1.25" ry=".62"/>
<ellipse cx="465.8" cy="58.4" rx="1.25" ry=".62"/>
<ellipse cx="463.9" cy="54.4" rx="1.25" ry=".62"/>
<ellipse cx="462.5" cy="49.9" rx="1.25" ry=".62"/>
<ellipse cx="492.5" cy="41.1" rx="1.25" ry=".62"/>
<ellipse cx="493.4" cy="45.6" rx="1.25" ry=".62"/>
<ellipse cx="494.4" cy="50.4" rx="1.25" ry=".62"/>
<ellipse cx="493.5" cy="55.7" rx="1.25" ry=".62"/>
<ellipse cx="491" cy="59.3" rx="1.25" ry=".62"/>
<ellipse cx="487.9" cy="63.2" rx="1.25" ry=".62"/>
<ellipse cx="483.8" cy="65.5" rx="1.25" ry=".62"/>
<ellipse cx="479.9" cy="67.1" rx="1.25" ry=".62"/>
<ellipse cx="475.8" cy="67.4" rx="1.25" ry=".62"/>
<ellipse cx="471.4" cy="66.9" rx="1.25" ry=".62"/>
<ellipse cx="467.2" cy="64.7" rx="1.25" ry=".62"/>
<ellipse cx="463.5" cy="61.3" rx="1.25" ry=".62"/>
<ellipse cx="461" cy="57" rx="1.25" ry=".62"/>
<ellipse cx="459.2" cy="52.9" rx="1.25" ry=".62"/>
<ellipse cx="459.6" cy="47.3" rx="1.25" ry=".62"/>
<ellipse cx="460.9" cy="42.7" rx="1.25" ry=".62"/>
<ellipse cx="463.1" cy="39.3" rx="1.25" ry=".62"/>
<ellipse cx="465.3" cy="34.5" rx="1.25" ry=".62"/>
<ellipse cx="469.5" cy="32" rx="1.25" ry=".62"/>
<ellipse cx="474" cy="30.8" rx="1.25" ry=".62"/>
<ellipse cx="478" cy="31.4" rx="1.25" ry=".62"/>
<ellipse cx="482.1" cy="32.4" rx="1.25" ry=".62"/>
<ellipse cx="486.6" cy="33.2" rx="1.25" ry=".62"/>
<ellipse cx="490.7" cy="37.1" rx="1.25" ry=".62"/>
<ellipse cx="458.4" cy="40.4" rx="1.25" ry=".62"/>
<ellipse cx="460.5" cy="34.5" rx="1.25" ry=".62"/>
<ellipse cx="464.4" cy="30" rx="1.25" ry=".62"/>
<ellipse cx="470.1" cy="27.7" rx="1.25" ry=".62"/>
<ellipse cx="475.3" cy="26.3" rx="1.25" ry=".62"/>
<ellipse cx="481.1" cy="26.1" rx="1.25" ry=".62"/>
<ellipse cx="486.7" cy="29.4" rx="1.25" ry=".62"/>
<ellipse cx="491.4" cy="32.9" rx="1.25" ry=".62"/>
<ellipse cx="494.5" cy="37.7" rx="1.25" ry=".62"/>
<ellipse cx="496.4" cy="43.2" rx="1.25" ry=".62"/>
<ellipse cx="498.1" cy="49.2" rx="1.25" ry=".62"/>
<ellipse cx="496.6" cy="55.5" rx="1.25" ry=".62"/>
<ellipse cx="495.2" cy="61" rx="1.25" ry=".62"/>
<ellipse cx="490.8" cy="65.4" rx="1.25" ry=".62"/>
<ellipse cx="486.3" cy="69.4" rx="1.25" ry=".62"/>
<ellipse cx="480.6" cy="71" rx="1.25" ry=".62"/>
<ellipse cx="475.3" cy="72" rx="1.25" ry=".62"/>
<ellipse cx="469.9" cy="70" rx="1.25" ry=".62"/>
<ellipse cx="464.6" cy="67.1" rx="1.25" ry=".62"/>
<ellipse cx="460.4" cy="63.5" rx="1.25" ry=".62"/>
<ellipse cx="457.2" cy="58.3" rx="1.25" ry=".62"/>
<ellipse cx="456.6" cy="51.9" rx="1.25" ry=".62"/>
<ellipse cx="456.2" cy="46.2" rx="1.25" ry=".62"/>
</g>
<g fill="#E8A322">
<ellipse cx="476.8" cy="49.2" rx="4.6" ry="3.9"/>
</g>
<g fill="#8D8D96" stroke="#D7D7DD" stroke-width="1.1" paint-order="stroke">
<ellipse cx="454.7" cy="97.9" rx="1.25" ry=".62"/>
<ellipse cx="457.5" cy="94.9" rx="1.25" ry=".62"/>
<ellipse cx="461.2" cy="95.5" rx="1.25" ry=".62"/>
<ellipse cx="463.2" cy="99.7" rx="1.25" ry=".62"/>
<ellipse cx="460.5" cy="102.8" rx="1.25" ry=".62"/>
<ellipse cx="456.1" cy="101.3" rx="1.25" ry=".62"/>
<ellipse cx="463.6" cy="93.8" rx="1.25" ry=".62"/>
<ellipse cx="466.3" cy="96.9" rx="1.25" ry=".62"/>
<ellipse cx="466.2" cy="101.2" rx="1.25" ry=".62"/>
<ellipse cx="463.3" cy="104.9" rx="1.25" ry=".62"/>
<ellipse cx="459.8" cy="105.5" rx="1.25" ry=".62"/>
<ellipse cx="455.5" cy="105" rx="1.25" ry=".62"/>
<ellipse cx="452.4" cy="102.6" rx="1.25" ry=".62"/>
<ellipse cx="452.3" cy="98.2" rx="1.25" ry=".62"/>
<ellipse cx="452.8" cy="94.1" rx="1.25" ry=".62"/>
<ellipse cx="456.2" cy="91.8" rx="1.25" ry=".62"/>
<ellipse cx="460.3" cy="91.7" rx="1.25" ry=".62"/>
<ellipse cx="469.2" cy="101.6" rx="1.25" ry=".62"/>
<ellipse cx="467.3" cy="105.9" rx="1.25" ry=".62"/>
<ellipse cx="463.9" cy="108.1" rx="1.25" ry=".62"/>
<ellipse cx="460" cy="108.7" rx="1.25" ry=".62"/>
<ellipse cx="456" cy="108.6" rx="1.25" ry=".62"/>
<ellipse cx="452.1" cy="107" rx="1.25" ry=".62"/>
<ellipse cx="449.2" cy="103.6" rx="1.25" ry=".62"/>
<ellipse cx="449" cy="99.2" rx="1.25" ry=".62"/>
<ellipse cx="449.3" cy="95.5" rx="1.25" ry=".62"/>
<ellipse cx="451.2" cy="91.8" rx="1.25" ry=".62"/>
<ellipse cx="453.7" cy="89.2" rx="1.25" ry=".62"/>
<ellipse cx="457.9" cy="87.9" rx="1.25" ry=".62"/>
<ellipse cx="462" cy="88.6" rx="1.25" ry=".62"/>
<ellipse cx="465.6" cy="90.4" rx="1.25" ry=".62"/>
<ellipse cx="468.8" cy="93.5" rx="1.25" ry=".62"/>
<ellipse cx="469.3" cy="97.8" rx="1.25" ry=".62"/>
<ellipse cx="467.5" cy="109" rx="1.25" ry=".62"/>
<ellipse cx="464" cy="111.3" rx="1.25" ry=".62"/>
<ellipse cx="460.3" cy="112.6" rx="1.25" ry=".62"/>
<ellipse cx="456" cy="112" rx="1.25" ry=".62"/>
<ellipse cx="452" cy="110.6" rx="1.25" ry=".62"/>
<ellipse cx="448.7" cy="107.5" rx="1.25" ry=".62"/>
<ellipse cx="446.1" cy="104.9" rx="1.25" ry=".62"/>
<ellipse cx="444.5" cy="101.1" rx="1.25" ry=".62"/>
<ellipse cx="444.8" cy="96.4" rx="1.25" ry=".62"/>
<ellipse cx="446.5" cy="92.3" rx="1.25" ry=".62"/>
<ellipse cx="448.7" cy="89.3" rx="1.25" ry=".62"/>
<ellipse cx="451.9" cy="86.9" rx="1.25" ry=".62"/>
<ellipse cx="455.8" cy="84.8" rx="1.25" ry=".62"/>
<ellipse cx="460.2" cy="85.1" rx="1.25" ry=".62"/>
<ellipse cx="464.2" cy="85.7" rx="1.25" ry=".62"/>
<ellipse cx="467.4" cy="87.8" rx="1.25" ry=".62"/>
<ellipse cx="470.5" cy="90.6" rx="1.25" ry=".62"/>
<ellipse cx="472.7" cy="94.7" rx="1.25" ry=".62"/>
<ellipse cx="473.3" cy="98.8" rx="1.25" ry=".62"/>
<ellipse cx="472.8" cy="102.8" rx="1.25" ry=".62"/>
<ellipse cx="470.7" cy="106.6" rx="1.25" ry=".62"/>
<ellipse cx="474.5" cy="92.5" rx="1.25" ry=".62"/>
<ellipse cx="465.3" cy="114.5" rx="1.25" ry=".62"/>
<ellipse cx="443.4" cy="104.7" rx="1.25" ry=".62"/>
<ellipse cx="453" cy="82.7" rx="1.25" ry=".62"/>
</g>
<g fill="#E8A322">
<ellipse cx="459" cy="98.6" rx="3.8" ry="3.1"/>
</g>
<g fill="#8D8D96" stroke="#D7D7DD" stroke-width="1.1" paint-order="stroke">
<ellipse cx="430.5" cy="105" rx="1.25" ry=".62"/>
<ellipse cx="426.8" cy="104.8" rx="1.25" ry=".62"/>
<ellipse cx="428.8" cy="102.6" rx="1.25" ry=".62"/>
<ellipse cx="432.3" cy="100.5" rx="1.25" ry=".62"/>
<ellipse cx="434.5" cy="103.5" rx="1.25" ry=".62"/>
<ellipse cx="431.7" cy="107.5" rx="1.25" ry=".62"/>
<ellipse cx="428.4" cy="109.7" rx="1.25" ry=".62"/>
<ellipse cx="424.7" cy="108.2" rx="1.25" ry=".62"/>
<ellipse cx="423.2" cy="103.8" rx="1.25" ry=".62"/>
<ellipse cx="424.2" cy="100.1" rx="1.25" ry=".62"/>
<ellipse cx="436.3" cy="98.7" rx="1.25" ry=".62"/>
<ellipse cx="437.3" cy="103.4" rx="1.25" ry=".62"/>
<ellipse cx="436.5" cy="106.9" rx="1.25" ry=".62"/>
<ellipse cx="433.5" cy="110.1" rx="1.25" ry=".62"/>
<ellipse cx="430.1" cy="111.6" rx="1.25" ry=".62"/>
<ellipse cx="426.6" cy="112.1" rx="1.25" ry=".62"/>
<ellipse cx="423.2" cy="110.2" rx="1.25" ry=".62"/>
<ellipse cx="420.8" cy="106.5" rx="1.25" ry=".62"/>
<ellipse cx="419.8" cy="103" rx="1.25" ry=".62"/>
<ellipse cx="421.8" cy="99.6" rx="1.25" ry=".62"/>
<ellipse cx="424.6" cy="97.1" rx="1.25" ry=".62"/>
<ellipse cx="428.3" cy="94.6" rx="1.25" ry=".62"/>
<ellipse cx="432.7" cy="96.6" rx="1.25" ry=".62"/>
<ellipse cx="422.3" cy="94.7" rx="1.25" ry=".62"/>
<ellipse cx="425.8" cy="91.8" rx="1.25" ry=".62"/>
<ellipse cx="430.4" cy="92.5" rx="1.25" ry=".62"/>
<ellipse cx="434" cy="94.4" rx="1.25" ry=".62"/>
<ellipse cx="438.4" cy="96.7" rx="1.25" ry=".62"/>
<ellipse cx="439.4" cy="100.7" rx="1.25" ry=".62"/>
<ellipse cx="440.8" cy="105.1" rx="1.25" ry=".62"/>
<ellipse cx="440" cy="109.1" rx="1.25" ry=".62"/>
<ellipse cx="436.1" cy="112.6" rx="1.25" ry=".62"/>
<ellipse cx="432.9" cy="114.5" rx="1.25" ry=".62"/>
<ellipse cx="429" cy="114.8" rx="1.25" ry=".62"/>
<ellipse cx="424.5" cy="114.4" rx="1.25" ry=".62"/>
<ellipse cx="420.6" cy="112.8" rx="1.25" ry=".62"/>
<ellipse cx="417.5" cy="109.5" rx="1.25" ry=".62"/>
<ellipse cx="417.2" cy="105.1" rx="1.25" ry=".62"/>
<ellipse cx="417.2" cy="101.3" rx="1.25" ry=".62"/>
<ellipse cx="419.1" cy="96.9" rx="1.25" ry=".62"/>
<ellipse cx="427.1" cy="88.8" rx="1.25" ry=".62"/>
<ellipse cx="437.5" cy="91.7" rx="1.25" ry=".62"/>
<ellipse cx="443.6" cy="100.2" rx="1.25" ry=".62"/>
<ellipse cx="441.8" cy="110.6" rx="1.25" ry=".62"/>
</g>
<g fill="#E8A322">
<ellipse cx="429.3" cy="98.2" rx="3.2" ry="2.6"/>
</g>
<g fill="#8D8D96" stroke="#D7D7DD" stroke-width="1.1" paint-order="stroke">
<ellipse cx="490.1" cy="100.7" rx="1.25" ry=".62"/>
<ellipse cx="494.1" cy="99.5" rx="1.25" ry=".62"/>
<ellipse cx="492.6" cy="102.2" rx="1.25" ry=".62"/>
<ellipse cx="489" cy="104.6" rx="1.25" ry=".62"/>
<ellipse cx="485.8" cy="102.6" rx="1.25" ry=".62"/>
<ellipse cx="484.3" cy="98.7" rx="1.25" ry=".62"/>
<ellipse cx="486" cy="94.9" rx="1.25" ry=".62"/>
<ellipse cx="489.3" cy="94.3" rx="1.25" ry=".62"/>
<ellipse cx="493.6" cy="95.9" rx="1.25" ry=".62"/>
<ellipse cx="493.2" cy="91.7" rx="1.25" ry=".62"/>
<ellipse cx="495.4" cy="94.5" rx="1.25" ry=".62"/>
<ellipse cx="498.4" cy="97.5" rx="1.25" ry=".62"/>
<ellipse cx="497.3" cy="101.1" rx="1.25" ry=".62"/>
<ellipse cx="495.8" cy="105.2" rx="1.25" ry=".62"/>
<ellipse cx="492.4" cy="107.4" rx="1.25" ry=".62"/>
<ellipse cx="488.3" cy="106.9" rx="1.25" ry=".62"/>
<ellipse cx="484.3" cy="105.1" rx="1.25" ry=".62"/>
<ellipse cx="481.5" cy="102.8" rx="1.25" ry=".62"/>
<ellipse cx="480.6" cy="98.1" rx="1.25" ry=".62"/>
<ellipse cx="482.8" cy="94.6" rx="1.25" ry=".62"/>
<ellipse cx="485.3" cy="92.3" rx="1.25" ry=".62"/>
<ellipse cx="488.9" cy="91.1" rx="1.25" ry=".62"/>
<ellipse cx="489.5" cy="87.1" rx="1.25" ry=".62"/>
<ellipse cx="493.2" cy="87.9" rx="1.25" ry=".62"/>
<ellipse cx="496.9" cy="90.2" rx="1.25" ry=".62"/>
<ellipse cx="500" cy="93.5" rx="1.25" ry=".62"/>
<ellipse cx="501.7" cy="97.7" rx="1.25" ry=".62"/>
<ellipse cx="501.3" cy="101.8" rx="1.25" ry=".62"/>
<ellipse cx="499.2" cy="105.9" rx="1.25" ry=".62"/>
<ellipse cx="496" cy="109.4" rx="1.25" ry=".62"/>
<ellipse cx="491.9" cy="110.4" rx="1.25" ry=".62"/>
<ellipse cx="487.9" cy="111.4" rx="1.25" ry=".62"/>
<ellipse cx="483.7" cy="109.3" rx="1.25" ry=".62"/>
<ellipse cx="481" cy="106.2" rx="1.25" ry=".62"/>
<ellipse cx="478.7" cy="102.7" rx="1.25" ry=".62"/>
<ellipse cx="476.9" cy="98.2" rx="1.25" ry=".62"/>
<ellipse cx="479" cy="94.4" rx="1.25" ry=".62"/>
<ellipse cx="481.1" cy="90.4" rx="1.25" ry=".62"/>
<ellipse cx="484.8" cy="87.7" rx="1.25" ry=".62"/>
<ellipse cx="502.1" cy="106.8" rx="1.25" ry=".62"/>
<ellipse cx="494.1" cy="113.8" rx="1.25" ry=".62"/>
<ellipse cx="483.9" cy="112.3" rx="1.25" ry=".62"/>
<ellipse cx="475.6" cy="106.2" rx="1.25" ry=".62"/>
<ellipse cx="474.8" cy="95.9" rx="1.25" ry=".62"/>
</g>
<g fill="#E8A322">
<ellipse cx="488.8" cy="96.9" rx="3.2" ry="2.6"/>
</g>
<g fill="#8D8D96" stroke="#D7D7DD" stroke-width="1.1" paint-order="stroke">
<ellipse cx="446" cy="53.4" rx="1.25" ry=".62"/>
<ellipse cx="454.4" cy="51.5" rx="1.25" ry=".62"/>
<ellipse cx="447" cy="53.6" rx="1.25" ry=".62"/>
<ellipse cx="441.1" cy="53.5" rx="1.25" ry=".62"/>
<ellipse cx="449.4" cy="55.3" rx="1.25" ry=".62"/>
<ellipse cx="439.2" cy="51.6" rx="1.25" ry=".62"/>
<ellipse cx="430.5" cy="74.4" rx="1.25" ry=".62"/>
<ellipse cx="443.5" cy="76.6" rx="1.25" ry=".62"/>
<ellipse cx="440.7" cy="86.8" rx="1.25" ry=".62"/>
<ellipse cx="439" cy="80.2" rx="1.25" ry=".62"/>
<ellipse cx="436.9" cy="69.6" rx="1.25" ry=".62"/>
<ellipse cx="441.3" cy="74.7" rx="1.25" ry=".62"/>
<ellipse cx="472" cy="70.2" rx="1.25" ry=".62"/>
<ellipse cx="470.7" cy="67.1" rx="1.25" ry=".62"/>
<ellipse cx="465" cy="71.9" rx="1.25" ry=".62"/>
<ellipse cx="466.5" cy="73.7" rx="1.25" ry=".62"/>
<ellipse cx="466.4" cy="73.3" rx="1.25" ry=".62"/>
<ellipse cx="470.2" cy="74" rx="1.25" ry=".62"/>
<ellipse cx="460.6" cy="79.6" rx="1.25" ry=".62"/>
<ellipse cx="464.1" cy="78.2" rx="1.25" ry=".62"/>
<ellipse cx="484.8" cy="69.7" rx="1.25" ry=".62"/>
<ellipse cx="486.2" cy="69" rx="1.25" ry=".62"/>
<ellipse cx="484.7" cy="76.6" rx="1.25" ry=".62"/>
<ellipse cx="485.1" cy="77.7" rx="1.25" ry=".62"/>
<ellipse cx="481.1" cy="80.5" rx="1.25" ry=".62"/>
<ellipse cx="448.6" cy="101.4" rx="1.25" ry=".62"/>
<ellipse cx="440.5" cy="98.7" rx="1.25" ry=".62"/>
<ellipse cx="439.9" cy="99.4" rx="1.25" ry=".62"/>
<ellipse cx="470.2" cy="99.3" rx="1.25" ry=".62"/>
<ellipse cx="476.3" cy="95.3" rx="1.25" ry=".62"/>
<ellipse cx="470.1" cy="96.3" rx="1.25" ry=".62"/>
<ellipse cx="422.3" cy="83.8" rx="1.25" ry=".62"/>
<ellipse cx="424" cy="71.7" rx="1.25" ry=".62"/>
<ellipse cx="425.7" cy="70.9" rx="1.25" ry=".62"/>
<ellipse cx="427.2" cy="80" rx="1.25" ry=".62"/>
<ellipse cx="423.7" cy="77.8" rx="1.25" ry=".62"/>
<ellipse cx="455.8" cy="67.5" rx="1.25" ry=".62"/>
<ellipse cx="457.3" cy="67.3" rx="1.25" ry=".62"/>
<ellipse cx="444.8" cy="71.2" rx="1.25" ry=".62"/>
<ellipse cx="447.7" cy="71" rx="1.25" ry=".62"/>
</g>
<g fill="#D3961D" stroke="#F5D27A" stroke-width="0.9" paint-order="stroke">
<ellipse cx="195.5" cy="104.2" rx="1.45" ry="1.2"/>
<ellipse cx="183.5" cy="105" rx="1.45" ry="1.2"/>
<ellipse cx="181.8" cy="100.5" rx="1.45" ry="1.2"/>
<ellipse cx="179.8" cy="105.9" rx="1.45" ry="1.2"/>
<ellipse cx="191.9" cy="100" rx="1.45" ry="1.2"/>
<ellipse cx="188.3" cy="104.8" rx="1.45" ry="1.2"/>
<ellipse cx="185.6" cy="97.9" rx="1.45" ry="1.2"/>
<ellipse cx="178.3" cy="99.4" rx="1.45" ry="1.2"/>
<ellipse cx="195.1" cy="97.8" rx="1.45" ry="1.2"/>
<ellipse cx="202" cy="105.4" rx="1.45" ry="1.2"/>
<ellipse cx="209.5" cy="105.3" rx="1.45" ry="1.2"/>
<ellipse cx="213.2" cy="105.8" rx="1.45" ry="1.2"/>
<ellipse cx="213.2" cy="110.6" rx="1.45" ry="1.2"/>
<ellipse cx="201.7" cy="109.9" rx="1.45" ry="1.2"/>
<ellipse cx="208.3" cy="100.8" rx="1.45" ry="1.2"/>
<ellipse cx="214.7" cy="99.8" rx="1.45" ry="1.2"/>
<ellipse cx="201.5" cy="101.2" rx="1.45" ry="1.2"/>
<ellipse cx="205.3" cy="107.6" rx="1.45" ry="1.2"/>
<ellipse cx="204.8" cy="99.4" rx="1.45" ry="1.2"/>
<ellipse cx="207.4" cy="111.1" rx="1.45" ry="1.2"/>
<ellipse cx="198.7" cy="98.9" rx="1.45" ry="1.2"/>
<ellipse cx="246" cy="80.8" rx="1.45" ry="1.2"/>
<ellipse cx="253.7" cy="75.6" rx="1.45" ry="1.2"/>
<ellipse cx="241.9" cy="84.8" rx="1.45" ry="1.2"/>
<ellipse cx="252.1" cy="84.1" rx="1.45" ry="1.2"/>
<ellipse cx="256.4" cy="87.4" rx="1.45" ry="1.2"/>
<ellipse cx="237.6" cy="97.9" rx="1.45" ry="1.2"/>
<ellipse cx="253.8" cy="106" rx="1.45" ry="1.2"/>
<ellipse cx="252.9" cy="99.4" rx="1.45" ry="1.2"/>
<ellipse cx="258.6" cy="110.6" rx="1.45" ry="1.2"/>
<ellipse cx="255.8" cy="121.8" rx="1.45" ry="1.2"/>
<ellipse cx="249.9" cy="113.9" rx="1.45" ry="1.2"/>
<ellipse cx="218.4" cy="138.3" rx="1.45" ry="1.2"/>
<ellipse cx="214" cy="126.1" rx="1.45" ry="1.2"/>
<ellipse cx="209.4" cy="137.3" rx="1.45" ry="1.2"/>
<ellipse cx="209.1" cy="119.8" rx="1.45" ry="1.2"/>
<ellipse cx="243.9" cy="144.8" rx="1.45" ry="1.2"/>
<ellipse cx="246.9" cy="140.8" rx="1.45" ry="1.2"/>
<ellipse cx="239" cy="146.6" rx="1.45" ry="1.2"/>
</g>
<g fill="#E2A11F">
<ellipse cx="214" cy="37" rx="1.8" ry="1.4"/>
<ellipse cx="125" cy="51.6" rx="1.8" ry="1.4"/>
<ellipse cx="162" cy="71.5" rx="1.8" ry="1.4"/>
<ellipse cx="154" cy="90" rx="1.8" ry="1.4"/>
<ellipse cx="152" cy="98.3" rx="1.8" ry="1.4"/>
<ellipse cx="161.2" cy="85" rx="1.8" ry="1.4"/>
<ellipse cx="143" cy="109" rx="1.8" ry="1.4"/>
<ellipse cx="302.8" cy="34.2" rx="1.8" ry="1.4"/>
<ellipse cx="307.1" cy="41.7" rx="1.8" ry="1.4"/>
<ellipse cx="319.9" cy="52.4" rx="1.8" ry="1.4"/>
<ellipse cx="319.3" cy="78" rx="1.8" ry="1.4"/>
<ellipse cx="308.7" cy="116.4" rx="1.8" ry="1.4"/>
<ellipse cx="312" cy="110.4" rx="1.8" ry="1.4"/>
<ellipse cx="317.8" cy="92.4" rx="1.8" ry="1.4"/>
<ellipse cx="317.8" cy="92.4" rx="1.8" ry="1.4"/>
</g>
<g fill="#7FA6C6">
<ellipse cx="149" cy="38.4" rx="3.5" ry="1.45"/>
<ellipse cx="169.5" cy="87.6" rx="3.5" ry="1.45"/>
</g>
<g fill="#E2A11F">
<ellipse cx="310.1" cy="144.9" rx="1.6" ry="1.25"/>
<ellipse cx="316.4" cy="147.7" rx="1.6" ry="1.25"/>
<ellipse cx="304.8" cy="151.3" rx="1.6" ry="1.25"/>
<ellipse cx="311.2" cy="150.2" rx="1.6" ry="1.25"/>
<ellipse cx="318.6" cy="153.4" rx="1.6" ry="1.25"/>
<ellipse cx="305.9" cy="155.5" rx="1.6" ry="1.25"/>
<ellipse cx="313.3" cy="155.5" rx="1.6" ry="1.25"/>
<ellipse cx="310.1" cy="159.7" rx="1.6" ry="1.25"/>
<ellipse cx="310.5" cy="164.6" rx="1.6" ry="1.25"/>
<ellipse cx="322.5" cy="150" rx="1.6" ry="1.25"/>
<ellipse cx="300.5" cy="148" rx="1.6" ry="1.25"/>
<ellipse cx="318" cy="158.5" rx="1.6" ry="1.25"/>
<ellipse cx="177.5" cy="154.7" rx="1.9" ry="1.5"/>
<ellipse cx="498.4" cy="25" rx="1.9" ry="1.5"/>
<ellipse cx="509.6" cy="39" rx="1.9" ry="1.5"/>
<ellipse cx="498" cy="71.8" rx="1.9" ry="1.5"/>
<ellipse cx="461" cy="70.9" rx="1.9" ry="1.5"/>
<ellipse cx="446.5" cy="71.7" rx="1.9" ry="1.5"/>
<ellipse cx="430.4" cy="115.8" rx="1.9" ry="1.5"/>
<ellipse cx="471.4" cy="132.2" rx="1.9" ry="1.5"/>
<ellipse cx="417.5" cy="142.6" rx="1.9" ry="1.5"/>
</g>
<g fill="#9FA7BE">
<ellipse cx="507" cy="76" rx="1.7" ry="1"/>
</g>
<g fill="#C9911C" stroke="#F6D98C" stroke-width="0.8" paint-order="stroke">
<ellipse cx="58.5" cy="37" rx="1.12" ry=".95"/>
<ellipse cx="50.4" cy="45.1" rx="1.12" ry=".95"/>
<ellipse cx="67" cy="46.1" rx="1.12" ry=".95"/>
<ellipse cx="53.1" cy="56.9" rx="1.12" ry=".95"/>
<ellipse cx="64.6" cy="56.3" rx="1.12" ry=".95"/>
</g>
<g fill="#6A9FD4">
<ellipse cx="59.2" cy="48.8" rx="3.2" ry="1.3"/>
</g>
<g fill="#C9911C" stroke="#F6D98C" stroke-width="0.8" paint-order="stroke">
<ellipse cx="76.9" cy="37.9" rx="1.12" ry=".95"/>
<ellipse cx="87.5" cy="37.2" rx="1.12" ry=".95"/>
<ellipse cx="92.1" cy="50.1" rx="1.12" ry=".95"/>
<ellipse cx="83.9" cy="57.2" rx="1.12" ry=".95"/>
<ellipse cx="74.8" cy="51.1" rx="1.12" ry=".95"/>
</g>
<g fill="#6A9FD4">
<ellipse cx="83.4" cy="47.4" rx="3.2" ry="1.3"/>
</g>
<g fill="#C9911C" stroke="#F6D98C" stroke-width="0.8" paint-order="stroke">
<ellipse cx="69.4" cy="83.2" rx="1.12" ry=".95"/>
<ellipse cx="76.2" cy="88.5" rx="1.12" ry=".95"/>
</g>
<g fill="#6A9FD4">
<ellipse cx="81.6" cy="80.4" rx="3.2" ry="1.3"/>
</g>
<g fill="#E2A11F">
<ellipse cx="72.4" cy="73.5" rx="1.6" ry="1.3"/>
<ellipse cx="89.1" cy="78" rx="1.6" ry="1.3"/>
</g>
<g fill="#C9911C" stroke="#F6D98C" stroke-width="0.8" paint-order="stroke">
<ellipse cx="46.6" cy="79.1" rx="1.12" ry=".95"/>
<ellipse cx="61.3" cy="89" rx="1.12" ry=".95"/>
<ellipse cx="51.5" cy="97.4" rx="1.12" ry=".95"/>
</g>
<g fill="#6A9FD4">
<ellipse cx="53" cy="88.5" rx="2.4" ry="1.5"/>
</g>
<g fill="#C9911C" stroke="#F6D98C" stroke-width="0.8" paint-order="stroke">
<ellipse cx="65" cy="100.5" rx="1.12" ry=".95"/>
<ellipse cx="64.3" cy="118.2" rx="1.12" ry=".95"/>
</g>
<g fill="#6A9FD4">
<ellipse cx="64.7" cy="109.4" rx="1.9" ry="1.2"/>
</g>
<g fill="#C9911C" stroke="#F6D98C" stroke-width="0.8" paint-order="stroke">
<ellipse cx="76.7" cy="100.5" rx="1.12" ry=".95"/>
<ellipse cx="72.8" cy="118.2" rx="1.12" ry=".95"/>
</g>
<g fill="#6A9FD4">
<ellipse cx="74.7" cy="109.4" rx="1.9" ry="1.2"/>
</g>
<g fill="#C9911C" stroke="#F6D98C" stroke-width="0.8" paint-order="stroke">
<ellipse cx="85.5" cy="100.5" rx="1.12" ry=".95"/>
<ellipse cx="84.9" cy="118.2" rx="1.12" ry=".95"/>
</g>
<g fill="#6A9FD4">
<ellipse cx="85.2" cy="109.4" rx="1.9" ry="1.2"/>
</g>
<g fill="#C9911C" stroke="#F6D98C" stroke-width="0.8" paint-order="stroke">
<ellipse cx="38.6" cy="113.7" rx="1.12" ry=".95"/>
<ellipse cx="55.4" cy="114.8" rx="1.12" ry=".95"/>
</g>
<g fill="#6A9FD4">
<ellipse cx="48" cy="115.3" rx="2.6" ry="1.2"/>
</g>
<g fill="#C9911C" stroke="#F6D98C" stroke-width="0.8" paint-order="stroke">
<ellipse cx="40.2" cy="125.7" rx="1.12" ry=".95"/>
<ellipse cx="48" cy="124.6" rx="1.12" ry=".95"/>
<ellipse cx="54.5" cy="130.5" rx="1.12" ry=".95"/>
<ellipse cx="36.3" cy="132.4" rx="1.12" ry=".95"/>
<ellipse cx="37.9" cy="139.7" rx="1.12" ry=".95"/>
<ellipse cx="46.1" cy="143.7" rx="1.12" ry=".95"/>
<ellipse cx="53.4" cy="139.3" rx="1.12" ry=".95"/>
</g>
<g fill="#6A9FD4">
<ellipse cx="45.6" cy="134.4" rx="2.8" ry="1.6"/>
</g>
<g fill="#E2A11F">
<ellipse cx="70.9" cy="124.6" rx="1.9" ry="1.5"/>
<ellipse cx="62.2" cy="131.6" rx="1.9" ry="1.5"/>
<ellipse cx="78.7" cy="134.7" rx="1.9" ry="1.5"/>
<ellipse cx="68.1" cy="141.7" rx="1.9" ry="1.5"/>
</g>
<g fill="#6A9FD4">
<ellipse cx="70.5" cy="133.2" rx="2.8" ry="1.8"/>
</g>
<g fill="#7397B4" stroke="#C0DCF0" stroke-width="1.1" paint-order="stroke">
<ellipse cx="86.8" cy="136.7" rx="1.5" ry="1"/>
</g>
<g fill="#7C9FC0" stroke="#C6DFF2" stroke-width="0.8" paint-order="stroke">
<ellipse cx="24.9" cy="227" rx="1.35" ry=".8"/>
<ellipse cx="32" cy="228.3" rx="1.35" ry=".8"/>
<ellipse cx="21.7" cy="233.8" rx="1.35" ry=".8"/>
<ellipse cx="31" cy="236.3" rx="1.35" ry=".8"/>
</g>
<g fill="#DE9C26">
<ellipse cx="27.8" cy="231.8" rx="2.6" ry="1.7"/>
</g>
<g fill="#7C9FC0" stroke="#C6DFF2" stroke-width="0.8" paint-order="stroke">
<ellipse cx="41.2" cy="220.6" rx="1.35" ry=".8"/>
<ellipse cx="41.2" cy="232.8" rx="1.35" ry=".8"/>
</g>
<g fill="#DE9C26">
<ellipse cx="41.4" cy="226" rx="1.7" ry="1.4"/>
</g>
<g fill="#7C9FC0" stroke="#C6DFF2" stroke-width="0.8" paint-order="stroke">
<ellipse cx="35.9" cy="241.2" rx="1.35" ry=".8"/>
<ellipse cx="45.6" cy="241.6" rx="1.35" ry=".8"/>
<ellipse cx="34" cy="247.4" rx="1.35" ry=".8"/>
<ellipse cx="46.6" cy="250.3" rx="1.35" ry=".8"/>
<ellipse cx="36.9" cy="252.2" rx="1.35" ry=".8"/>
</g>
<g fill="#DE9C26">
<ellipse cx="40.8" cy="246.4" rx="2.7" ry="1.8"/>
</g>
<g fill="#7C9FC0" stroke="#C6DFF2" stroke-width="0.8" paint-order="stroke">
<ellipse cx="76" cy="166.5" rx="1.35" ry=".8"/>
<ellipse cx="92.5" cy="165.5" rx="1.35" ry=".8"/>
<ellipse cx="79" cy="173.5" rx="1.35" ry=".8"/>
<ellipse cx="90" cy="174" rx="1.35" ry=".8"/>
<ellipse cx="84" cy="162.5" rx="1.35" ry=".8"/>
<ellipse cx="85" cy="176" rx="1.35" ry=".8"/>
</g>
<g fill="#DE9C26">
<ellipse cx="84.6" cy="169.3" rx="2.8" ry="1.8"/>
</g>
<g fill="#7C9FC0" stroke="#C6DFF2" stroke-width="0.8" paint-order="stroke">
<ellipse cx="127" cy="210" rx="1.35" ry=".8"/>
<ellipse cx="139.5" cy="210.5" rx="1.35" ry=".8"/>
<ellipse cx="126.5" cy="217" rx="1.35" ry=".8"/>
<ellipse cx="140" cy="217.5" rx="1.35" ry=".8"/>
<ellipse cx="133" cy="220.5" rx="1.35" ry=".8"/>
<ellipse cx="133.1" cy="203.6" rx="1.35" ry=".8"/>
</g>
<g fill="#DE9C26">
<ellipse cx="133.5" cy="213.3" rx="2.8" ry="1.9"/>
</g>
<g fill="#8FA9BF">
<ellipse cx="133.1" cy="203.6" rx="2.2" ry="1"/>
</g>
<g fill="#C48E1B" stroke="#F3CF74" stroke-width="1.15" paint-order="stroke">
<ellipse cx="122.8" cy="250.7" rx="1.5" ry="1.2"/>
</g>
<g fill="#7397B4" stroke="#C0DCF0" stroke-width="1.1" paint-order="stroke">
<ellipse cx="55.9" cy="193.6" rx="1.2" ry=".65"/>
<ellipse cx="53.6" cy="204.1" rx="1.2" ry=".65"/>
<ellipse cx="51.3" cy="204.4" rx="1.2" ry=".65"/>
<ellipse cx="51.4" cy="202.6" rx="1.2" ry=".65"/>
<ellipse cx="48.6" cy="197.4" rx="1.2" ry=".65"/>
<ellipse cx="53.7" cy="202.4" rx="1.2" ry=".65"/>
<ellipse cx="52.6" cy="192.6" rx="1.2" ry=".65"/>
<ellipse cx="53.4" cy="206.7" rx="1.2" ry=".65"/>
<ellipse cx="50.5" cy="195.5" rx="1.2" ry=".65"/>
<ellipse cx="54.3" cy="195.9" rx="1.2" ry=".65"/>
<ellipse cx="48.6" cy="193.3" rx="1.2" ry=".65"/>
<ellipse cx="54.4" cy="207" rx="1.2" ry=".65"/>
<ellipse cx="56" cy="202" rx="1.2" ry=".65"/>
<ellipse cx="57.1" cy="206.4" rx="1.2" ry=".65"/>
<ellipse cx="50.5" cy="198.5" rx="1.2" ry=".65"/>
<ellipse cx="58.2" cy="208" rx="1.2" ry=".65"/>
<ellipse cx="116.3" cy="194.2" rx="1.2" ry=".65"/>
<ellipse cx="112.5" cy="187.2" rx="1.2" ry=".65"/>
<ellipse cx="112.3" cy="189" rx="1.2" ry=".65"/>
<ellipse cx="116.2" cy="194.5" rx="1.2" ry=".65"/>
<ellipse cx="116.2" cy="197.8" rx="1.2" ry=".65"/>
<ellipse cx="108" cy="188.7" rx="1.2" ry=".65"/>
<ellipse cx="109.3" cy="190.8" rx="1.2" ry=".65"/>
<ellipse cx="119.9" cy="192.1" rx="1.2" ry=".65"/>
<ellipse cx="118.4" cy="188.4" rx="1.2" ry=".65"/>
</g>
<g fill="#E2A11F">
<ellipse cx="190.2" cy="160.5" rx="1.08" ry=".9"/>
<ellipse cx="189.8" cy="163.8" rx="1.08" ry=".9"/>
<ellipse cx="188" cy="166.8" rx="1.08" ry=".9"/>
<ellipse cx="185.1" cy="168.8" rx="1.08" ry=".9"/>
<ellipse cx="181.7" cy="169.7" rx="1.08" ry=".9"/>
<ellipse cx="178.1" cy="169.2" rx="1.08" ry=".9"/>
<ellipse cx="175.1" cy="167.4" rx="1.08" ry=".9"/>
<ellipse cx="173" cy="164.7" rx="1.08" ry=".9"/>
<ellipse cx="172.2" cy="161.3" rx="1.08" ry=".9"/>
<ellipse cx="178" cy="155.2" rx="1.08" ry=".9"/>
</g>
<g fill="#2A8A3A">
<ellipse cx="181.2" cy="161.2" rx="2.9" ry="2.2"/>
</g>
<g fill="#E2A11F">
<ellipse cx="193.3" cy="186.1" rx="1.08" ry=".9"/>
<ellipse cx="192.3" cy="190" rx="1.08" ry=".9"/>
<ellipse cx="189.6" cy="193.2" rx="1.08" ry=".9"/>
<ellipse cx="185.7" cy="194.9" rx="1.08" ry=".9"/>
<ellipse cx="181.4" cy="194.8" rx="1.08" ry=".9"/>
<ellipse cx="177.5" cy="193" rx="1.08" ry=".9"/>
<ellipse cx="174.9" cy="189.8" rx="1.08" ry=".9"/>
<ellipse cx="174.1" cy="185.8" rx="1.08" ry=".9"/>
<ellipse cx="175.2" cy="181.9" rx="1.08" ry=".9"/>
<ellipse cx="178.1" cy="178.8" rx="1.08" ry=".9"/>
<ellipse cx="182" cy="177.2" rx="1.08" ry=".9"/>
<ellipse cx="186.3" cy="177.4" rx="1.08" ry=".9"/>
<ellipse cx="190.1" cy="179.4" rx="1.08" ry=".9"/>
<ellipse cx="192.6" cy="182.7" rx="1.08" ry=".9"/>
</g>
<g fill="#2A8A3A">
<ellipse cx="183.7" cy="186.1" rx="3" ry="2.3"/>
</g>
<g fill="#E2A11F">
<ellipse cx="226.8" cy="187" rx="1.08" ry=".9"/>
<ellipse cx="225.3" cy="190.4" rx="1.08" ry=".9"/>
<ellipse cx="222.5" cy="193" rx="1.08" ry=".9"/>
<ellipse cx="218.8" cy="194.2" rx="1.08" ry=".9"/>
<ellipse cx="214.9" cy="194" rx="1.08" ry=".9"/>
<ellipse cx="211.5" cy="192.2" rx="1.08" ry=".9"/>
<ellipse cx="209.1" cy="189.4" rx="1.08" ry=".9"/>
<ellipse cx="208.1" cy="185.8" rx="1.08" ry=".9"/>
<ellipse cx="208.8" cy="182.2" rx="1.08" ry=".9"/>
<ellipse cx="211" cy="179.2" rx="1.08" ry=".9"/>
<ellipse cx="214.3" cy="177.2" rx="1.08" ry=".9"/>
<ellipse cx="218.2" cy="176.7" rx="1.08" ry=".9"/>
<ellipse cx="221.9" cy="177.7" rx="1.08" ry=".9"/>
<ellipse cx="224.9" cy="180.1" rx="1.08" ry=".9"/>
<ellipse cx="226.6" cy="183.4" rx="1.08" ry=".9"/>
</g>
<g fill="#2A8A3A">
<ellipse cx="217.5" cy="185.5" rx="3" ry="2.3"/>
</g>
<g fill="#2E7D3C" stroke="#9CCBA0" stroke-width="0.5" paint-order="stroke">
<ellipse cx="193.4" cy="206" rx="1.3" ry="1.2"/>
<ellipse cx="200.8" cy="201.3" rx="1.3" ry="1.2"/>
<ellipse cx="205.9" cy="210.9" rx="1.3" ry="1.2"/>
<ellipse cx="200.6" cy="216.6" rx="1.3" ry="1.2"/>
<ellipse cx="193.8" cy="213.6" rx="1.3" ry="1.2"/>
</g>
<g fill="#DE9C26">
<ellipse cx="198.7" cy="209.4" rx="2.6" ry="1.9"/>
</g>
<g fill="#E2A11F">
<ellipse cx="242.5" cy="167.5" rx="1.08" ry=".9"/>
<ellipse cx="236.2" cy="183.4" rx="1.08" ry=".9"/>
<ellipse cx="248.9" cy="182.7" rx="1.08" ry=".9"/>
</g>
<g fill="#2A8A3A">
<ellipse cx="244.2" cy="177" rx="2.6" ry="1.8"/>
</g>
<g fill="#E2A11F">
<ellipse cx="254.1" cy="162.8" rx="1.08" ry=".9"/>
<ellipse cx="264.7" cy="167.5" rx="1.08" ry=".9"/>
<ellipse cx="263.2" cy="177.7" rx="1.08" ry=".9"/>
<ellipse cx="251" cy="173.8" rx="1.08" ry=".9"/>
</g>
<g fill="#2A8A3A">
<ellipse cx="258.4" cy="171.3" rx="2.9" ry="1.9"/>
</g>
<g fill="#E2A11F">
<ellipse cx="254.1" cy="185" rx="1.08" ry=".9"/>
<ellipse cx="267.9" cy="188.7" rx="1.08" ry=".9"/>
</g>
<g fill="#2A8A3A">
<ellipse cx="261.1" cy="187.6" rx="2.4" ry="1.9"/>
</g>
<g fill="#E2A11F">
<ellipse cx="273.5" cy="159.1" rx="1.08" ry=".9"/>
<ellipse cx="282.4" cy="176.2" rx="1.08" ry=".9"/>
</g>
<g fill="#2A8A3A">
<ellipse cx="282.4" cy="167.2" rx="2.3" ry="1.8"/>
</g>
<g fill="#E2A11F">
<ellipse cx="349.8" cy="74.8" rx="1.08" ry=".9"/>
<ellipse cx="354.1" cy="79.1" rx="1.08" ry=".9"/>
<ellipse cx="350.5" cy="83.4" rx="1.08" ry=".9"/>
<ellipse cx="351.3" cy="88.7" rx="1.08" ry=".9"/>
<ellipse cx="346" cy="90.6" rx="1.08" ry=".9"/>
</g>
<g fill="#BFC3CC">
<ellipse cx="341.3" cy="82.3" rx="2.4" ry="1.4"/>
</g>
<g fill="#E2A11F">
<ellipse cx="331" cy="89.8" rx="1.08" ry=".9"/>
<ellipse cx="328.5" cy="107.3" rx="1.08" ry=".9"/>
</g>
<g fill="#BFC3CC">
<ellipse cx="324.8" cy="95.8" rx="2.2" ry="1.3"/>
</g>
<g fill="#E2A11F">
<ellipse cx="344.5" cy="102.2" rx="1.7" ry="1.35"/>
<ellipse cx="350.9" cy="99.4" rx="1.7" ry="1.35"/>
<ellipse cx="358" cy="102.2" rx="1.7" ry="1.35"/>
<ellipse cx="346.6" cy="114.4" rx="1.7" ry="1.35"/>
<ellipse cx="354.1" cy="115.4" rx="1.7" ry="1.35"/>
<ellipse cx="359.4" cy="110" rx="1.7" ry="1.35"/>
</g>
<g fill="#BFC3CC">
<ellipse cx="352" cy="107.3" rx="2.4" ry="1.4"/>
</g>
<g fill="#C9911C" stroke="#F6D98C" stroke-width="0.8" paint-order="stroke">
<ellipse cx="376.8" cy="64.9" rx="1.12" ry=".95"/>
<ellipse cx="374.8" cy="69.8" rx="1.12" ry=".95"/>
<ellipse cx="370.5" cy="72.8" rx="1.12" ry=".95"/>
<ellipse cx="365.1" cy="73" rx="1.12" ry=".95"/>
<ellipse cx="360.5" cy="70.4" rx="1.12" ry=".95"/>
<ellipse cx="358.1" cy="65.7" rx="1.12" ry=".95"/>
<ellipse cx="358.7" cy="60.5" rx="1.12" ry=".95"/>
<ellipse cx="362.1" cy="56.5" rx="1.12" ry=".95"/>
<ellipse cx="367.2" cy="54.9" rx="1.12" ry=".95"/>
<ellipse cx="372.4" cy="56.3" rx="1.12" ry=".95"/>
<ellipse cx="375.9" cy="60.2" rx="1.12" ry=".95"/>
</g>
<g fill="#BFC3CC">
<ellipse cx="367.4" cy="64.1" rx="2.6" ry="1.5"/>
</g>
<g fill="#C9911C" stroke="#F6D98C" stroke-width="0.8" paint-order="stroke">
<ellipse cx="378.2" cy="30.4" rx="1.12" ry=".95"/>
<ellipse cx="372.9" cy="35.3" rx="1.12" ry=".95"/>
<ellipse cx="372.3" cy="39.6" rx="1.12" ry=".95"/>
<ellipse cx="373.3" cy="44.3" rx="1.12" ry=".95"/>
</g>
<g fill="#BFC3CC">
<ellipse cx="381.9" cy="40.2" rx="2.8" ry="1.4"/>
</g>
<g fill="#C48E1B" stroke="#F3CF74" stroke-width="1.15" paint-order="stroke">
<ellipse cx="382.5" cy="84.4" rx="1.4" ry="1.1"/>
</g>
<g fill="#4FA3DC">
<ellipse cx="382.5" cy="93.6" rx="1.6" ry="1"/>
</g>
<g fill="#C48E1B" stroke="#F3CF74" stroke-width="1.15" paint-order="stroke">
<ellipse cx="383.4" cy="102.6" rx="1.4" ry="1.1"/>
</g>
<g fill="#C9911C" stroke="#F6D98C" stroke-width="0.8" paint-order="stroke">
<ellipse cx="375.5" cy="112.2" rx="1.12" ry=".95"/>
<ellipse cx="392.1" cy="112.2" rx="1.12" ry=".95"/>
<ellipse cx="378" cy="120.3" rx="1.12" ry=".95"/>
<ellipse cx="387.2" cy="121.2" rx="1.12" ry=".95"/>
</g>
<g fill="#BFC3CC">
<ellipse cx="383" cy="113.3" rx="2.2" ry="1.3"/>
</g>
<g fill="#C48E1B" stroke="#F3CF74" stroke-width="1.15" paint-order="stroke">
<ellipse cx="400" cy="102.6" rx="1.5" ry="1.2"/>
</g>
<g fill="#8E97B2" stroke="#D9DCE8" stroke-width="0.8" paint-order="stroke">
<ellipse cx="401" cy="88" rx="1.45" ry=".85"/>
<ellipse cx="413" cy="89.5" rx="1.45" ry=".85"/>
<ellipse cx="406" cy="96.5" rx="1.45" ry=".85"/>
</g>
<g fill="#DE9C26">
<ellipse cx="407" cy="91.2" rx="3" ry="1.9"/>
</g>
<g fill="#8E97B2" stroke="#D9DCE8" stroke-width="0.8" paint-order="stroke">
<ellipse cx="394.5" cy="100" rx="1.45" ry=".85"/>
<ellipse cx="405" cy="105" rx="1.45" ry=".85"/>
</g>
<g fill="#DE9C26">
<ellipse cx="400" cy="102" rx="2.8" ry="1.8"/>
</g>
<g fill="#C48E1B" stroke="#F3CF74" stroke-width="1.15" paint-order="stroke">
<ellipse cx="390.2" cy="112" rx="1.5" ry="1.2"/>
<ellipse cx="387.6" cy="121.5" rx="1.3" ry="1"/>
</g>
<g fill="#E8A322">
<ellipse cx="438.7" cy="73.5" rx="3.2" ry="2.1"/>
</g>
<g fill="#C9911C" stroke="#F6D98C" stroke-width="0.8" paint-order="stroke">
<ellipse cx="379.9" cy="138.6" rx="1.12" ry=".95"/>
<ellipse cx="374.6" cy="141.7" rx="1.12" ry=".95"/>
<ellipse cx="372.5" cy="147.7" rx="1.12" ry=".95"/>
<ellipse cx="376.7" cy="153.4" rx="1.12" ry=".95"/>
<ellipse cx="384.1" cy="159.7" rx="1.12" ry=".95"/>
<ellipse cx="379" cy="157" rx="1.12" ry=".95"/>
<ellipse cx="384.5" cy="137" rx="1.12" ry=".95"/>
</g>
<g fill="#BFC3CC">
<ellipse cx="386.3" cy="147.7" rx="3" ry="1.5"/>
</g>
<g fill="#8E97B2" stroke="#D9DCE8" stroke-width="0.8" paint-order="stroke">
<ellipse cx="436.3" cy="137.5" rx="1.45" ry=".85"/>
<ellipse cx="438.8" cy="141" rx="1.45" ry=".85"/>
<ellipse cx="440" cy="147.5" rx="1.45" ry=".85"/>
<ellipse cx="442.3" cy="151" rx="1.45" ry=".85"/>
<ellipse cx="445.5" cy="152.5" rx="1.45" ry=".85"/>
<ellipse cx="447" cy="148.8" rx="1.45" ry=".85"/>
<ellipse cx="450.5" cy="152.5" rx="1.45" ry=".85"/>
<ellipse cx="453.8" cy="150" rx="1.45" ry=".85"/>
<ellipse cx="455.5" cy="143" rx="1.45" ry=".85"/>
<ellipse cx="458.8" cy="141.3" rx="1.45" ry=".85"/>
<ellipse cx="452" cy="146.5" rx="1.45" ry=".85"/>
<ellipse cx="451.3" cy="126.3" rx="1.45" ry=".85"/>
</g>
<g fill="#DE9C26">
<ellipse cx="448.3" cy="135.8" rx="3.2" ry="2.3"/>
</g>
<g fill="#8E97B2" stroke="#D9DCE8" stroke-width="0.8" paint-order="stroke">
<ellipse cx="478.4" cy="132.5" rx="1.45" ry=".85"/>
<ellipse cx="470.8" cy="138.8" rx="1.45" ry=".85"/>
</g>
<g fill="#DE9C26">
<ellipse cx="470.8" cy="132.5" rx="2.4" ry="1.8"/>
</g>
<g fill="#8E97B2" stroke="#D9DCE8" stroke-width="0.8" paint-order="stroke">
<ellipse cx="411.5" cy="137.6" rx="1.45" ry=".85"/>
<ellipse cx="427.9" cy="137.6" rx="1.45" ry=".85"/>
<ellipse cx="417.8" cy="151.5" rx="1.45" ry=".85"/>
</g>
<g fill="#DE9C26">
<ellipse cx="418.3" cy="142" rx="2.5" ry="1.9"/>
</g>
<g fill="#8E97B2" stroke="#D9DCE8" stroke-width="0.8" paint-order="stroke">
<ellipse cx="417.8" cy="151.5" rx="1.45" ry=".85"/>
<ellipse cx="417.3" cy="166.6" rx="1.45" ry=".85"/>
</g>
<g fill="#DE9C26">
<ellipse cx="418.3" cy="159.8" rx="2.6" ry="1.8"/>
</g>
<g fill="#8E97B2" stroke="#D9DCE8" stroke-width="0.8" paint-order="stroke">
<ellipse cx="396.8" cy="175" rx="1.45" ry=".85"/>
<ellipse cx="409" cy="186" rx="1.45" ry=".85"/>
</g>
<g fill="#DE9C26">
<ellipse cx="402.6" cy="181.3" rx="2.3" ry="1.8"/>
</g>
<g fill="#8E97B2" stroke="#D9DCE8" stroke-width="0.8" paint-order="stroke">
<ellipse cx="425.4" cy="173.4" rx="1.45" ry=".85"/>
<ellipse cx="438" cy="184.3" rx="1.45" ry=".85"/>
</g>
<g fill="#DE9C26">
<ellipse cx="431.7" cy="179.2" rx="2.3" ry="1.8"/>
</g>
<g fill="#8E97B2" stroke="#D9DCE8" stroke-width="0.8" paint-order="stroke">
<ellipse cx="449.8" cy="164.8" rx="1.45" ry=".85"/>
<ellipse cx="456.2" cy="180.5" rx="1.45" ry=".85"/>
</g>
<g fill="#DE9C26">
<ellipse cx="453.6" cy="172.4" rx="2.3" ry="1.8"/>
</g>
<g fill="#8E97B2" stroke="#D9DCE8" stroke-width="0.8" paint-order="stroke">
<ellipse cx="471.3" cy="162.8" rx="1.45" ry=".85"/>
<ellipse cx="470.8" cy="180.5" rx="1.45" ry=".85"/>
</g>
<g fill="#DE9C26">
<ellipse cx="470.8" cy="171.7" rx="2.3" ry="1.8"/>
</g>
<g fill="#8E97B2" stroke="#D9DCE8" stroke-width="0.8" paint-order="stroke">
<ellipse cx="479.6" cy="162.8" rx="1.45" ry=".85"/>
<ellipse cx="486.7" cy="178" rx="1.45" ry=".85"/>
</g>
<g fill="#DE9C26">
<ellipse cx="483.4" cy="170.4" rx="2.3" ry="1.8"/>
</g>
<g fill="#8E97B2" stroke="#D9DCE8" stroke-width="0.8" paint-order="stroke">
<ellipse cx="494" cy="162.3" rx="1.45" ry=".85"/>
<ellipse cx="506.7" cy="174.2" rx="1.45" ry=".85"/>
</g>
<g fill="#DE9C26">
<ellipse cx="500.4" cy="167.9" rx="2.3" ry="1.8"/>
</g>
<g fill="#C48E1B" stroke="#F3CF74" stroke-width="1.15" paint-order="stroke">
<ellipse cx="325.7" cy="175" rx="1.3" ry="1.05"/>
</g>
<g fill="#8D8D96" stroke="#D7D7DD" stroke-width="1.1" paint-order="stroke">
<ellipse cx="331.5" cy="180.5" rx="2" ry=".9"/>
</g>
<g fill="#C48E1B" stroke="#F3CF74" stroke-width="1.15" paint-order="stroke">
<ellipse cx="335.8" cy="184.3" rx="1.3" ry="1.05"/>
<ellipse cx="346.6" cy="175.5" rx="1.3" ry="1.05"/>
</g>
<g fill="#8D8D96" stroke="#D7D7DD" stroke-width="1.1" paint-order="stroke">
<ellipse cx="345.9" cy="183" rx="1.8" ry=".9"/>
</g>
<g fill="#7397B4" stroke="#C0DCF0" stroke-width="1.1" paint-order="stroke">
<ellipse cx="345.9" cy="191.9" rx="1.2" ry=".9"/>
<ellipse cx="355.5" cy="183" rx="1.3" ry=".9"/>
</g>
<g fill="#C48E1B" stroke="#F3CF74" stroke-width="1.15" paint-order="stroke">
<ellipse cx="362.3" cy="178" rx="1.4" ry="1.1"/>
</g>
<g fill="#8D8D96" stroke="#D7D7DD" stroke-width="1.1" paint-order="stroke">
<ellipse cx="370.4" cy="174.2" rx="2.2" ry="1"/>
</g>
<g fill="#C48E1B" stroke="#F3CF74" stroke-width="1.15" paint-order="stroke">
<ellipse cx="378.7" cy="176.7" rx="1.3" ry="1.05"/>
<ellipse cx="370.4" cy="161.6" rx="1.3" ry="1.05"/>
</g>
<g fill="#2E7D3C" stroke="#9CCBA0" stroke-width="0.5" paint-order="stroke">
<ellipse cx="261.3" cy="187.6" rx="1.5" ry="1.3"/>
</g>
<path d="M51.2 88.5h3.6M63.3 109.4h2.8M73.3 109.4h2.8M83.8 109.4h2.8M46 115.3h3.9M68.4 133.2h4.2M25.9 231.8h3.9M40.1 226h2.5M38.8 246.4h4.1M131.4 213.3h4.2M179 161.2h4.3M196.8 209.4h3.9M242.2 177h3.9M256.2 171.3h4.3M259.3 187.6h3.6M280.7 167.2h3.4M350.2 107.3h3.6M404.8 91.2h4.5M397.9 102h4.2M445.9 135.8h4.8M469 132.5h3.6M416.4 142h3.8M416.4 159.8h3.9M400.9 181.3h3.4M430 179.2h3.4M451.9 172.4h3.4M469.1 171.7h3.4M481.7 170.4h3.4M498.7 167.9h3.4" stroke="#222" stroke-width="0.6" opacity="0.75" fill="none"/>
<g font-weight="bold" fill="#0a0a0a" stroke="#0a0a0a" stroke-width="0.3" stroke-linejoin="round" text-anchor="middle">
<text x="116.3" y="79.2" font-size="9.8" textLength="27.4" lengthAdjust="spacingAndGlyphs">RNF34</text>
<text x="127.8" y="121.1" font-size="7" textLength="29" lengthAdjust="spacingAndGlyphs">SNORA6</text>
<text x="33.3" y="194.7" font-size="8.8" textLength="29.6" lengthAdjust="spacingAndGlyphs">CH25H</text>
<text x="91.3" y="215.2" font-size="10.4" textLength="55.3" lengthAdjust="spacingAndGlyphs">LINC01881</text>
<text x="129.7" y="183.5" font-size="8.8" textLength="34" lengthAdjust="spacingAndGlyphs">SPPL2C</text>
<text x="193.5" y="131.1" font-size="10.8" textLength="39" lengthAdjust="spacingAndGlyphs">ENTPD1</text>
<text x="278.2" y="71.1" font-size="10.8" textLength="14.6" lengthAdjust="spacingAndGlyphs">IL9</text>
<text x="329.1" y="39.2" font-size="7.7" textLength="16" lengthAdjust="spacingAndGlyphs">IFIT2</text>
<text x="424.3" y="58.1" font-size="9.3" textLength="47.5" lengthAdjust="spacingAndGlyphs">LINC01194</text>
<text x="480.4" y="50.4" font-size="9.6" textLength="35" lengthAdjust="spacingAndGlyphs">ZC3H15</text>
<text x="460.1" y="100.1" font-size="8.8" textLength="27.3" lengthAdjust="spacingAndGlyphs">RAB21</text>
</g>
<g font-weight="bold" fill="#0a0a0a" stroke="#0a0a0a" stroke-width="0.14" stroke-linejoin="round" text-anchor="middle">
<text x="108.9" y="41.5" font-size="4.7" textLength="24.2" lengthAdjust="spacingAndGlyphs">MIR101-1</text>
<text x="145.2" y="201.3" font-size="4.2" textLength="13.3" lengthAdjust="spacingAndGlyphs">APEX2</text>
<text x="230.8" y="94.8" font-size="6.8" textLength="18" lengthAdjust="spacingAndGlyphs">CD1C</text>
<text x="191.0" y="92.6" font-size="4.7" textLength="20.4" lengthAdjust="spacingAndGlyphs">LGALS2</text>
<text x="197.2" y="54.2" font-size="4.6" textLength="19.9" lengthAdjust="spacingAndGlyphs">S100A16</text>
<text x="232.7" y="45.7" font-size="4.2" textLength="11" lengthAdjust="spacingAndGlyphs">IFI30</text>
<text x="227.1" y="157.1" font-size="6.9" textLength="30.8" lengthAdjust="spacingAndGlyphs">CYP2B7P</text>
<text x="255.3" y="131.6" font-size="6.1" textLength="22.6" lengthAdjust="spacingAndGlyphs">ERVW-1</text>
<text x="332.4" y="142.8" font-size="6.4" textLength="25.8" lengthAdjust="spacingAndGlyphs">C3orf80</text>
<text x="432.7" y="98.1" font-size="6.4" textLength="17.7" lengthAdjust="spacingAndGlyphs">XYLB</text>
<text x="486.2" y="98.4" font-size="5.8" textLength="14.5" lengthAdjust="spacingAndGlyphs">HAT1</text>
</g>
<g font-weight="bold" fill="#1a1a1a" text-anchor="middle">
<text x="59.2" y="49.7" font-size="2.4">MIR4</text>
<text x="83.4" y="48.3" font-size="2.4">MIR5</text>
<text x="81.6" y="81.3" font-size="2.4">MIR6</text>
<text x="45.6" y="135.2" font-size="2.2">MIR7</text>
<text x="70.5" y="132.0" font-size="2.2">SNORD3B</text>
<text x="84.6" y="170.0" font-size="2.0">MIR3136</text>
<text x="183.7" y="187.3" font-size="3.2">CD1E</text>
<text x="217.5" y="186.9" font-size="3.8">S100A10</text>
<text x="341.3" y="83.3" font-size="2.8">KLRF1</text>
<text x="324.8" y="96.6" font-size="2.2">KIR</text>
<text x="352.3" y="108.5" font-size="3.4" textLength="20.6" lengthAdjust="spacingAndGlyphs">LOC100130880</text>
<text x="367.4" y="65.3" font-size="3.3">PLAGL1</text>
<text x="381.9" y="41.3" font-size="3.0">SOCS3</text>
<text x="383.0" y="114.1" font-size="2.2">KIR2</text>
<text x="438.7" y="74.3" font-size="2.2">HTATSF1</text>
<text x="386.3" y="148.6" font-size="2.4">KCNMA1-AS2</text>
<text x="448.3" y="135.5" font-size="2.4">TAS2R14</text>
</g>
</g>
<g id="static">
<text x="7" y="17" font-size="12" fill="#000" font-weight="bold">A</text>
<text x="7.7" y="309.6" font-size="11.5" fill="#000" font-weight="bold">B</text>
<text x="238.5" y="309.4" font-size="11.5" fill="#000" font-weight="bold">C</text>
<text x="293" y="203.4" font-size="8" fill="#222" textLength="58.8" lengthAdjust="spacingAndGlyphs">Appear network</text>
<rect x="292.2" y="210.2" width="216.3" height="72.6" rx="5.5" ry="5.5" fill="#fff" stroke="#333" stroke-width="0.9"/>
<text x="298" y="218.2" font-size="7.5" fill="#222" textLength="51.2" lengthAdjust="spacingAndGlyphs">Node fill color</text>
<circle cx="301.2" cy="231.1" r="2.8" fill="#3CA93A"/>
<text x="307.7" y="233.6" font-size="7.2" fill="#222">LSC</text>
<circle cx="301.2" cy="242.5" r="2.8" fill="#2C9CDC"/>
<text x="307.7" y="245.0" font-size="7.2" fill="#222">LPC</text>
<circle cx="301.2" cy="253.9" r="2.8" fill="#F0900F"/>
<text x="307.7" y="256.4" font-size="7.2" fill="#222">CD4</text>
<circle cx="301.2" cy="265.3" r="2.8" fill="#C6C6C8"/>
<text x="307.7" y="267.8" font-size="7.2" fill="#222">CD8</text>
<text x="368.4" y="218.2" font-size="7.5" fill="#222" textLength="53" lengthAdjust="spacingAndGlyphs">Node/lable size</text>
<polygon points="368.6,247.6 500.9,224.3 500.9,258.2 368.6,258.2" fill="#D5E6F5"/>
<rect x="368.7" y="224.1" width="132.1" height="34.1" fill="none" stroke="#333" stroke-width="0.9"/>
<text x="352.7" y="227.6" font-size="7.8" fill="#222" textLength="15.2" lengthAdjust="spacingAndGlyphs">27.7</text>
<text x="354.2" y="261.2" font-size="7.8" fill="#222" textLength="10.8" lengthAdjust="spacingAndGlyphs">0.0</text>
<text x="365.8" y="267.5" font-size="7.8" fill="#222" textLength="10.7" lengthAdjust="spacingAndGlyphs">0.0</text>
<text x="491.6" y="267.8" font-size="7.8" fill="#222" textLength="11.4" lengthAdjust="spacingAndGlyphs">2.5</text>
<text x="0" y="0" font-size="8.6" fill="#222" text-anchor="middle" textLength="14.4" lengthAdjust="spacingAndGlyphs" transform="translate(353.9,241.5) rotate(-90)">Size</text>
<path d="M359.6 254.2 V233" stroke="#222" stroke-width="1" fill="none"/><path d="M359.6 229.4 l-2.3 5.4 l2.3 -1.2 l2.3 1.2 z" fill="#222"/>
<path d="M379.7 265.5 H484" stroke="#222" stroke-width="1" fill="none"/><path d="M487.9 265.5 l-5.4 -2.3 l1.2 2.3 l-1.2 2.3 z" fill="#222"/>
<text x="385.5" y="276.9" font-size="9.3" fill="#222" textLength="96.6" lengthAdjust="spacingAndGlyphs">log10 number of correlation</text>
<text x="119.5" y="322.8" font-size="9" fill="#222" text-anchor="middle" textLength="69.7" lengthAdjust="spacingAndGlyphs">Appear network</text>
<path d="M35 328.6 H203.5" stroke="#333" stroke-width="0.9"/>
<rect x="36.60" y="362.65" width="6.3" height="38.15" fill="#3CA93A"/>
<path d="M39.75 400.8 v3.2" stroke="#222" stroke-width="0.9"/>
<text x="0" y="0" font-size="8.3" fill="#222" text-anchor="end" transform="translate(42.95,410.40) rotate(-45)">Favorable</text>
<rect x="48.30" y="394.05" width="6.3" height="6.75" fill="#3CA93A"/>
<path d="M51.45 400.8 v3.2" stroke="#222" stroke-width="0.9"/>
<text x="0" y="0" font-size="8.3" fill="#222" text-anchor="end" transform="translate(54.65,410.40) rotate(-45)">Intermediate</text>
<rect x="60.00" y="378.35" width="6.3" height="22.45" fill="#3CA93A"/>
<path d="M63.15 400.8 v3.2" stroke="#222" stroke-width="0.9"/>
<text x="0" y="0" font-size="8.3" fill="#222" text-anchor="end" transform="translate(66.35,410.40) rotate(-45)">Adverse</text>
<rect x="80.30" y="386.20" width="6.3" height="14.60" fill="#2C9CDC"/>
<path d="M83.45 400.8 v3.2" stroke="#222" stroke-width="0.9"/>
<text x="0" y="0" font-size="8.3" fill="#222" text-anchor="end" transform="translate(86.65,410.40) rotate(-45)">Favorable</text>
<rect x="92.00" y="394.05" width="6.3" height="6.75" fill="#2C9CDC"/>
<path d="M95.15 400.8 v3.2" stroke="#222" stroke-width="0.9"/>
<text x="0" y="0" font-size="8.3" fill="#222" text-anchor="end" transform="translate(98.35,410.40) rotate(-45)">Intermediate</text>
<path d="M106.85 400.8 v3.2" stroke="#222" stroke-width="0.9"/>
<text x="0" y="0" font-size="8.3" fill="#222" text-anchor="end" transform="translate(110.05,410.40) rotate(-45)">Adverse</text>
<rect x="123.95" y="394.05" width="6.3" height="6.75" fill="#C6C6C8"/>
<path d="M127.10 400.8 v3.2" stroke="#222" stroke-width="0.9"/>
<text x="0" y="0" font-size="8.3" fill="#222" text-anchor="end" transform="translate(130.30,410.40) rotate(-45)">Favorable</text>
<rect x="135.65" y="386.20" width="6.3" height="14.60" fill="#C6C6C8"/>
<path d="M138.80 400.8 v3.2" stroke="#222" stroke-width="0.9"/>
<text x="0" y="0" font-size="8.3" fill="#222" text-anchor="end" transform="translate(142.00,410.40) rotate(-45)">Intermediate</text>
<rect x="147.35" y="394.05" width="6.3" height="6.75" fill="#C6C6C8"/>
<path d="M150.50 400.8 v3.2" stroke="#222" stroke-width="0.9"/>
<text x="0" y="0" font-size="8.3" fill="#222" text-anchor="end" transform="translate(153.70,410.40) rotate(-45)">Adverse</text>
<rect x="167.70" y="346.95" width="6.3" height="53.85" fill="#F0900F"/>
<path d="M170.85 400.8 v3.2" stroke="#222" stroke-width="0.9"/>
<text x="0" y="0" font-size="8.3" fill="#222" text-anchor="end" transform="translate(174.05,410.40) rotate(-45)">Favorable</text>
<rect x="179.40" y="354.80" width="6.3" height="46.00" fill="#F0900F"/>
<path d="M182.55 400.8 v3.2" stroke="#222" stroke-width="0.9"/>
<text x="0" y="0" font-size="8.3" fill="#222" text-anchor="end" transform="translate(185.75,410.40) rotate(-45)">Intermediate</text>
<rect x="191.10" y="346.95" width="6.3" height="53.85" fill="#F0900F"/>
<path d="M194.25 400.8 v3.2" stroke="#222" stroke-width="0.9"/>
<text x="0" y="0" font-size="8.3" fill="#222" text-anchor="end" transform="translate(197.45,410.40) rotate(-45)">Adverse</text>
<path d="M31.8 337.6 V400.8 H205.3" stroke="#222" stroke-width="1.2" fill="none"/>
<path d="M28.4 400.80 h3.4" stroke="#222" stroke-width="1"/>
<text x="25.7" y="403.8" font-size="8.6" fill="#222" text-anchor="end">0</text>
<path d="M28.4 385.10 h3.4" stroke="#222" stroke-width="1"/>
<text x="25.7" y="388.1" font-size="8.6" fill="#222" text-anchor="end">2</text>
<path d="M28.4 369.40 h3.4" stroke="#222" stroke-width="1"/>
<text x="25.7" y="372.4" font-size="8.6" fill="#222" text-anchor="end">4</text>
<path d="M28.4 353.70 h3.4" stroke="#222" stroke-width="1"/>
<text x="25.7" y="356.7" font-size="8.6" fill="#222" text-anchor="end">6</text>
<path d="M28.4 338.00 h3.4" stroke="#222" stroke-width="1"/>
<text x="25.7" y="341.0" font-size="8.6" fill="#222" text-anchor="end">8</text>
<text x="0" y="0" font-size="9.8" fill="#222" text-anchor="middle" textLength="55.5" lengthAdjust="spacingAndGlyphs" transform="translate(15.5,368.4) rotate(-90)">Number of hubs</text>
<rect x="33.3" y="335.5" width="39.2" height="69.4" rx="2" fill="none" stroke="#3CA93A" stroke-width="0.9" stroke-dasharray="1.2 2.1"/>
<rect x="163.6" y="335.5" width="39.9" height="69.4" rx="2" fill="none" stroke="#222" stroke-width="0.9" stroke-dasharray="1.2 2.1"/>
<text x="65.2" y="458.2" font-size="8" fill="#222" textLength="32.8" lengthAdjust="spacingAndGlyphs">Cell type</text>
<rect x="65.2" y="465.3" width="4.3" height="4.3" fill="#3CA93A"/>
<text x="72.60000000000001" y="470.1" font-size="7.5" fill="#222">LSC</text>
<rect x="92.7" y="465.3" width="4.3" height="4.3" fill="#2C9CDC"/>
<text x="100.10000000000001" y="470.1" font-size="7.5" fill="#222">LPC</text>
<rect x="120.7" y="465.3" width="4.3" height="4.3" fill="#F0900F"/>
<text x="128.1" y="470.1" font-size="7.5" fill="#222">CD4</text>
<rect x="149.7" y="465.3" width="4.3" height="4.3" fill="#C6C6C8"/>
<text x="157.1" y="470.1" font-size="7.5" fill="#222">CD8</text>
<circle cx="306.2" cy="365" r="24" fill="#F0900F"/>
<text x="306.2" y="368.4" font-size="9.5" fill="#fff" text-anchor="middle">CD4</text>
<circle cx="428" cy="365.2" r="24" fill="#C6C6C8"/>
<text x="428" y="368.59999999999997" font-size="9.5" fill="#222" text-anchor="middle">CD8</text>
<circle cx="306.2" cy="472.5" r="24" fill="#3CA93A"/>
<text x="306.2" y="475.9" font-size="9.5" fill="#fff" text-anchor="middle">LSC</text>
<circle cx="428" cy="472.5" r="24" fill="#2C9CDC"/>
<text x="428" y="475.9" font-size="9.5" fill="#fff" text-anchor="middle">LPC</text>
<text x="328.3" y="305.1" font-size="7.9" fill="#3A4250" font-style="italic">HAT1</text>
<text x="328.3" y="313.88" font-size="7.9" fill="#3A4250" font-style="italic">HTATSF1</text>
<text x="328.3" y="322.66" font-size="7.9" fill="#3A4250" font-style="italic">LINC01194</text>
<text x="328.3" y="331.44" font-size="7.9" fill="#3A4250" font-style="italic">RAB21</text>
<text x="328.3" y="340.22" font-size="7.9" fill="#3A4250" font-style="italic">XYLB</text>
<text x="328.3" y="349.0" font-size="7.9" fill="#3A4250" font-style="italic">ZC3H15</text>
<text x="238" y="349.8" font-size="7.9" fill="#F0900F" font-style="italic">APEX2</text>
<text x="238" y="358.75" font-size="7.9" fill="#F0900F" font-style="italic">CH25H</text>
<text x="238" y="367.7" font-size="7.9" fill="#F0900F" font-style="italic">LINC01881</text>
<text x="238" y="376.65" font-size="7.9" fill="#F0900F" font-style="italic">MIR3136</text>
<text x="238" y="385.6" font-size="7.9" fill="#F0900F" font-style="italic">SPPL2C</text>
<text x="455.7" y="345.5" font-size="7.9" fill="#C4C4C6" font-style="italic">C3orf80</text>
<text x="455.7" y="354.38" font-size="7.9" fill="#C4C4C6" font-style="italic">IFIT2</text>
<text x="455.7" y="363.26" font-size="7.9" fill="#C4C4C6" font-style="italic">KCNMA1-AS2</text>
<text x="455.7" y="372.14" font-size="7.9" fill="#C4C4C6" font-style="italic">LOC100130880</text>
<text x="455.7" y="381.02" font-size="7.9" fill="#C4C4C6" font-style="italic">PLAGL1</text>
<text x="455.7" y="389.9" font-size="7.9" fill="#C4C4C6" font-style="italic">SOCS3</text>
<text x="238" y="443.9" font-size="7.9" fill="#3CA93A" font-style="italic">CD1C</text>
<text x="238" y="452.76" font-size="7.9" fill="#3CA93A" font-style="italic">CYP2B7P</text>
<text x="238" y="461.62" font-size="7.9" fill="#3CA93A" font-style="italic">ENTPD1</text>
<text x="238" y="470.48" font-size="7.9" fill="#3CA93A" font-style="italic">ERVW-1</text>
<text x="238" y="479.34" font-size="7.9" fill="#3CA93A" font-style="italic">IFI30</text>
<text x="238" y="488.2" font-size="7.9" fill="#3CA93A" font-style="italic">IL9</text>
<text x="238" y="497.06" font-size="7.9" fill="#3CA93A" font-style="italic">LGALS2</text>
<text x="238" y="505.92" font-size="7.9" fill="#3CA93A" font-style="italic">S100A16</text>
<text x="455.7" y="466.4" font-size="7.9" fill="#2C9CDC" font-style="italic">MIR101-1</text>
<text x="455.7" y="475.1" font-size="7.9" fill="#2C9CDC" font-style="italic">RNF34</text>
<text x="455.7" y="483.8" font-size="7.9" fill="#2C9CDC" font-style="italic">SNORA6</text>
<path d="M339.4 364.5 L379.8 364.5" stroke="#2F3B4A" stroke-width="1.5" fill="none"/>
<path d="M383.6 364.5 L376.6 367.6 L379.4 364.5 L376.6 361.4 Z" fill="#2F3B4A"/>
<path d="M395.0 372.8 L354.2 372.8" stroke="#C4C4C6" stroke-width="1.5" fill="none"/>
<path d="M350.3 372.8 L357.3 369.7 L354.5 372.8 L357.3 375.9 Z" fill="#C4C4C6"/>
<path d="M330.6 391.0 L389.0 439.8" stroke="#F0900F" stroke-width="1.5" fill="none"/>
<path d="M392.0 442.3 L384.6 440.2 L388.8 439.6 L388.6 435.4 Z" fill="#F0900F"/>
<path d="M395.8 456.7 L336.9 407.4" stroke="#2C9CDC" stroke-width="1.5" fill="none"/>
<path d="M333.9 404.9 L341.3 407.0 L337.1 407.6 L337.3 411.8 Z" fill="#2C9CDC"/>
<path d="M306.6 441.2 L306.6 401.7" stroke="#3CA93A" stroke-width="1.9" fill="none"/>
<path d="M306.6 397.0 L310.4 405.5 L306.6 402.1 L302.8 405.5 Z" fill="#3CA93A"/>
<text x="362.4" y="360.8" font-size="8" fill="#3A4250" text-anchor="middle">6</text>
<text x="372.3" y="384.3" font-size="8" fill="#C4C4C6" text-anchor="middle">6</text>
<text x="372.3" y="417.2" font-size="8" fill="#F0900F" text-anchor="middle">5</text>
<text x="351.6" y="434" font-size="8" fill="#2C9CDC" text-anchor="middle">3</text>
<text x="297.1" y="425" font-size="8" fill="#3CA93A" text-anchor="middle">8</text>
</g>
</svg>
<div id="frame"></div>
</body></html>
